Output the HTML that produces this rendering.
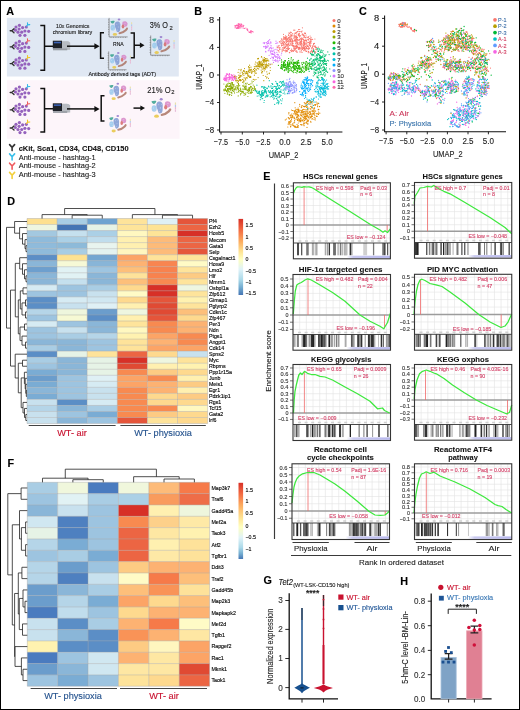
<!DOCTYPE html>
<html><head><meta charset="utf-8"><style>
html,body{margin:0;padding:0;background:#fff;}
svg{display:block;font-family:"Liberation Sans",sans-serif;will-change:transform;}
</style></head><body>
<svg width="520" height="710" viewBox="0 0 520 710">
<defs>
<linearGradient id="rdylbu" x1="0" y1="0" x2="0" y2="1">
<stop offset="0" stop-color="#d73027"/><stop offset="0.15" stop-color="#f46d43"/><stop offset="0.3" stop-color="#fdae61"/>
<stop offset="0.42" stop-color="#fee090"/><stop offset="0.53" stop-color="#ffffbf"/><stop offset="0.66" stop-color="#e0f3f8"/>
<stop offset="0.8" stop-color="#abd9e9"/><stop offset="0.9" stop-color="#74add1"/><stop offset="1" stop-color="#4575b4"/>
</linearGradient>
<linearGradient id="rdylbuF" x1="0" y1="0" x2="0" y2="1">
<stop offset="0" stop-color="#d73027"/><stop offset="0.15" stop-color="#f46d43"/><stop offset="0.3" stop-color="#fdae61"/>
<stop offset="0.45" stop-color="#fee090"/><stop offset="0.58" stop-color="#ffffbf"/><stop offset="0.72" stop-color="#e0f3f8"/>
<stop offset="0.85" stop-color="#abd9e9"/><stop offset="0.93" stop-color="#74add1"/><stop offset="1" stop-color="#4575b4"/>
</linearGradient>
</defs>
<rect x="0" y="0" width="520" height="710" fill="#fff"/>
<rect x="27" y="218.5" width="30.1" height="6.03" fill="#fde08f"/>
<rect x="57.1" y="218.5" width="30.1" height="6.03" fill="#a8cde4"/>
<rect x="87.2" y="218.5" width="30.1" height="6.03" fill="#6fa3d0"/>
<rect x="117.3" y="218.5" width="30.1" height="6.03" fill="#fee39a"/>
<rect x="147.4" y="218.5" width="30.1" height="6.03" fill="#dff0f5"/>
<rect x="177.5" y="218.5" width="30.1" height="6.03" fill="#e5553a"/>
<rect x="27" y="224.53" width="30.1" height="6.03" fill="#eef6e0"/>
<rect x="57.1" y="224.53" width="30.1" height="6.03" fill="#4575b4"/>
<rect x="87.2" y="224.53" width="30.1" height="6.03" fill="#e6f3e6"/>
<rect x="117.3" y="224.53" width="30.1" height="6.03" fill="#fee49a"/>
<rect x="147.4" y="224.53" width="30.1" height="6.03" fill="#fee394"/>
<rect x="177.5" y="224.53" width="30.1" height="6.03" fill="#ec6543"/>
<rect x="27" y="230.56" width="30.1" height="6.03" fill="#a3c8e0"/>
<rect x="57.1" y="230.56" width="30.1" height="6.03" fill="#c5e0ee"/>
<rect x="87.2" y="230.56" width="30.1" height="6.03" fill="#abd0e6"/>
<rect x="117.3" y="230.56" width="30.1" height="6.03" fill="#fff8c0"/>
<rect x="147.4" y="230.56" width="30.1" height="6.03" fill="#fee497"/>
<rect x="177.5" y="230.56" width="30.1" height="6.03" fill="#d73027"/>
<rect x="27" y="236.59" width="30.1" height="6.03" fill="#8fbbdb"/>
<rect x="57.1" y="236.59" width="30.1" height="6.03" fill="#abd0e6"/>
<rect x="87.2" y="236.59" width="30.1" height="6.03" fill="#c0dded"/>
<rect x="117.3" y="236.59" width="30.1" height="6.03" fill="#fff0b0"/>
<rect x="147.4" y="236.59" width="30.1" height="6.03" fill="#fdbb79"/>
<rect x="177.5" y="236.59" width="30.1" height="6.03" fill="#ec6543"/>
<rect x="27" y="242.62" width="30.1" height="6.03" fill="#8fbbdb"/>
<rect x="57.1" y="242.62" width="30.1" height="6.03" fill="#8dbad9"/>
<rect x="87.2" y="242.62" width="30.1" height="6.03" fill="#e8f4ef"/>
<rect x="117.3" y="242.62" width="30.1" height="6.03" fill="#fff0b0"/>
<rect x="147.4" y="242.62" width="30.1" height="6.03" fill="#fdbb79"/>
<rect x="177.5" y="242.62" width="30.1" height="6.03" fill="#ec6543"/>
<rect x="27" y="248.65" width="30.1" height="6.03" fill="#8fbbdb"/>
<rect x="57.1" y="248.65" width="30.1" height="6.03" fill="#a8cde4"/>
<rect x="87.2" y="248.65" width="30.1" height="6.03" fill="#e3f2f0"/>
<rect x="117.3" y="248.65" width="30.1" height="6.03" fill="#fff6bf"/>
<rect x="147.4" y="248.65" width="30.1" height="6.03" fill="#fdbb79"/>
<rect x="177.5" y="248.65" width="30.1" height="6.03" fill="#e5553a"/>
<rect x="27" y="254.68" width="30.1" height="6.03" fill="#5c8ec6"/>
<rect x="57.1" y="254.68" width="30.1" height="6.03" fill="#fee292"/>
<rect x="87.2" y="254.68" width="30.1" height="6.03" fill="#74a6d1"/>
<rect x="117.3" y="254.68" width="30.1" height="6.03" fill="#fca466"/>
<rect x="147.4" y="254.68" width="30.1" height="6.03" fill="#fee39a"/>
<rect x="177.5" y="254.68" width="30.1" height="6.03" fill="#fee39a"/>
<rect x="27" y="260.71" width="30.1" height="6.03" fill="#8ab6d8"/>
<rect x="57.1" y="260.71" width="30.1" height="6.03" fill="#f6f9d6"/>
<rect x="87.2" y="260.71" width="30.1" height="6.03" fill="#88b5d8"/>
<rect x="117.3" y="260.71" width="30.1" height="6.03" fill="#fdb272"/>
<rect x="147.4" y="260.71" width="30.1" height="6.03" fill="#f88550"/>
<rect x="177.5" y="260.71" width="30.1" height="6.03" fill="#fffbc6"/>
<rect x="27" y="266.74" width="30.1" height="6.03" fill="#6d9fce"/>
<rect x="57.1" y="266.74" width="30.1" height="6.03" fill="#e1f2f4"/>
<rect x="87.2" y="266.74" width="30.1" height="6.03" fill="#9ec5e1"/>
<rect x="117.3" y="266.74" width="30.1" height="6.03" fill="#fdbf7a"/>
<rect x="147.4" y="266.74" width="30.1" height="6.03" fill="#f8824e"/>
<rect x="177.5" y="266.74" width="30.1" height="6.03" fill="#fee49b"/>
<rect x="27" y="272.77" width="30.1" height="6.03" fill="#8ab6d8"/>
<rect x="57.1" y="272.77" width="30.1" height="6.03" fill="#e1f2f4"/>
<rect x="87.2" y="272.77" width="30.1" height="6.03" fill="#8ab6d8"/>
<rect x="117.3" y="272.77" width="30.1" height="6.03" fill="#fee29a"/>
<rect x="147.4" y="272.77" width="30.1" height="6.03" fill="#f8824e"/>
<rect x="177.5" y="272.77" width="30.1" height="6.03" fill="#fdcb83"/>
<rect x="27" y="278.8" width="30.1" height="6.03" fill="#8ab6d8"/>
<rect x="57.1" y="278.8" width="30.1" height="6.03" fill="#c5e0ee"/>
<rect x="87.2" y="278.8" width="30.1" height="6.03" fill="#8ab6d8"/>
<rect x="117.3" y="278.8" width="30.1" height="6.03" fill="#fdbf7a"/>
<rect x="147.4" y="278.8" width="30.1" height="6.03" fill="#f88a50"/>
<rect x="177.5" y="278.8" width="30.1" height="6.03" fill="#fee49b"/>
<rect x="27" y="284.83" width="30.1" height="6.03" fill="#d6ebf3"/>
<rect x="57.1" y="284.83" width="30.1" height="6.03" fill="#9dc4e0"/>
<rect x="87.2" y="284.83" width="30.1" height="6.03" fill="#a9cde4"/>
<rect x="117.3" y="284.83" width="30.1" height="6.03" fill="#fed98e"/>
<rect x="147.4" y="284.83" width="30.1" height="6.03" fill="#d73027"/>
<rect x="177.5" y="284.83" width="30.1" height="6.03" fill="#eef6e0"/>
<rect x="27" y="290.86" width="30.1" height="6.03" fill="#9dc4e0"/>
<rect x="57.1" y="290.86" width="30.1" height="6.03" fill="#9dc4e0"/>
<rect x="87.2" y="290.86" width="30.1" height="6.03" fill="#c8e1ee"/>
<rect x="117.3" y="290.86" width="30.1" height="6.03" fill="#fffbc6"/>
<rect x="147.4" y="290.86" width="30.1" height="6.03" fill="#d73027"/>
<rect x="177.5" y="290.86" width="30.1" height="6.03" fill="#fee49b"/>
<rect x="27" y="296.89" width="30.1" height="6.03" fill="#5b8ec6"/>
<rect x="57.1" y="296.89" width="30.1" height="6.03" fill="#d6ebf3"/>
<rect x="87.2" y="296.89" width="30.1" height="6.03" fill="#d0e7f1"/>
<rect x="117.3" y="296.89" width="30.1" height="6.03" fill="#fed98e"/>
<rect x="147.4" y="296.89" width="30.1" height="6.03" fill="#e5553a"/>
<rect x="177.5" y="296.89" width="30.1" height="6.03" fill="#fff2b0"/>
<rect x="27" y="302.92" width="30.1" height="6.03" fill="#5b8ec6"/>
<rect x="57.1" y="302.92" width="30.1" height="6.03" fill="#c8e1ee"/>
<rect x="87.2" y="302.92" width="30.1" height="6.03" fill="#dff0f5"/>
<rect x="117.3" y="302.92" width="30.1" height="6.03" fill="#fff0b0"/>
<rect x="147.4" y="302.92" width="30.1" height="6.03" fill="#e04a33"/>
<rect x="177.5" y="302.92" width="30.1" height="6.03" fill="#fee49b"/>
<rect x="27" y="308.95" width="30.1" height="6.03" fill="#b5d5e8"/>
<rect x="57.1" y="308.95" width="30.1" height="6.03" fill="#eef6dd"/>
<rect x="87.2" y="308.95" width="30.1" height="6.03" fill="#6b9dcc"/>
<rect x="117.3" y="308.95" width="30.1" height="6.03" fill="#eef6e0"/>
<rect x="147.4" y="308.95" width="30.1" height="6.03" fill="#e04a33"/>
<rect x="177.5" y="308.95" width="30.1" height="6.03" fill="#fdbf7a"/>
<rect x="27" y="314.98" width="30.1" height="6.03" fill="#9dc4e0"/>
<rect x="57.1" y="314.98" width="30.1" height="6.03" fill="#f6f9d4"/>
<rect x="87.2" y="314.98" width="30.1" height="6.03" fill="#5b8ec6"/>
<rect x="117.3" y="314.98" width="30.1" height="6.03" fill="#fff0b0"/>
<rect x="147.4" y="314.98" width="30.1" height="6.03" fill="#e5553a"/>
<rect x="177.5" y="314.98" width="30.1" height="6.03" fill="#fed98e"/>
<rect x="27" y="321.01" width="30.1" height="6.03" fill="#d6ebf3"/>
<rect x="57.1" y="321.01" width="30.1" height="6.03" fill="#9dc4e0"/>
<rect x="87.2" y="321.01" width="30.1" height="6.03" fill="#8ab6d8"/>
<rect x="117.3" y="321.01" width="30.1" height="6.03" fill="#fee49b"/>
<rect x="147.4" y="321.01" width="30.1" height="6.03" fill="#f88a50"/>
<rect x="177.5" y="321.01" width="30.1" height="6.03" fill="#fdb272"/>
<rect x="27" y="327.04" width="30.1" height="6.03" fill="#9dc4e0"/>
<rect x="57.1" y="327.04" width="30.1" height="6.03" fill="#c8e1ee"/>
<rect x="87.2" y="327.04" width="30.1" height="6.03" fill="#8ab6d8"/>
<rect x="117.3" y="327.04" width="30.1" height="6.03" fill="#fff8c0"/>
<rect x="147.4" y="327.04" width="30.1" height="6.03" fill="#f88a50"/>
<rect x="177.5" y="327.04" width="30.1" height="6.03" fill="#fdb272"/>
<rect x="27" y="333.07" width="30.1" height="6.03" fill="#9dc4e0"/>
<rect x="57.1" y="333.07" width="30.1" height="6.03" fill="#a9cde4"/>
<rect x="87.2" y="333.07" width="30.1" height="6.03" fill="#b5d5e8"/>
<rect x="117.3" y="333.07" width="30.1" height="6.03" fill="#fff2b0"/>
<rect x="147.4" y="333.07" width="30.1" height="6.03" fill="#fca466"/>
<rect x="177.5" y="333.07" width="30.1" height="6.03" fill="#f88a50"/>
<rect x="27" y="339.1" width="30.1" height="6.03" fill="#8ab6d8"/>
<rect x="57.1" y="339.1" width="30.1" height="6.03" fill="#8ab6d8"/>
<rect x="87.2" y="339.1" width="30.1" height="6.03" fill="#9dc4e0"/>
<rect x="117.3" y="339.1" width="30.1" height="6.03" fill="#fee39a"/>
<rect x="147.4" y="339.1" width="30.1" height="6.03" fill="#fdb272"/>
<rect x="177.5" y="339.1" width="30.1" height="6.03" fill="#f88a50"/>
<rect x="27" y="345.13" width="30.1" height="6.03" fill="#a9cde4"/>
<rect x="57.1" y="345.13" width="30.1" height="6.03" fill="#8ab6d8"/>
<rect x="87.2" y="345.13" width="30.1" height="6.03" fill="#9dc4e0"/>
<rect x="117.3" y="345.13" width="30.1" height="6.03" fill="#fee39a"/>
<rect x="147.4" y="345.13" width="30.1" height="6.03" fill="#fca466"/>
<rect x="177.5" y="345.13" width="30.1" height="6.03" fill="#fca466"/>
<rect x="27" y="351.16" width="30.1" height="6.03" fill="#5b8ec6"/>
<rect x="57.1" y="351.16" width="30.1" height="6.03" fill="#e6f3e6"/>
<rect x="87.2" y="351.16" width="30.1" height="6.03" fill="#fee39a"/>
<rect x="117.3" y="351.16" width="30.1" height="6.03" fill="#ec6543"/>
<rect x="147.4" y="351.16" width="30.1" height="6.03" fill="#fed98e"/>
<rect x="177.5" y="351.16" width="30.1" height="6.03" fill="#c8e1ee"/>
<rect x="27" y="357.19" width="30.1" height="6.03" fill="#a9cde4"/>
<rect x="57.1" y="357.19" width="30.1" height="6.03" fill="#8ab6d8"/>
<rect x="87.2" y="357.19" width="30.1" height="6.03" fill="#e6f3e6"/>
<rect x="117.3" y="357.19" width="30.1" height="6.03" fill="#d73027"/>
<rect x="147.4" y="357.19" width="30.1" height="6.03" fill="#eef6e0"/>
<rect x="177.5" y="357.19" width="30.1" height="6.03" fill="#fee39a"/>
<rect x="27" y="363.22" width="30.1" height="6.03" fill="#9dc4e0"/>
<rect x="57.1" y="363.22" width="30.1" height="6.03" fill="#8ab6d8"/>
<rect x="87.2" y="363.22" width="30.1" height="6.03" fill="#e6f3e6"/>
<rect x="117.3" y="363.22" width="30.1" height="6.03" fill="#e04a33"/>
<rect x="147.4" y="363.22" width="30.1" height="6.03" fill="#fff0b0"/>
<rect x="177.5" y="363.22" width="30.1" height="6.03" fill="#fff2b0"/>
<rect x="27" y="369.25" width="30.1" height="6.03" fill="#7aacd4"/>
<rect x="57.1" y="369.25" width="30.1" height="6.03" fill="#8ab6d8"/>
<rect x="87.2" y="369.25" width="30.1" height="6.03" fill="#e6f3e6"/>
<rect x="117.3" y="369.25" width="30.1" height="6.03" fill="#f88a50"/>
<rect x="147.4" y="369.25" width="30.1" height="6.03" fill="#fdcb83"/>
<rect x="177.5" y="369.25" width="30.1" height="6.03" fill="#fed98e"/>
<rect x="27" y="375.28" width="30.1" height="6.03" fill="#6b9dcc"/>
<rect x="57.1" y="375.28" width="30.1" height="6.03" fill="#9dc4e0"/>
<rect x="87.2" y="375.28" width="30.1" height="6.03" fill="#dff0f5"/>
<rect x="117.3" y="375.28" width="30.1" height="6.03" fill="#fca466"/>
<rect x="147.4" y="375.28" width="30.1" height="6.03" fill="#f88a50"/>
<rect x="177.5" y="375.28" width="30.1" height="6.03" fill="#fff0b0"/>
<rect x="27" y="381.31" width="30.1" height="6.03" fill="#7aacd4"/>
<rect x="57.1" y="381.31" width="30.1" height="6.03" fill="#9dc4e0"/>
<rect x="87.2" y="381.31" width="30.1" height="6.03" fill="#d6ebf3"/>
<rect x="117.3" y="381.31" width="30.1" height="6.03" fill="#fca466"/>
<rect x="147.4" y="381.31" width="30.1" height="6.03" fill="#fdb272"/>
<rect x="177.5" y="381.31" width="30.1" height="6.03" fill="#fdcb83"/>
<rect x="27" y="387.34" width="30.1" height="6.03" fill="#8ab6d8"/>
<rect x="57.1" y="387.34" width="30.1" height="6.03" fill="#9dc4e0"/>
<rect x="87.2" y="387.34" width="30.1" height="6.03" fill="#c8e1ee"/>
<rect x="117.3" y="387.34" width="30.1" height="6.03" fill="#f88a50"/>
<rect x="147.4" y="387.34" width="30.1" height="6.03" fill="#fdb272"/>
<rect x="177.5" y="387.34" width="30.1" height="6.03" fill="#fff0b0"/>
<rect x="27" y="393.37" width="30.1" height="6.03" fill="#7aacd4"/>
<rect x="57.1" y="393.37" width="30.1" height="6.03" fill="#9dc4e0"/>
<rect x="87.2" y="393.37" width="30.1" height="6.03" fill="#c8e1ee"/>
<rect x="117.3" y="393.37" width="30.1" height="6.03" fill="#f88a50"/>
<rect x="147.4" y="393.37" width="30.1" height="6.03" fill="#fed98e"/>
<rect x="177.5" y="393.37" width="30.1" height="6.03" fill="#fdcb83"/>
<rect x="27" y="399.4" width="30.1" height="6.03" fill="#c8e1ee"/>
<rect x="57.1" y="399.4" width="30.1" height="6.03" fill="#5b8ec6"/>
<rect x="87.2" y="399.4" width="30.1" height="6.03" fill="#d6ebf3"/>
<rect x="117.3" y="399.4" width="30.1" height="6.03" fill="#f88a50"/>
<rect x="147.4" y="399.4" width="30.1" height="6.03" fill="#fed98e"/>
<rect x="177.5" y="399.4" width="30.1" height="6.03" fill="#fed98e"/>
<rect x="27" y="405.43" width="30.1" height="6.03" fill="#b5d5e8"/>
<rect x="57.1" y="405.43" width="30.1" height="6.03" fill="#8ab6d8"/>
<rect x="87.2" y="405.43" width="30.1" height="6.03" fill="#a9cde4"/>
<rect x="117.3" y="405.43" width="30.1" height="6.03" fill="#f88a50"/>
<rect x="147.4" y="405.43" width="30.1" height="6.03" fill="#f88a50"/>
<rect x="177.5" y="405.43" width="30.1" height="6.03" fill="#fff8c0"/>
<rect x="27" y="411.46" width="30.1" height="6.03" fill="#c8e1ee"/>
<rect x="57.1" y="411.46" width="30.1" height="6.03" fill="#9dc4e0"/>
<rect x="87.2" y="411.46" width="30.1" height="6.03" fill="#7aacd4"/>
<rect x="117.3" y="411.46" width="30.1" height="6.03" fill="#f88a50"/>
<rect x="147.4" y="411.46" width="30.1" height="6.03" fill="#fdcb83"/>
<rect x="177.5" y="411.46" width="30.1" height="6.03" fill="#fed98e"/>
<rect x="27" y="417.49" width="30.1" height="6.03" fill="#c8e1ee"/>
<rect x="57.1" y="417.49" width="30.1" height="6.03" fill="#8ab6d8"/>
<rect x="87.2" y="417.49" width="30.1" height="6.03" fill="#9dc4e0"/>
<rect x="117.3" y="417.49" width="30.1" height="6.03" fill="#e5553a"/>
<rect x="147.4" y="417.49" width="30.1" height="6.03" fill="#fee39a"/>
<rect x="177.5" y="417.49" width="30.1" height="6.03" fill="#fed98e"/>
<path d="M27 218.5H207.6M27 224.53H207.6M27 230.56H207.6M27 236.59H207.6M27 242.62H207.6M27 248.65H207.6M27 254.68H207.6M27 260.71H207.6M27 266.74H207.6M27 272.77H207.6M27 278.8H207.6M27 284.83H207.6M27 290.86H207.6M27 296.89H207.6M27 302.92H207.6M27 308.95H207.6M27 314.98H207.6M27 321.01H207.6M27 327.04H207.6M27 333.07H207.6M27 339.1H207.6M27 345.13H207.6M27 351.16H207.6M27 357.19H207.6M27 363.22H207.6M27 369.25H207.6M27 375.28H207.6M27 381.31H207.6M27 387.34H207.6M27 393.37H207.6M27 399.4H207.6M27 405.43H207.6M27 411.46H207.6M27 417.49H207.6M27 423.52H207.6M27 218.5V423.52M57.1 218.5V423.52M87.2 218.5V423.52M117.3 218.5V423.52M147.4 218.5V423.52M177.5 218.5V423.52M207.6 218.5V423.52" stroke="#a0a0a0" stroke-width="0.5" fill="none" opacity="0.8"/>
<text x="208.9" y="223.42" font-size="5.3" stroke="#000" stroke-width="0.12">Pf4</text>
<text x="208.9" y="229.45" font-size="5.3" stroke="#000" stroke-width="0.12">Ezh2</text>
<text x="208.9" y="235.48" font-size="5.3" stroke="#000" stroke-width="0.12">Hoxb5</text>
<text x="208.9" y="241.51" font-size="5.3" stroke="#000" stroke-width="0.12">Mecom</text>
<text x="208.9" y="247.54" font-size="5.3" stroke="#000" stroke-width="0.12">Gata3</text>
<text x="208.9" y="253.57" font-size="5.3" stroke="#000" stroke-width="0.12">Selp</text>
<text x="208.9" y="259.6" font-size="5.3" stroke="#000" stroke-width="0.12">Csgalnact1</text>
<text x="208.9" y="265.63" font-size="5.3" stroke="#000" stroke-width="0.12">Hoxa9</text>
<text x="208.9" y="271.66" font-size="5.3" stroke="#000" stroke-width="0.12">Lmo2</text>
<text x="208.9" y="277.69" font-size="5.3" stroke="#000" stroke-width="0.12">Hlf</text>
<text x="208.9" y="283.72" font-size="5.3" stroke="#000" stroke-width="0.12">Mmrn1</text>
<text x="208.9" y="289.75" font-size="5.3" stroke="#000" stroke-width="0.12">Osbpl1a</text>
<text x="208.9" y="295.78" font-size="5.3" stroke="#000" stroke-width="0.12">Zfp612</text>
<text x="208.9" y="301.81" font-size="5.3" stroke="#000" stroke-width="0.12">Gimap1</text>
<text x="208.9" y="307.84" font-size="5.3" stroke="#000" stroke-width="0.12">Pglyrp2</text>
<text x="208.9" y="313.87" font-size="5.3" stroke="#000" stroke-width="0.12">Cdkn1c</text>
<text x="208.9" y="319.9" font-size="5.3" stroke="#000" stroke-width="0.12">Zfp467</text>
<text x="208.9" y="325.93" font-size="5.3" stroke="#000" stroke-width="0.12">Per3</text>
<text x="208.9" y="331.96" font-size="5.3" stroke="#000" stroke-width="0.12">Ndn</text>
<text x="208.9" y="337.99" font-size="5.3" stroke="#000" stroke-width="0.12">Ptgs1</text>
<text x="208.9" y="344.02" font-size="5.3" stroke="#000" stroke-width="0.12">Angpt1</text>
<text x="208.9" y="350.05" font-size="5.3" stroke="#000" stroke-width="0.12">Cdk14</text>
<text x="208.9" y="356.08" font-size="5.3" stroke="#000" stroke-width="0.12">Spns2</text>
<text x="208.9" y="362.11" font-size="5.3" stroke="#000" stroke-width="0.12">Myc</text>
<text x="208.9" y="368.14" font-size="5.3" stroke="#000" stroke-width="0.12">Rbpms</text>
<text x="208.9" y="374.17" font-size="5.3" stroke="#000" stroke-width="0.12">Ppp1r15a</text>
<text x="208.9" y="380.2" font-size="5.3" stroke="#000" stroke-width="0.12">Junb</text>
<text x="208.9" y="386.23" font-size="5.3" stroke="#000" stroke-width="0.12">Meis1</text>
<text x="208.9" y="392.26" font-size="5.3" stroke="#000" stroke-width="0.12">Egr1</text>
<text x="208.9" y="398.29" font-size="5.3" stroke="#000" stroke-width="0.12">Pdzk1ip1</text>
<text x="208.9" y="404.32" font-size="5.3" stroke="#000" stroke-width="0.12">Rgs1</text>
<text x="208.9" y="410.35" font-size="5.3" stroke="#000" stroke-width="0.12">Tcf15</text>
<text x="208.9" y="416.38" font-size="5.3" stroke="#000" stroke-width="0.12">Gata2</text>
<text x="208.9" y="422.41" font-size="5.3" stroke="#000" stroke-width="0.12">Irf6</text>
<path d="M26 245.63V251.66M26 245.63H27M26 251.66H27M25 239.6V248.65M25 239.6H27M25 248.65H26M22.5 233.57V244.13M22.5 233.57H27M22.5 244.13H25M19.6 227.54V238.85M19.6 227.54H27M19.6 238.85H22.5M14.6 221.51V233.2M14.6 221.51H27M14.6 233.2H19.6M26 275.79V281.81M26 275.79H27M26 281.81H27M24.5 269.75V278.8M24.5 269.75H27M24.5 278.8H26M22.5 263.73V274.28M22.5 263.73H27M22.5 274.28H24.5M19.7 257.69V269M19.7 257.69H27M19.7 269H22.5M23 287.85V293.88M23 287.85H27M23 293.88H27M25.5 299.9V305.94M25.5 299.9H27M25.5 305.94H27M25.5 311.97V318M25.5 311.97H27M25.5 318H27M22 302.92V314.98M22 302.92H25.5M22 314.98H25.5M20.3 290.86V308.95M20.3 290.86H23M20.3 308.95H22M24.5 324.02V330.06M24.5 324.02H27M24.5 330.06H27M25.5 342.12V348.14M25.5 342.12H27M25.5 348.14H27M22 336.09V345.13M22 336.09H27M22 345.13H25.5M20 327.04V340.61M20 327.04H24.5M20 340.61H22M18.3 299.9V333.82M18.3 299.9H20.3M18.3 333.82H20M15.3 263.35V316.86M15.3 263.35H19.7M15.3 316.86H18.3M22.5 360.21V366.24M22.5 360.21H27M22.5 366.24H27M26.3 390.36V396.38M26.3 390.36H27M26.3 396.38H27M25.8 384.33V393.37M25.8 384.33H27M25.8 393.37H26.3M25.2 378.3V388.85M25.2 378.3H27M25.2 388.85H25.8M24.4 372.26V383.57M24.4 372.26H27M24.4 383.57H25.2M25.8 414.48V420.5M25.8 414.48H27M25.8 420.5H27M24.5 408.45V417.49M24.5 408.45H27M24.5 417.49H25.8M23 402.42V412.97M23 402.42H27M23 412.97H24.5M21.2 377.92V407.69M21.2 377.92H24.4M21.2 407.69H23M18.3 363.22V392.8M18.3 363.22H22.5M18.3 392.8H21.2M15.2 354.18V378.01M15.2 354.18H27M15.2 378.01H18.3M10.5 290.11V366.09M10.5 290.11H15.3M10.5 366.09H15.2M6.5 227.36V328.1M6.5 227.36H14.6M6.5 328.1H10.5" stroke="#222" stroke-width="0.8" fill="none"/>
<path d="M72.15 215.2H102.25M72.15 215.2V218.5M102.25 215.2V218.5M42.05 214.6H87.2M42.05 214.6V218.5M87.2 214.6V215.2M162.45 215.2H192.55M162.45 215.2V218.5M192.55 215.2V218.5M132.35 214.6H177.5M132.35 214.6V218.5M177.5 214.6V215.2M64.62 208.5H154.93M64.62 208.5V214.6M154.93 208.5V214.6" stroke="#222" stroke-width="0.8" fill="none"/>
<rect x="238.5" y="218.9" width="4.6" height="76.1" fill="url(#rdylbu)"/>
<text x="245.5" y="227.4" font-size="5.3" stroke="#000" stroke-width="0.12">1.5</text>
<text x="245.5" y="238.5" font-size="5.3" stroke="#000" stroke-width="0.12">1</text>
<text x="245.5" y="249.9" font-size="5.3" stroke="#000" stroke-width="0.12">0.5</text>
<text x="245.5" y="261.4" font-size="5.3" stroke="#000" stroke-width="0.12">0</text>
<text x="245.5" y="272.9" font-size="5.3" stroke="#000" stroke-width="0.12">−0.5</text>
<text x="245.5" y="284.2" font-size="5.3" stroke="#000" stroke-width="0.12">−1</text>
<text x="245.5" y="295.4" font-size="5.3" stroke="#000" stroke-width="0.12">−1.5</text>
<path d="M28.7 425.5H115.6M120.4 425.5H205.8" stroke="#444" stroke-width="1.2"/>
<text x="72" y="435.8" font-size="9.2" fill="#c8102e" text-anchor="middle" stroke="#c8102e" stroke-width="0.12">WT- air</text>
<text x="163" y="435.8" font-size="9.2" fill="#23518d" text-anchor="middle" stroke="#23518d" stroke-width="0.12">WT- physioxia</text>
<rect x="27.3" y="482.3" width="30.38" height="11.33" fill="#a9cde4"/>
<rect x="57.68" y="482.3" width="30.38" height="11.33" fill="#f0f7dc"/>
<rect x="88.06" y="482.3" width="30.38" height="11.33" fill="#4a7bbf"/>
<rect x="118.44" y="482.3" width="30.38" height="11.33" fill="#f0f7dc"/>
<rect x="148.82" y="482.3" width="30.38" height="11.33" fill="#fdbb79"/>
<rect x="179.2" y="482.3" width="30.38" height="11.33" fill="#f67a49"/>
<rect x="27.3" y="493.63" width="30.38" height="11.33" fill="#9dc4e0"/>
<rect x="57.68" y="493.63" width="30.38" height="11.33" fill="#e1f2f4"/>
<rect x="88.06" y="493.63" width="30.38" height="11.33" fill="#a9cde4"/>
<rect x="118.44" y="493.63" width="30.38" height="11.33" fill="#abd0e6"/>
<rect x="148.82" y="493.63" width="30.38" height="11.33" fill="#f99b5d"/>
<rect x="179.2" y="493.63" width="30.38" height="11.33" fill="#ee6d48"/>
<rect x="27.3" y="504.96" width="30.38" height="11.33" fill="#8ab6d8"/>
<rect x="57.68" y="504.96" width="30.38" height="11.33" fill="#c8e1ee"/>
<rect x="88.06" y="504.96" width="30.38" height="11.33" fill="#9dc4e0"/>
<rect x="118.44" y="504.96" width="30.38" height="11.33" fill="#d73027"/>
<rect x="148.82" y="504.96" width="30.38" height="11.33" fill="#fff0b0"/>
<rect x="179.2" y="504.96" width="30.38" height="11.33" fill="#eef6dd"/>
<rect x="27.3" y="516.29" width="30.38" height="11.33" fill="#d0e7f1"/>
<rect x="57.68" y="516.29" width="30.38" height="11.33" fill="#4e80c0"/>
<rect x="88.06" y="516.29" width="30.38" height="11.33" fill="#9dc4e0"/>
<rect x="118.44" y="516.29" width="30.38" height="11.33" fill="#f88a50"/>
<rect x="148.82" y="516.29" width="30.38" height="11.33" fill="#fdd08a"/>
<rect x="179.2" y="516.29" width="30.38" height="11.33" fill="#fee9a6"/>
<rect x="27.3" y="527.62" width="30.38" height="11.33" fill="#e6f3e6"/>
<rect x="57.68" y="527.62" width="30.38" height="11.33" fill="#4e80c0"/>
<rect x="88.06" y="527.62" width="30.38" height="11.33" fill="#9dc4e0"/>
<rect x="118.44" y="527.62" width="30.38" height="11.33" fill="#ec6543"/>
<rect x="148.82" y="527.62" width="30.38" height="11.33" fill="#fee7a3"/>
<rect x="179.2" y="527.62" width="30.38" height="11.33" fill="#fff2b0"/>
<rect x="27.3" y="538.95" width="30.38" height="11.33" fill="#b5d5e8"/>
<rect x="57.68" y="538.95" width="30.38" height="11.33" fill="#7aacd4"/>
<rect x="88.06" y="538.95" width="30.38" height="11.33" fill="#9dc4e0"/>
<rect x="118.44" y="538.95" width="30.38" height="11.33" fill="#ec6543"/>
<rect x="148.82" y="538.95" width="30.38" height="11.33" fill="#fff0b0"/>
<rect x="179.2" y="538.95" width="30.38" height="11.33" fill="#fee29a"/>
<rect x="27.3" y="550.28" width="30.38" height="11.33" fill="#9dc4e0"/>
<rect x="57.68" y="550.28" width="30.38" height="11.33" fill="#a9cde4"/>
<rect x="88.06" y="550.28" width="30.38" height="11.33" fill="#7aacd4"/>
<rect x="118.44" y="550.28" width="30.38" height="11.33" fill="#ec6543"/>
<rect x="148.82" y="550.28" width="30.38" height="11.33" fill="#fee9a6"/>
<rect x="179.2" y="550.28" width="30.38" height="11.33" fill="#fee29a"/>
<rect x="27.3" y="561.61" width="30.38" height="11.33" fill="#b5d5e8"/>
<rect x="57.68" y="561.61" width="30.38" height="11.33" fill="#6b9dcc"/>
<rect x="88.06" y="561.61" width="30.38" height="11.33" fill="#9dc4e0"/>
<rect x="118.44" y="561.61" width="30.38" height="11.33" fill="#fdcb83"/>
<rect x="148.82" y="561.61" width="30.38" height="11.33" fill="#fdb272"/>
<rect x="179.2" y="561.61" width="30.38" height="11.33" fill="#fdb272"/>
<rect x="27.3" y="572.94" width="30.38" height="11.33" fill="#b5d5e8"/>
<rect x="57.68" y="572.94" width="30.38" height="11.33" fill="#4e80c0"/>
<rect x="88.06" y="572.94" width="30.38" height="11.33" fill="#c8e1ee"/>
<rect x="118.44" y="572.94" width="30.38" height="11.33" fill="#fffbc6"/>
<rect x="148.82" y="572.94" width="30.38" height="11.33" fill="#f67a49"/>
<rect x="179.2" y="572.94" width="30.38" height="11.33" fill="#fdbf7a"/>
<rect x="27.3" y="584.27" width="30.38" height="11.33" fill="#6b9dcc"/>
<rect x="57.68" y="584.27" width="30.38" height="11.33" fill="#8ab6d8"/>
<rect x="88.06" y="584.27" width="30.38" height="11.33" fill="#a9cde4"/>
<rect x="118.44" y="584.27" width="30.38" height="11.33" fill="#fdbf7a"/>
<rect x="148.82" y="584.27" width="30.38" height="11.33" fill="#f99357"/>
<rect x="179.2" y="584.27" width="30.38" height="11.33" fill="#fee29a"/>
<rect x="27.3" y="595.6" width="30.38" height="11.33" fill="#6b9dcc"/>
<rect x="57.68" y="595.6" width="30.38" height="11.33" fill="#b5d5e8"/>
<rect x="88.06" y="595.6" width="30.38" height="11.33" fill="#7aacd4"/>
<rect x="118.44" y="595.6" width="30.38" height="11.33" fill="#fca466"/>
<rect x="148.82" y="595.6" width="30.38" height="11.33" fill="#fed98e"/>
<rect x="179.2" y="595.6" width="30.38" height="11.33" fill="#fdbf7a"/>
<rect x="27.3" y="606.93" width="30.38" height="11.33" fill="#4a7bbf"/>
<rect x="57.68" y="606.93" width="30.38" height="11.33" fill="#c0dded"/>
<rect x="88.06" y="606.93" width="30.38" height="11.33" fill="#9dc4e0"/>
<rect x="118.44" y="606.93" width="30.38" height="11.33" fill="#fed98e"/>
<rect x="148.82" y="606.93" width="30.38" height="11.33" fill="#fdb272"/>
<rect x="179.2" y="606.93" width="30.38" height="11.33" fill="#fdb272"/>
<rect x="27.3" y="618.26" width="30.38" height="11.33" fill="#c8e1ee"/>
<rect x="57.68" y="618.26" width="30.38" height="11.33" fill="#5b8ec6"/>
<rect x="88.06" y="618.26" width="30.38" height="11.33" fill="#a9cde4"/>
<rect x="118.44" y="618.26" width="30.38" height="11.33" fill="#fdb272"/>
<rect x="148.82" y="618.26" width="30.38" height="11.33" fill="#f67a49"/>
<rect x="179.2" y="618.26" width="30.38" height="11.33" fill="#fffbc6"/>
<rect x="27.3" y="629.59" width="30.38" height="11.33" fill="#c8e1ee"/>
<rect x="57.68" y="629.59" width="30.38" height="11.33" fill="#8ab6d8"/>
<rect x="88.06" y="629.59" width="30.38" height="11.33" fill="#5b8ec6"/>
<rect x="118.44" y="629.59" width="30.38" height="11.33" fill="#f99357"/>
<rect x="148.82" y="629.59" width="30.38" height="11.33" fill="#fdb272"/>
<rect x="179.2" y="629.59" width="30.38" height="11.33" fill="#fee7a3"/>
<rect x="27.3" y="640.92" width="30.38" height="11.33" fill="#fff2b0"/>
<rect x="57.68" y="640.92" width="30.38" height="11.33" fill="#5b8ec6"/>
<rect x="88.06" y="640.92" width="30.38" height="11.33" fill="#5b8ec6"/>
<rect x="118.44" y="640.92" width="30.38" height="11.33" fill="#fdcb83"/>
<rect x="148.82" y="640.92" width="30.38" height="11.33" fill="#fff6bf"/>
<rect x="179.2" y="640.92" width="30.38" height="11.33" fill="#fca466"/>
<rect x="27.3" y="652.25" width="30.38" height="11.33" fill="#4a7bbf"/>
<rect x="57.68" y="652.25" width="30.38" height="11.33" fill="#9dc4e0"/>
<rect x="88.06" y="652.25" width="30.38" height="11.33" fill="#d0e7f1"/>
<rect x="118.44" y="652.25" width="30.38" height="11.33" fill="#fdb272"/>
<rect x="148.82" y="652.25" width="30.38" height="11.33" fill="#fee7a3"/>
<rect x="179.2" y="652.25" width="30.38" height="11.33" fill="#fca466"/>
<rect x="27.3" y="663.58" width="30.38" height="11.33" fill="#6b9dcc"/>
<rect x="57.68" y="663.58" width="30.38" height="11.33" fill="#8ab6d8"/>
<rect x="88.06" y="663.58" width="30.38" height="11.33" fill="#d0e7f1"/>
<rect x="118.44" y="663.58" width="30.38" height="11.33" fill="#fee7a3"/>
<rect x="148.82" y="663.58" width="30.38" height="11.33" fill="#fee7a3"/>
<rect x="179.2" y="663.58" width="30.38" height="11.33" fill="#e04a33"/>
<rect x="27.3" y="674.91" width="30.38" height="11.33" fill="#9dc4e0"/>
<rect x="57.68" y="674.91" width="30.38" height="11.33" fill="#7aacd4"/>
<rect x="88.06" y="674.91" width="30.38" height="11.33" fill="#9dc4e0"/>
<rect x="118.44" y="674.91" width="30.38" height="11.33" fill="#fee39a"/>
<rect x="148.82" y="674.91" width="30.38" height="11.33" fill="#fed98e"/>
<rect x="179.2" y="674.91" width="30.38" height="11.33" fill="#ec6543"/>
<path d="M27.3 482.3H209.58M27.3 493.63H209.58M27.3 504.96H209.58M27.3 516.29H209.58M27.3 527.62H209.58M27.3 538.95H209.58M27.3 550.28H209.58M27.3 561.61H209.58M27.3 572.94H209.58M27.3 584.27H209.58M27.3 595.6H209.58M27.3 606.93H209.58M27.3 618.26H209.58M27.3 629.59H209.58M27.3 640.92H209.58M27.3 652.25H209.58M27.3 663.58H209.58M27.3 674.91H209.58M27.3 686.24H209.58M27.3 482.3V686.24M57.68 482.3V686.24M88.06 482.3V686.24M118.44 482.3V686.24M148.82 482.3V686.24M179.2 482.3V686.24M209.58 482.3V686.24" stroke="#a0a0a0" stroke-width="0.5" fill="none" opacity="0.8"/>
<text x="211.4" y="489.87" font-size="5.3" stroke="#000" stroke-width="0.12">Map3k7</text>
<text x="211.4" y="501.2" font-size="5.3" stroke="#000" stroke-width="0.12">Traf6</text>
<text x="211.4" y="512.53" font-size="5.3" stroke="#000" stroke-width="0.12">Gadd45a</text>
<text x="211.4" y="523.86" font-size="5.3" stroke="#000" stroke-width="0.12">Mef2a</text>
<text x="211.4" y="535.19" font-size="5.3" stroke="#000" stroke-width="0.12">Taok3</text>
<text x="211.4" y="546.52" font-size="5.3" stroke="#000" stroke-width="0.12">Atf2</text>
<text x="211.4" y="557.85" font-size="5.3" stroke="#000" stroke-width="0.12">Tgfbr1</text>
<text x="211.4" y="569.18" font-size="5.3" stroke="#000" stroke-width="0.12">Ddit3</text>
<text x="211.4" y="580.51" font-size="5.3" stroke="#000" stroke-width="0.12">Traf2</text>
<text x="211.4" y="591.84" font-size="5.3" stroke="#000" stroke-width="0.12">Gadd45b</text>
<text x="211.4" y="603.17" font-size="5.3" stroke="#000" stroke-width="0.12">Map2k3</text>
<text x="211.4" y="614.5" font-size="5.3" stroke="#000" stroke-width="0.12">Mapkapk2</text>
<text x="211.4" y="625.83" font-size="5.3" stroke="#000" stroke-width="0.12">Mef2d</text>
<text x="211.4" y="637.16" font-size="5.3" stroke="#000" stroke-width="0.12">Tgfb1</text>
<text x="211.4" y="648.49" font-size="5.3" stroke="#000" stroke-width="0.12">Rapgef2</text>
<text x="211.4" y="659.82" font-size="5.3" stroke="#000" stroke-width="0.12">Rac1</text>
<text x="211.4" y="671.15" font-size="5.3" stroke="#000" stroke-width="0.12">Mknk1</text>
<text x="211.4" y="682.48" font-size="5.3" stroke="#000" stroke-width="0.12">Taok1</text>
<path d="M21.1 487.97V499.3M21.1 487.97H27.3M21.1 499.3H27.3M25.6 521.96V533.28M25.6 521.96H27.3M25.6 533.28H27.3M25.6 544.62V555.95M25.6 544.62H27.3M25.6 555.95H27.3M21.4 527.62V550.28M21.4 527.62H25.6M21.4 550.28H25.6M19.5 510.62V538.95M19.5 510.62H27.3M19.5 538.95H21.4M21.9 567.27V578.61M21.9 567.27H27.3M21.9 578.61H27.3M25 601.26V612.6M25 601.26H27.3M25 612.6H27.3M23 589.94V606.93M23 589.94H27.3M23 606.93H25M22.5 623.92V635.25M22.5 623.92H27.3M22.5 635.25H27.3M19.3 598.43V629.59M19.3 598.43H23M19.3 629.59H22.5M18.3 572.94V614.01M18.3 572.94H21.9M18.3 614.01H19.3M23 669.25V680.58M23 669.25H27.3M23 680.58H27.3M21.4 657.91V674.91M21.4 657.91H27.3M21.4 674.91H23M15 646.59V666.41M15 646.59H27.3M15 666.41H21.4M14.6 593.48V656.5M14.6 593.48H18.3M14.6 656.5H15M12.3 524.79V624.99M12.3 524.79H19.5M12.3 624.99H14.6M7.8 493.63V574.89M7.8 493.63H21.1M7.8 574.89H12.3" stroke="#222" stroke-width="0.8" fill="none"/>
<path d="M72.87 479.7H103.25M72.87 479.7V482.3M103.25 479.7V482.3M42.49 478.2H88.06M42.49 478.2V482.3M88.06 478.2V479.7M164.01 479H194.39M164.01 479V482.3M194.39 479V482.3M133.63 476.7H179.2M133.63 476.7V482.3M179.2 476.7V479M65.28 469.2H156.42M65.28 469.2V478.2M156.42 469.2V476.7" stroke="#222" stroke-width="0.8" fill="none"/>
<rect x="238.5" y="482.8" width="4.6" height="76.2" fill="url(#rdylbuF)"/>
<text x="245.5" y="491.6" font-size="5.3" stroke="#000" stroke-width="0.12">1.5</text>
<text x="245.5" y="503.2" font-size="5.3" stroke="#000" stroke-width="0.12">1</text>
<text x="245.5" y="515.2" font-size="5.3" stroke="#000" stroke-width="0.12">0.5</text>
<text x="245.5" y="527.5" font-size="5.3" stroke="#000" stroke-width="0.12">0</text>
<text x="245.5" y="539.2" font-size="5.3" stroke="#000" stroke-width="0.12">−0.5</text>
<text x="245.5" y="551.2" font-size="5.3" stroke="#000" stroke-width="0.12">−1</text>
<path d="M30.6 688.5H117M120 688.5H207" stroke="#444" stroke-width="1.2"/>
<text x="73" y="699.3" font-size="9.2" fill="#23518d" text-anchor="middle" stroke="#23518d" stroke-width="0.12">WT- physioxia</text>
<text x="164" y="699.3" font-size="9.2" fill="#c8102e" text-anchor="middle" stroke="#c8102e" stroke-width="0.12">WT- air</text>
<defs><g id="mu">
<g opacity="0.82">
<path d="M1.4 3C2.6 2.4 4.6 2.3 5.8 2.7C5.6 4.2 4.6 5.4 3.4 5.4C2.3 5.2 1.6 4.2 1.4 3Z" fill="#2e9f8a"/>
<ellipse cx="10.3" cy="1.1" rx="1.4" ry="1.1" fill="#8f72c8"/>
<path d="M14 3.6C15.6 2.4 18.4 2.8 19 5C19.4 7 18.6 8.6 16.6 8.6C14.8 8.6 13.4 7.4 13.6 5.6Z" fill="#d684c6"/>
<ellipse cx="3.8" cy="9.6" rx="2.3" ry="3" fill="#94c6ec"/>
<path d="M6.2 4.4C7.6 2.6 10.4 2.8 11.2 4.6C12.2 6.4 11.4 8.4 11.6 10.4C11.8 12.6 10.4 14.4 8.8 14.2C7.4 14 7.6 12.2 7 10.8C6.2 9 5.2 6.4 6.2 4.4Z" fill="#7a96d2"/>
<ellipse cx="14.4" cy="8.4" rx="1.4" ry="2.1" fill="#d56262"/>
<path d="M10.8 15.3C13 15 15.6 13.8 17.2 12.2C17.8 11.6 18.3 11 18.5 10.5" stroke="#a9705f" stroke-width="2.1" stroke-linecap="round" fill="none"/>
<ellipse cx="6" cy="16.6" rx="2.2" ry="1.5" fill="#e8c53c"/>
</g>
<g fill="#fff" opacity="0.55"><circle cx="8" cy="6" r="0.45"/><circle cx="9.5" cy="9" r="0.5"/><circle cx="8.6" cy="12" r="0.45"/><circle cx="16.5" cy="5" r="0.5"/><circle cx="3.2" cy="9" r="0.45"/><circle cx="10.4" cy="5.6" r="0.4"/><circle cx="4.5" cy="11" r="0.4"/><circle cx="15.8" cy="7" r="0.4"/></g>
<rect x="22.8" y="4" width="1.1" height="2.2" fill="#e8e0a8"/><rect x="22.8" y="6.2" width="1.1" height="2" fill="#b0c8ee"/><rect x="22.8" y="8.2" width="1.1" height="2.2" fill="#eab8cc"/><rect x="22.8" y="10.4" width="1.1" height="2.2" fill="#e6bcd8"/>
</g>
<g id="mua">
<use href="#mu"/>
<path d="M0 -0.5V19.2H19.2" stroke="#6f6f6f" stroke-width="0.7" fill="none"/>
<path d="M0 1.5h-1.1M0 4h-1.1M0 6.5h-1.1M0 9h-1.1M0 11.5h-1.1M0 14h-1.1M0 16.5h-1.1M2 19.2v1M4.5 19.2v1M7 19.2v1M9.5 19.2v1M12 19.2v1M14.5 19.2v1M17 19.2v1" stroke="#6f6f6f" stroke-width="0.6"/>
</g></defs>
<rect x="6.9" y="17.8" width="171.9" height="58.7" fill="#e0e8f3"/>
<rect x="6.9" y="80.2" width="172.7" height="58.6" fill="#fdf5fa"/>
<g fill="#9562bd"><circle cx="19.4" cy="25.3" r="1.6"/><circle cx="16" cy="27" r="1.6"/><circle cx="22.6" cy="27.6" r="1.6"/><circle cx="26.3" cy="27" r="1.6"/><circle cx="19.1" cy="29" r="1.6"/><circle cx="15.4" cy="30.2" r="1.6"/><circle cx="24.9" cy="31" r="1.6"/><circle cx="28.7" cy="31.3" r="1.6"/><circle cx="18" cy="32.2" r="1.6"/><circle cx="21.7" cy="32.2" r="1.6"/><circle cx="20" cy="35.3" r="1.6"/><circle cx="24.9" cy="35.3" r="1.6"/></g><path d="M10.2 30.7h1.6M11.8 30.7l2.2 -2.0M11.8 30.7l2.2 2.0" stroke="#2e2e2e" stroke-width="1.35" fill="none" stroke-linecap="round"/><g transform="translate(27.6 24.9) rotate(40)"><path d="M0 1.8V0M0 0l-1.5 -1.6M0 0l1.5 -1.6" stroke="#2fb8e6" stroke-width="1.1" fill="none" stroke-linecap="round"/></g>
<g fill="#9562bd"><circle cx="19.4" cy="41.4" r="1.6"/><circle cx="16" cy="43.1" r="1.6"/><circle cx="22.6" cy="43.7" r="1.6"/><circle cx="26.3" cy="43.1" r="1.6"/><circle cx="19.1" cy="45.1" r="1.6"/><circle cx="15.4" cy="46.3" r="1.6"/><circle cx="24.9" cy="47.1" r="1.6"/><circle cx="28.7" cy="47.4" r="1.6"/><circle cx="18" cy="48.3" r="1.6"/><circle cx="21.7" cy="48.3" r="1.6"/><circle cx="20" cy="51.4" r="1.6"/><circle cx="24.9" cy="51.4" r="1.6"/></g><path d="M10.2 46.8h1.6M11.8 46.8l2.2 -2.0M11.8 46.8l2.2 2.0" stroke="#2e2e2e" stroke-width="1.35" fill="none" stroke-linecap="round"/><g transform="translate(27.6 41) rotate(40)"><path d="M0 1.8V0M0 0l-1.5 -1.6M0 0l1.5 -1.6" stroke="#ee5a5a" stroke-width="1.1" fill="none" stroke-linecap="round"/></g>
<g fill="#9562bd"><circle cx="19.4" cy="58.2" r="1.6"/><circle cx="16" cy="59.9" r="1.6"/><circle cx="22.6" cy="60.5" r="1.6"/><circle cx="26.3" cy="59.9" r="1.6"/><circle cx="19.1" cy="61.9" r="1.6"/><circle cx="15.4" cy="63.1" r="1.6"/><circle cx="24.9" cy="63.9" r="1.6"/><circle cx="28.7" cy="64.2" r="1.6"/><circle cx="18" cy="65.1" r="1.6"/><circle cx="21.7" cy="65.1" r="1.6"/><circle cx="20" cy="68.2" r="1.6"/><circle cx="24.9" cy="68.2" r="1.6"/></g><path d="M10.2 63.6h1.6M11.8 63.6l2.2 -2.0M11.8 63.6l2.2 2.0" stroke="#2e2e2e" stroke-width="1.35" fill="none" stroke-linecap="round"/><g transform="translate(27.6 57.8) rotate(40)"><path d="M0 1.8V0M0 0l-1.5 -1.6M0 0l1.5 -1.6" stroke="#f2c81e" stroke-width="1.1" fill="none" stroke-linecap="round"/></g>
<g fill="#9562bd"><circle cx="19.4" cy="87.1" r="1.6"/><circle cx="16" cy="88.8" r="1.6"/><circle cx="22.6" cy="89.4" r="1.6"/><circle cx="26.3" cy="88.8" r="1.6"/><circle cx="19.1" cy="90.8" r="1.6"/><circle cx="15.4" cy="92" r="1.6"/><circle cx="24.9" cy="92.8" r="1.6"/><circle cx="28.7" cy="93.1" r="1.6"/><circle cx="18" cy="94" r="1.6"/><circle cx="21.7" cy="94" r="1.6"/><circle cx="20" cy="97.1" r="1.6"/><circle cx="24.9" cy="97.1" r="1.6"/></g><path d="M10.2 92.5h1.6M11.8 92.5l2.2 -2.0M11.8 92.5l2.2 2.0" stroke="#2e2e2e" stroke-width="1.35" fill="none" stroke-linecap="round"/><g transform="translate(27.6 86.7) rotate(40)"><path d="M0 1.8V0M0 0l-1.5 -1.6M0 0l1.5 -1.6" stroke="#2fb8e6" stroke-width="1.1" fill="none" stroke-linecap="round"/></g>
<g fill="#9562bd"><circle cx="19.4" cy="104.4" r="1.6"/><circle cx="16" cy="106.1" r="1.6"/><circle cx="22.6" cy="106.7" r="1.6"/><circle cx="26.3" cy="106.1" r="1.6"/><circle cx="19.1" cy="108.1" r="1.6"/><circle cx="15.4" cy="109.3" r="1.6"/><circle cx="24.9" cy="110.1" r="1.6"/><circle cx="28.7" cy="110.4" r="1.6"/><circle cx="18" cy="111.3" r="1.6"/><circle cx="21.7" cy="111.3" r="1.6"/><circle cx="20" cy="114.4" r="1.6"/><circle cx="24.9" cy="114.4" r="1.6"/></g><path d="M10.2 109.8h1.6M11.8 109.8l2.2 -2.0M11.8 109.8l2.2 2.0" stroke="#2e2e2e" stroke-width="1.35" fill="none" stroke-linecap="round"/><g transform="translate(27.6 104) rotate(40)"><path d="M0 1.8V0M0 0l-1.5 -1.6M0 0l1.5 -1.6" stroke="#ee5a5a" stroke-width="1.1" fill="none" stroke-linecap="round"/></g>
<g fill="#9562bd"><circle cx="19.4" cy="122.6" r="1.6"/><circle cx="16" cy="124.3" r="1.6"/><circle cx="22.6" cy="124.9" r="1.6"/><circle cx="26.3" cy="124.3" r="1.6"/><circle cx="19.1" cy="126.3" r="1.6"/><circle cx="15.4" cy="127.5" r="1.6"/><circle cx="24.9" cy="128.3" r="1.6"/><circle cx="28.7" cy="128.6" r="1.6"/><circle cx="18" cy="129.5" r="1.6"/><circle cx="21.7" cy="129.5" r="1.6"/><circle cx="20" cy="132.6" r="1.6"/><circle cx="24.9" cy="132.6" r="1.6"/></g><path d="M10.2 128h1.6M11.8 128l2.2 -2.0M11.8 128l2.2 2.0" stroke="#2e2e2e" stroke-width="1.35" fill="none" stroke-linecap="round"/><g transform="translate(27.6 122.2) rotate(40)"><path d="M0 1.8V0M0 0l-1.5 -1.6M0 0l1.5 -1.6" stroke="#f2c81e" stroke-width="1.1" fill="none" stroke-linecap="round"/></g>
<path d="M40.3 25.6H44.5V70.2H40.3M44.5 46.2H53" stroke="#111" stroke-width="1.5" fill="none"/>
<path d="M40.3 88.5H44.5V132H40.3M44.5 108.8H53" stroke="#111" stroke-width="1.5" fill="none"/>
<g><path d="M61.4 40.9h5.6l2.4 1.6v7.2h-8z" fill="#d4d6da"/><path d="M61.7 41.3h6.6l1.9 1.4v7.1h-8.5z" fill="#b8bcc2"/><rect x="52.8" y="40.7" width="9.2" height="7.8" fill="#1e2128"/><rect x="53.9" y="41.8" width="7" height="1.5" fill="#3c63b8"/><rect x="53" y="48.5" width="14.2" height="1.8" fill="#9a9ea5"/></g>
<g><path d="M61.4 103.5h5.6l2.4 1.6v7.2h-8z" fill="#d4d6da"/><path d="M61.7 103.9h6.6l1.9 1.4v7.1h-8.5z" fill="#b8bcc2"/><rect x="52.8" y="103.3" width="9.2" height="7.8" fill="#1e2128"/><rect x="53.9" y="104.4" width="7" height="1.5" fill="#3c63b8"/><rect x="53" y="111.1" width="14.2" height="1.8" fill="#9a9ea5"/></g>
<path d="M67 46.2H95.5" stroke="#111" stroke-width="1.5" fill="none"/><path d="M99.6 46.2l-5.2 -3v6z" fill="#111"/>
<path d="M67 108.9H95.5" stroke="#111" stroke-width="1.5" fill="none"/><path d="M99.6 108.9l-5.2 -3v6z" fill="#111"/>
<path d="M104 32.7H100.6V58.2H104M130.6 32.9H134.2V57.8H130.6M134.2 45.3H140.5" stroke="#111" stroke-width="1.5" fill="none"/><path d="M144.5 45.3l-4.6 -2.7v5.4z" fill="#111"/>
<path d="M104.5 95.7H101.2V121H104.5" stroke="#111" stroke-width="1.5" fill="none"/>
<path d="M133.5 108.1H141" stroke="#111" stroke-width="1.5" fill="none"/><path d="M145 108.1l-4.6 -2.7v5.4z" fill="#111"/>
<use href="#mua" transform="translate(109.1 18.4) scale(0.965)"/>
<use href="#mua" transform="translate(108.7 51.9) scale(0.93)"/>
<use href="#mua" transform="translate(150.7 36) scale(1.0)"/>
<use href="#mu" transform="translate(107.9 82.7) scale(0.96)"/>
<use href="#mu" transform="translate(107.9 115) scale(0.96)"/>
<use href="#mu" transform="translate(150 98.1) scale(1.09)"/>
<g fill="#1a1a1a">
<text x="56" y="27.9" font-size="5.8" textLength="33.4" lengthAdjust="spacingAndGlyphs" stroke="#1a1a1a" stroke-width="0.12">10x Genomics</text>
<text x="52.7" y="33.6" font-size="5.8" textLength="39.6" lengthAdjust="spacingAndGlyphs" stroke="#1a1a1a" stroke-width="0.12">chromium library</text>
<text x="113" y="45.8" font-size="6.0" fill="#111" stroke="#111" stroke-width="0.12" textLength="10.7" lengthAdjust="spacingAndGlyphs">RNA</text>
<text x="88.4" y="76.1" font-size="5.9" textLength="67.6" lengthAdjust="spacingAndGlyphs" stroke="#1a1a1a" stroke-width="0.12">Antibody derived tags (ADT)</text>
<text x="149.7" y="27.9" font-size="8.3" textLength="18.2" lengthAdjust="spacingAndGlyphs" stroke="#1a1a1a" stroke-width="0.12">3% O</text><text x="169.4" y="29.6" font-size="5.8" stroke="#1a1a1a" stroke-width="0.12">2</text>
<text x="147.3" y="92.7" font-size="8.3" textLength="23.3" lengthAdjust="spacingAndGlyphs" stroke="#1a1a1a" stroke-width="0.12">21% O</text><text x="171.2" y="94.4" font-size="5.8" stroke="#1a1a1a" stroke-width="0.12">2</text>
</g>
<path d="M12.1 150.6V147.4L9.6 144.6M12.1 147.4L14.6 144.6" stroke="#333" stroke-width="1.6" fill="none" stroke-linecap="round"/>
<path d="M12.1 159.9V156.7L9.6 153.9M12.1 156.7L14.6 153.9" stroke="#3cc0ea" stroke-width="1.6" fill="none" stroke-linecap="round"/>
<path d="M12.1 169.2V166L9.6 163.2M12.1 166L14.6 163.2" stroke="#ef5a5e" stroke-width="1.6" fill="none" stroke-linecap="round"/>
<path d="M12.1 178.4V175.2L9.6 172.4M12.1 175.2L14.6 172.4" stroke="#f2cf3a" stroke-width="1.6" fill="none" stroke-linecap="round"/>
<text x="18.7" y="150.5" font-size="7.6" font-weight="bold" fill="#111" textLength="110" lengthAdjust="spacingAndGlyphs" stroke="#111" stroke-width="0.072">cKit, Sca1, CD34, CD48, CD150</text>
<text x="18.7" y="159.5" font-size="7.6" fill="#222" textLength="77" lengthAdjust="spacingAndGlyphs" stroke="#222" stroke-width="0.12">Anti-mouse - hashtag-1</text>
<text x="18.7" y="168.3" font-size="7.6" fill="#222" textLength="77" lengthAdjust="spacingAndGlyphs" stroke="#222" stroke-width="0.12">Anti-mouse - hashtag-2</text>
<text x="18.7" y="177" font-size="7.6" fill="#222" textLength="77" lengthAdjust="spacingAndGlyphs" stroke="#222" stroke-width="0.12">Anti-mouse - hashtag-3</text>
<g stroke-width="1.2" stroke-linecap="round" fill="none"><path stroke="#8CAB00" d="M242 91.7h0M251.8 90.6h0M232.3 88.7h0M228.3 83h0M231.9 93.6h0M231.9 83.4h0M234.6 89.3h0M229.9 85.9h0M233.9 84.8h0M238.2 86.3h0M225.7 86.3h0M245 93.7h0M242.9 85.7h0M230.2 83.6h0M248.2 91.3h0M233.3 91.5h0M232.9 84.7h0M255.6 90.7h0M225.3 89.9h0M245.7 86h0M232.5 87.5h0M242.4 89h0M227.9 89.5h0M227.7 93.8h0M225.5 88.9h0M245.3 89.6h0M232.3 84.8h0M232.2 83.4h0M231.6 87.2h0"/>
<path stroke="#00BBDA" d="M320.5 91.1h0M324.1 95h0M321.2 91.9h0M325.4 81.2h0M318.5 92.2h0M320.4 89.6h0M319.4 89h0M324.4 88h0M322 88.5h0M323.1 94h0M309.4 99.8h0M323.7 89.8h0M320 96.9h0M322.6 93.4h0M321.5 91.9h0M323.3 95h0M315.9 88.6h0M319.3 88.3h0M326.6 87.7h0M321.7 79.7h0M324 85.5h0"/>
<path stroke="#8B93FF" d="M290.9 85.5h0M287.6 88.1h0M294.6 85h0M296.6 90.4h0M290.8 90.6h0M292.6 92.7h0M290.5 90.5h0M287.1 84.2h0M292.2 86.8h0M294.1 82.4h0M296.1 85.1h0M290.2 81.4h0M289.7 92.1h0M290.8 82.6h0M293.6 87h0"/>
<path stroke="#F8766D" d="M299.7 37h0M308.5 37.1h0M308 46.4h0M294.2 37.4h0M291.6 49.2h0M289.4 48.5h0M290.2 36.9h0M310.7 45.5h0M293.8 48.5h0M299.4 34.9h0M288.5 35.1h0M289 48.5h0M306.9 51.1h0M297.9 44.1h0M292.9 41.7h0M296.6 50.8h0M284.5 48.5h0M296.5 42.1h0M300.3 38.6h0M303.9 44.4h0M305.1 43h0M286.4 36.9h0M313.3 48.7h0M306.4 43h0M287.3 45.9h0M313 45.9h0M313.7 43.7h0M306.3 40.6h0M296.3 37h0M279.6 49.7h0M287.7 48.6h0M290.3 41.3h0M306.1 48.8h0M284.4 47.3h0M297.3 39.8h0M302.2 38.9h0M285.8 51.8h0M295.7 46.4h0M295.9 43.2h0M283.5 43.3h0M297 37.8h0M289 39.9h0M314.6 46h0M284.6 38.2h0M279.9 47.4h0M296.5 36.3h0M312.4 51.4h0M289.4 52.7h0M288 49.6h0M302.2 34.2h0M298.5 49.2h0M283.6 36.9h0M302.4 27.8h0M304.3 48.4h0M306.3 47.3h0M304.6 44.2h0M288.4 41h0M286.4 40.3h0M306.9 43.1h0M280.1 49.1h0M299.3 31.5h0M291.9 51.6h0M301.4 39.3h0M297.3 46.8h0M310.5 46.6h0M297.4 47.1h0"/>
<path stroke="#00BE70" d="M312.4 52.3h0M321.3 65.5h0M314.6 52.2h0M324.3 61.2h0M317.2 69.9h0M317.7 59.7h0M316.1 69.7h0M314.6 74.7h0M323.2 60.7h0M321.8 57.6h0M321.3 50.2h0M316.8 61h0M323.4 62.6h0M323.8 74.7h0M313.7 54.7h0M315.1 63.2h0M315.9 60h0M318.6 77.9h0M311.1 58.3h0M324.9 63.3h0M320.2 60.5h0M312.9 65.9h0M319.4 66h0M312.4 63.5h0M314.8 59.3h0M321 58.5h0M316.6 57.8h0M319.8 68.2h0M314.9 59.2h0"/>
<path stroke="#24B700" d="M292.6 66.8h0M306.7 65.5h0M297.3 63.2h0M290.2 66.6h0M284.8 60.7h0M296.9 63.9h0M283.1 65.6h0M284.6 64.8h0M301.2 70.7h0M309.2 65.6h0M298.5 65.5h0M299.2 67.5h0M294.8 63.4h0M293.2 62.9h0M298 61.7h0M288.1 68.2h0M301.4 72.6h0M296.8 72.9h0M287.2 65.7h0M288.2 72.4h0M297.7 70.2h0M295.2 72.5h0M294.8 62.7h0M286.1 69.2h0M293.2 59.7h0M307.1 62.3h0M283.5 64.9h0M286.6 68.3h0M296.5 66.4h0M302.7 67h0M284.4 70.7h0M293.9 68.7h0M296.1 63.8h0M283.6 63.7h0M283.3 67.1h0M283 64.7h0"/>
<path stroke="#D575FE" d="M275.2 56.1h0M268.6 41.1h0M278.1 55.6h0M278.1 54.5h0M266.5 47.2h0M275.2 56.2h0M267.6 43.7h0M271 45.5h0M272.5 54.5h0M264.2 46.7h0M266.5 42.5h0M271.2 45.8h0M263.6 46.7h0M271.6 51h0"/>
<path stroke="#E18A00" d="M310 104.5h0M302.8 111.8h0M288.1 124.1h0M301.5 112.6h0M295.3 110.8h0M291.3 117.9h0M310.9 108.9h0M300.6 121h0M311.3 111h0M305.2 116.1h0M290.1 115.4h0M307.2 112.6h0M289 121.9h0M294.1 110.8h0M297.9 125.3h0M307 127.4h0M290.8 120.6h0M289.2 121.6h0M304.1 125.7h0M308 109.8h0M303.5 123.1h0M297.5 114.3h0M299.9 121.7h0M295.8 110.2h0M307.2 111.4h0M300.8 118.6h0M298.4 125.8h0M300.6 124.6h0M296 113.1h0M312.2 101.2h0M298.6 110.3h0M302.4 116.8h0M288.3 117.7h0M291.7 115.9h0M311.5 102.4h0M291 121.7h0M291.1 120.8h0M305.1 112h0M307 102.1h0M306.5 105.6h0M301.1 115.7h0M298.2 115h0M310 114.5h0M295.2 107.8h0M306.7 116.3h0"/>
<path stroke="#BE9C00" d="M245.2 78h0M254.9 72.8h0M260 63.8h0M266.9 60.7h0M254.4 71h0M265.7 76.3h0M237.3 82.3h0M266.6 64.9h0M238.9 69.6h0M254.3 66.6h0M261.2 65.3h0M248.6 84.5h0M261.2 64.4h0M265 68.2h0M267.3 74.2h0M259.8 63.7h0M240.5 76.1h0M264.3 68.7h0M238.4 81.7h0M253.5 69.4h0M262.1 65.2h0M259.4 62.4h0M253.2 71.3h0M270.4 64.5h0M269.2 73.6h0M236.8 80.1h0M249.6 77.3h0M267.6 60.7h0M258.4 64.1h0M269.9 64.8h0M232.2 75.5h0M259.2 61.4h0"/>
<path stroke="#FF65AC" d="M237.8 26.9h0M242.8 26.2h0M247.4 29.9h0M249.5 32.4h0M234.8 25.8h0M237 25.4h0M238.3 28.1h0M238.4 27.6h0M237.4 27.7h0M239 26.5h0M241.6 24.6h0"/>
<path stroke="#00C1AB" d="M262.5 93.1h0M281 89.9h0M255.1 90.7h0M267 88.4h0M259.3 93.3h0M281.1 82h0M269.6 92.4h0M276.3 87.8h0M262 93.6h0M262.1 94.3h0M281.3 86.3h0M271.9 95.6h0M268 95.2h0M279.2 97.6h0M267.1 95.1h0M278.9 97.1h0M272.4 92h0M265.3 89.4h0M261.4 91.2h0M256.9 90.8h0M281.3 103.6h0M268.6 90.7h0M274.3 98.2h0M262.7 90.7h0M265.8 96.9h0M278.2 100.9h0"/>
<path stroke="#F962DD" d="M232.4 79h0M229.5 73.7h0M232.8 77.9h0M227.5 74.4h0M225.2 78.8h0M228.6 77.8h0M232.2 75.3h0"/>
<path stroke="#00ACFC" d="M303.8 82.3h0M310.1 87.9h0M308.3 87.6h0M303.3 81.7h0M305 85.6h0M309 80.5h0M302.4 89h0M306.1 88.7h0M304.6 90.1h0M305.5 93.3h0M303.8 83.7h0M305.4 86.5h0"/>
<path stroke="#00BBDA" d="M305.7 97.4h0M317.9 86.1h0M325.2 85.4h0M325.4 91.7h0M323.6 83.9h0M324.2 79.9h0M323.2 84.8h0M321.2 83.3h0M323 79.9h0M322.3 79.4h0M320.6 90.9h0M320.7 85.7h0M323.8 89.2h0M323.1 83.2h0M308.3 100.1h0M323.3 80.8h0M309 100.8h0M314.2 98h0M316.2 86.1h0M325 82.9h0M307 99.1h0M317.4 91.3h0M324 88.9h0"/>
<path stroke="#00ACFC" d="M310.6 89.4h0M303.9 88.3h0M311.6 84h0M307.7 77.6h0M304.5 84.8h0M308.7 91.3h0M305.7 84.6h0M301.5 88.7h0M304.4 87.7h0M305.2 93.6h0M303.5 91.8h0M305.2 77.7h0M303.1 88.7h0M301.6 87.8h0M305.5 95.9h0M306.6 83h0M308.8 79.6h0M305 84.2h0M308.7 86h0M302.4 82.2h0M311.8 80.3h0M303.8 83.1h0M310 79.5h0"/>
<path stroke="#00C1AB" d="M276.6 94.3h0M270.8 91.6h0M265.5 90.3h0M276.5 103h0M273.8 90h0M261.5 96.6h0M276 91h0M282.6 81.6h0M264.4 92.8h0M284.9 93.9h0M272.6 84.2h0M279 101.5h0M283 83.9h0M271.4 96.5h0M261.1 95.9h0M279.3 88.6h0M280.1 87.5h0M271.9 92.6h0M259 95.8h0M258.3 93.6h0M276.4 88.3h0M275.3 91.7h0M255.4 89.9h0M272.8 90.9h0M276.7 86.5h0M277.6 94.5h0M267.1 88.7h0M259.5 91.7h0M277.5 85.7h0M273.7 95.6h0M258.5 92h0M277.9 97.1h0M282 85.4h0M273.4 92.9h0"/>
<path stroke="#F8766D" d="M298 31.3h0M298.5 47.3h0M310.3 39.6h0M293.6 47h0M304.3 50h0M284.7 47.4h0M282.2 50.6h0M291.9 44h0M277.2 47.7h0M296.1 40.1h0M287.2 44.3h0M301.7 39.4h0M303.5 45.6h0M284.7 47.2h0M300 31.6h0M290.4 44.9h0M302 48.9h0M291.7 41.7h0M298.6 34h0M278.3 50.8h0M293.8 45.9h0M297.9 39.9h0M301.6 32h0M295.9 35.6h0M298.3 35.7h0M303.9 37.6h0M309.6 43.7h0M293.4 45.8h0M282.7 45.2h0M303.6 39.4h0M286.9 44.2h0M288.6 43h0M289 32.9h0M305.1 33.2h0M310.2 52.7h0M308.9 47.9h0M289.8 41.7h0M311.3 41.1h0M299.9 51.9h0M314.2 51.4h0M294.6 49.9h0M282.3 42.2h0M293.9 50.5h0M285 44.1h0M291.2 38.8h0M314.2 51.5h0M308.7 42.3h0M285.9 49h0M284.6 42.4h0M300.8 43.9h0M281.7 45.1h0M306.1 43.9h0M308.8 48.9h0M295 33h0M294.6 46.1h0M283.3 38.3h0M312.4 52.4h0M288.8 37.9h0M291.7 38h0M299.8 48.5h0"/>
<path stroke="#E18A00" d="M302.6 112.3h0M297.5 109.5h0M292.8 110.5h0M311.7 116.3h0M290.7 126.7h0M292.4 116.7h0M291.1 117.4h0M305.2 117.7h0M307.5 123.8h0M312.3 108h0M291.5 114h0M304.1 123.8h0M291.5 110h0M294.8 102.7h0M290.1 122.7h0M288.7 122.1h0M289.3 118.9h0M295.6 115h0M298.6 115.5h0M307.5 106.9h0M298.9 116.5h0M306.2 118.1h0M289.2 123.5h0M298.7 112.2h0M304 113.6h0M315.5 104.5h0M311.7 114h0M301.5 106h0M314.9 115.7h0M307.1 102.2h0M310.3 112.3h0"/>
<path stroke="#24B700" d="M285.2 65.1h0M283.6 65.6h0M293.2 67.3h0M285.7 68h0M300.2 68.3h0M302.9 67.1h0M298.5 68.6h0M298.1 62.9h0M298.2 60.4h0M291.2 62.7h0M294.6 68.7h0M288 63.7h0M295 69.3h0M306.8 68.4h0M308.9 63.2h0M288.8 64.8h0M291.7 62.9h0M282.6 65h0M290.9 67.1h0M303.2 62.4h0M295.5 69.8h0M306.7 67.4h0M298.9 66.7h0M305.4 66.6h0M291.1 62.8h0M290 69h0M289.2 68.5h0M299.2 63h0M293.7 64.2h0M283.9 63.8h0M281.5 59.9h0M297.7 62.8h0M310.4 68.5h0M285.3 60.9h0M294.6 69.5h0"/>
<path stroke="#8B93FF" d="M290.8 85.7h0M296 91.8h0M289.1 87.7h0M293.8 89.1h0M294 82.5h0M293.6 81h0M288.8 89h0M295.9 87.8h0M294 92.3h0M289.3 90.6h0M286.6 85.1h0M288.3 86.5h0M286.4 88h0M285.9 85.6h0"/>
<path stroke="#D575FE" d="M270.7 47.9h0M271.8 57h0M279.7 58.7h0M277.3 60.2h0M273.4 54.3h0M269.3 50h0M277.2 49.9h0M269.1 55.3h0M279.3 56.3h0M277.9 57.5h0M274.6 52.7h0M271.8 53.4h0M275 53h0M269.9 43.8h0M279.1 57.8h0M270.9 50.5h0"/>
<path stroke="#FF65AC" d="M247.5 29.9h0M238.4 25.2h0M241.7 24.4h0M235.1 27.8h0M238.2 27.6h0M241.2 24h0M238.6 26.2h0M238.2 25.5h0M237.2 25.5h0M238.6 24.8h0"/>
<path stroke="#8CAB00" d="M250.8 92.9h0M238 88h0M228.9 91.4h0M254.2 88.9h0M232.3 88.1h0M238.6 84.4h0M243.8 82.8h0M231.6 95.3h0M235.7 88.2h0M229.7 86.4h0M234.1 91.1h0M230.6 85.9h0M229.6 94.5h0M229.7 88.8h0M230 92.2h0M253.2 85.1h0M250.5 87.1h0M228.8 88.3h0M231.8 87.1h0M253.5 90.5h0M234.1 88.3h0M227.8 92.3h0M227 86.5h0M252.7 88.8h0M246 92.8h0M231 89.3h0M247 89.4h0M240.5 94.8h0"/>
<path stroke="#BE9C00" d="M246.4 77.5h0M264.4 60.5h0M237.2 80.4h0M262.2 64.8h0M267.9 59.8h0M262.5 65.6h0M265.9 64.9h0M255.1 64.1h0M262.4 60.2h0M249.8 69.4h0M265.7 64.6h0M259.8 62.9h0M244.1 77.8h0M261 64.5h0M264.1 65h0M261.9 72.8h0M249 76h0M268.5 78.3h0M243.7 71.3h0M272 64.1h0M266.5 78h0M260.3 62.8h0M265.8 60.7h0M242.8 74.3h0M258.7 68.9h0M264.4 59.5h0M261.3 61.9h0M265.8 58.7h0M259.4 66.7h0M242.8 74h0M261.4 57.1h0M264.2 63h0M263.8 80.7h0M266.4 61.8h0M240.9 80.3h0M264.8 60.6h0"/>
<path stroke="#F962DD" d="M226.1 78.3h0M226.4 73.9h0M229.9 79.2h0M225 78.7h0M227.6 77.6h0M226.3 78.4h0M233.9 74.8h0M224.5 80h0M225.6 79.8h0M231.8 77.3h0M232.6 79.7h0M234.4 77.2h0M229.6 74.8h0"/>
<path stroke="#00BE70" d="M316.9 55.8h0M317.8 65.2h0M309.6 60.1h0M317.3 77.5h0M324 66.9h0M314.8 64.4h0M319.4 55.8h0M325.1 64.1h0M324.3 67.9h0M326.1 54.8h0M311.8 63.8h0M317.4 49.1h0M324.9 60.2h0M310.6 53.5h0M320.3 67.9h0M317.3 55.9h0M318 71.9h0M313.7 51.4h0M318.3 68.4h0M323.4 64.7h0"/>
<path stroke="#E18A00" d="M308.6 117h0M300.3 119.9h0M293.9 122.9h0M293 125.1h0M298.4 120.8h0M299.1 110.6h0M305.8 114.4h0M290.6 121h0M301.7 124.9h0M288.8 113.8h0M312.7 101.9h0M309 118.9h0M292.7 110.5h0M306.9 121.2h0M317.6 106.7h0M298.8 109.6h0M289.2 118.4h0M301.9 115.1h0M312.3 118.6h0M309.7 112.2h0M309.8 116.1h0M302.3 110.2h0M292.6 123.8h0M308.1 117.4h0M314.2 117.7h0M302.1 114h0M304.4 118.6h0M288.8 117.8h0M316.8 116.1h0M304.3 102.6h0M306.3 118.6h0M299.1 111.1h0M304.3 123.2h0M290.9 117.6h0M294.4 111.6h0M300.7 120.3h0M304.8 109.6h0M311.9 106.3h0M308.9 104.1h0M296.6 111.8h0M294.9 113.2h0M297.2 119h0M301.3 107.6h0M301.9 111h0M299.4 110.9h0M306.2 116.2h0M305.8 119.4h0"/>
<path stroke="#8CAB00" d="M245.3 88.8h0M223.9 84h0M229.4 83.4h0M231.3 82.3h0M231.3 88.1h0M227.9 89h0M244.5 87.5h0M249 90.4h0M232.8 90.6h0M225.4 90.3h0M252.2 92.3h0M240.6 89h0M234.8 89.8h0M225.8 87h0M231.9 88.6h0M239.7 85.7h0M249.9 89.1h0M246.1 84.8h0M240.7 91.5h0M245.2 86.5h0M247.1 90.3h0M227.8 89.9h0M225.6 90h0M232.9 87.8h0M226.8 90.6h0M248.7 89.7h0M248.9 93.4h0"/>
<path stroke="#F8766D" d="M302.7 48.2h0M304 36.2h0M293 43.4h0M288.2 45.1h0M301.7 39.6h0M315.4 47h0M294.6 48.2h0M310.1 43.7h0M287.1 41.6h0M304.6 42.9h0M308.9 47.1h0M300.8 44h0M282.1 49.2h0M290.5 41h0M297.5 31.6h0M285.7 39.3h0M286.7 37.9h0M285.5 38.4h0M311.5 51.1h0M307.8 46.6h0M295.4 41.1h0M300.1 41.5h0M301.7 46.5h0M292.7 45.8h0M286.5 44.5h0M310.4 42.3h0M292.4 35.1h0M292.5 50.7h0M295.8 43.2h0M295.2 48.7h0M310.3 40.1h0M310.1 41.4h0M298 44.4h0M311.8 50.2h0M296.9 39.3h0M281.4 38.8h0M296.4 46.9h0M290.4 39.7h0M285.8 40.1h0M315 46.6h0M300.4 41.6h0M311 37.4h0M311.9 39.2h0M306.8 46.1h0M316.4 47.3h0M296.3 32.5h0M296.8 48.4h0M302.5 34.2h0M304.2 48.7h0M299.7 29.5h0M300.1 42.6h0M299.2 39.6h0M286.6 50.7h0M292.2 42.5h0M300.2 42.3h0M289.5 45.5h0M313.3 49.2h0M313.9 43.6h0M282.9 40.8h0M306.6 40.9h0M281 40.6h0M292.9 43.8h0M294.6 40.9h0M299.8 39.8h0M281.6 45.1h0M295.4 40h0M306.4 47.9h0"/>
<path stroke="#00BE70" d="M321.7 77.9h0M325.6 74h0M321.8 68.8h0M312.4 61.8h0M326.5 65.4h0M318.3 54.3h0M319.5 57.3h0M322.7 56.7h0M314.2 60.8h0M320.2 59.8h0M311.9 63.3h0M322.1 57.3h0M323.3 60.2h0M324 69.9h0M325.2 64.4h0M324.2 67.7h0M324.5 59.4h0M322.6 70.7h0M317.6 53.8h0M313.9 68.8h0M316.2 70.6h0M315.9 73.4h0M320.9 57.3h0M320.7 72.5h0M321.4 60.6h0M324.8 68.6h0M327.4 72.3h0M314.2 69.4h0M320.3 57.4h0M313.2 65h0"/>
<path stroke="#00ACFC" d="M310.9 83.7h0M312.6 85.7h0M301.7 94.3h0M305.4 86.5h0M311.4 79.5h0M305.3 90.9h0M303 80.9h0M305.4 92.5h0M304 79.5h0M302.9 86.1h0"/>
<path stroke="#BE9C00" d="M239 75h0M251.9 72.2h0M247.8 73.7h0M238.9 77.9h0M254.5 68.4h0M235.7 76.9h0M264 64.5h0M261.2 70.1h0M263 58h0M262.5 65.2h0M239.2 80.1h0M254.8 68.4h0M247 78.3h0M251.6 69.3h0M257.7 63h0M266.8 71.8h0M266.3 63.9h0M246.2 73h0M238.4 78.2h0M259.2 61.4h0M262.3 71.5h0M239.9 79.5h0M264.8 61.9h0M240.6 75.9h0M250.8 72h0M245.2 73.8h0M255.6 62h0M265.3 69.1h0"/>
<path stroke="#D575FE" d="M265.7 46h0M273.5 62.4h0M263.3 42.9h0M264.9 42.6h0M268.8 40.6h0M275.9 49.3h0M269.7 39.6h0M272.5 53.7h0M276.8 56.9h0M277.1 46.1h0M275.4 60.1h0"/>
<path stroke="#00BBDA" d="M315.1 102h0M318.6 86.9h0M325.5 86.3h0M323.8 92.6h0M324.4 91h0M328.6 88.9h0M318.8 103.3h0M325.3 95.7h0M317.1 92.1h0M314.5 89.6h0M319.6 88.2h0M324.6 88.6h0M323.9 91.7h0M321.8 88.4h0M318.7 91.6h0M316.8 87.6h0M321.5 87.9h0M316.1 85h0M327.7 88.9h0M323.2 90.7h0M324.1 87.7h0M306.1 105.2h0M321.1 89.1h0M316.7 83.2h0M309.5 100.7h0M321.9 88.2h0M326.9 83.9h0M323.2 84.7h0"/>
<path stroke="#00C1AB" d="M275.7 96.5h0M281.4 82.8h0M260.3 99.7h0M262.7 94.6h0M284.5 83.9h0M275.9 92.1h0M271.7 88.4h0M279.3 85.6h0M266.5 92.2h0M283.4 81.2h0M263 95h0M283.9 90h0M265.5 91.4h0M261.7 93.6h0M257.2 96.1h0M261.3 95.1h0M263.1 92.5h0M270.2 96.8h0M283.8 82.3h0M283.6 86h0M281 95.3h0M284.4 92h0M286 87.2h0"/>
<path stroke="#24B700" d="M283.8 67h0M285 67.4h0M300.1 71.7h0M292.2 71.5h0M297.3 62.4h0M285.8 64.4h0M289.2 61h0M293.8 64.8h0M297.7 68.7h0M303.6 68h0M293.4 70.6h0M303.8 63.5h0M297.4 68.6h0M298.5 66.3h0M291.9 67.8h0M292 67.8h0M284 67.2h0M284.8 69.5h0M299.2 72.5h0M305.3 67.4h0M281.6 62.2h0M291.1 69.8h0M285.8 67.1h0M287.4 62.6h0M281.9 61.8h0M304.1 62.8h0M287.6 62.9h0M281.2 65.8h0M290 64.6h0M283.7 63.5h0M278.4 65.4h0M297.6 71.4h0M298.8 62.5h0M292.7 60.8h0M283.6 62.7h0M305.9 69.7h0M297 61.4h0M293.4 64.4h0M288.6 60.5h0M308.2 68.1h0M292.4 64h0M305.8 61.9h0"/>
<path stroke="#F962DD" d="M232.8 76.6h0M226.2 80.9h0M235.1 79.5h0M229 79.7h0M227.3 73.9h0M233.6 80.3h0"/>
<path stroke="#8B93FF" d="M288.3 93.6h0M293 82.1h0M289.6 93.6h0M292.4 85.5h0M292.8 85.1h0M285.1 89.7h0M294.7 91.9h0M286.9 82.9h0M294.2 91h0M289.4 79.6h0M291.9 84.7h0M292.2 93.2h0"/>
<path stroke="#FF65AC" d="M239.6 24.1h0M238.3 23.6h0M237.5 25.1h0M252.6 31.5h0M235.8 25.8h0M238 25.6h0M237 28.1h0M235.4 26.9h0M251.7 31.3h0M238.7 23.9h0M237.5 28.1h0M244.5 28.5h0"/>
<path stroke="#F8766D" d="M305.2 37.6h0M283.2 48.6h0M289.4 33.3h0M302.1 52.3h0M278.5 46h0M289 41.9h0M296.1 40h0M286.6 48.3h0M298.6 29.6h0M286.1 46.2h0M287.3 41.5h0M304.8 44.7h0M283.9 39.4h0M304.1 43.1h0M285.9 50.4h0M292.2 39.3h0M278.2 50.6h0M308.5 39.2h0M291.6 51.2h0M295 48.1h0M292.7 33.6h0M285.5 37.4h0M296.9 45.6h0M306.8 37h0M286.5 39h0M297.3 47.3h0M311.6 48.1h0M314.1 46.6h0M310.8 51.3h0M291.8 36.3h0M304.4 33.2h0M295.9 45.8h0M303.2 43.2h0M291.9 39.3h0M287.1 39h0M292.3 43.3h0M308.3 42.6h0M304.8 36.1h0M293.8 30.2h0M303.5 35.1h0M301.7 43.9h0M309.5 38.5h0M297 39.9h0M299 48.3h0M296 41.4h0M312.4 47.3h0M282.8 40h0M279.2 52h0M304.7 42.9h0M304.9 43.2h0M283.7 47.1h0M290.8 38.2h0M296.6 37.3h0M298.9 35.1h0M301.8 37.8h0M285.6 35.9h0M301.2 43.3h0M290.9 41.9h0M283.6 41.5h0M306 40.9h0M308.5 51.4h0M282.1 51.6h0M301.2 47.3h0"/>
<path stroke="#E18A00" d="M301 115.5h0M293.7 125.9h0M307.8 120.4h0M290.7 115.1h0M298.1 108.1h0M307.8 108.8h0M296.7 127.5h0M294.9 126.9h0M297.8 126.9h0M303.1 120.9h0M310.8 102.8h0M318.5 114.4h0M296.8 127.2h0M310.3 108.9h0M304.3 111.6h0M303.1 121.2h0M313.5 105.5h0M294.6 120.7h0M302.2 105.7h0M301.7 112.8h0M314.3 112.1h0M301.8 110.9h0M300.8 120.7h0M305.2 104h0M296.8 119h0M303.2 119.3h0M298.3 119h0M306.2 103.1h0M304.5 116.5h0M296.9 116.1h0M314 108.2h0M305.1 103.4h0M300.4 121.4h0M294.3 118.4h0M308 123.9h0M313.2 113.3h0M307.6 109.7h0M307.3 101.5h0M304.7 116.6h0M310.6 114.2h0M297.8 117.4h0"/>
<path stroke="#FF65AC" d="M247.8 30.6h0M239 28.4h0M247.6 29.2h0M240.4 26.2h0M239.1 24.6h0M236.7 28.1h0M250.8 32h0M241.5 26.7h0"/>
<path stroke="#24B700" d="M295 62.4h0M285.8 67.3h0M288.9 64.6h0M284.3 65.7h0M287.7 65.2h0M297.3 68.4h0M282.1 68.3h0M281.5 64.4h0M311.6 64.2h0M297.9 62.9h0M306.1 70.1h0M289.5 64.1h0M294.2 69.9h0M305.7 64.4h0M287.2 67.1h0M311.8 64.1h0M299.3 71.9h0M291.6 70.6h0M293.8 65.7h0M297.6 68.8h0M306.5 61.6h0M295.2 66.3h0M294 63.5h0M283.2 66.4h0"/>
<path stroke="#00C1AB" d="M268.5 86.2h0M260.7 97.6h0M272.8 90.5h0M272.6 84.2h0M266.9 96.3h0M280.4 99.9h0M265.2 91.1h0M274.6 86.4h0M279.6 92.1h0M272.6 91.6h0M278.6 87.1h0M276.7 95.9h0M260.2 94.4h0M279.9 91.5h0M263.1 86.9h0M279.9 94.7h0M262.1 86.6h0M270.5 93h0M282.9 84.9h0M262.4 95.9h0M285.9 90h0M265.7 87.3h0M276.4 83.1h0M269 86.9h0M277.7 84h0M271 86.9h0M272.4 93.7h0M259.4 91.5h0M257.9 93.5h0M284.3 88.8h0M277.6 91.4h0"/>
<path stroke="#F962DD" d="M229.2 79.6h0M229.1 74.8h0M223.9 79.4h0M234.6 78.7h0M225.8 79.9h0M234.9 78.2h0M229.3 73.8h0M232.8 78.2h0M229.6 76.5h0M226.4 77.2h0M231.2 74.5h0M228.8 77.1h0"/>
<path stroke="#00BE70" d="M312.4 54h0M321.3 77.3h0M319 54.6h0M325.5 63.7h0M321.2 65.2h0M330.5 76h0M307.5 58.2h0M312.4 54.8h0M320.6 63.1h0M329.1 54.6h0M323.7 73.1h0M320.4 71.7h0M319.8 49.8h0M323.3 53.9h0M313.3 63.1h0M327.3 60.3h0M319.4 68.8h0M318.5 54.1h0M315.4 73.5h0M324.6 61.5h0M318.5 51.4h0M318.9 60.8h0M327.8 51.9h0M316.2 58.1h0M320.8 61.4h0M315.4 63.5h0M328.5 60.8h0M315.2 67.4h0M324.9 60.4h0M312.4 65.2h0M319.8 68.1h0M321.2 52.4h0M320.4 56.1h0M313.4 59.6h0M326.7 63.6h0M322.5 52.1h0M321.1 71h0"/>
<path stroke="#D575FE" d="M270.4 64h0M265.7 51.4h0M271.7 48.3h0M280.3 58.2h0M266 47.5h0M277.7 42.9h0M278.1 60.9h0M279.7 60.3h0M277.9 61.9h0M275.9 57.3h0M268 45.6h0M268.6 42.8h0M264.3 42.9h0M274 54.6h0M267.5 41.5h0M265.7 48.4h0M273.2 58h0"/>
<path stroke="#BE9C00" d="M248.8 71.4h0M248.4 70.1h0M238.1 80.7h0M259.2 67h0M247.5 77h0M261.8 72.7h0M238.5 83.6h0M251.1 70.5h0M261.1 67.5h0M240.9 70.7h0M259 65.7h0M256 79.5h0M259.6 66.1h0M239.7 80.2h0M265.6 58.7h0M239 75.5h0M240.5 80.7h0M247.7 72.1h0M255 71.7h0M263.3 67h0M258.1 66.1h0M241.1 80.2h0M244.8 71.9h0M250.7 76.4h0M241.8 75.9h0M255.7 69.8h0M267 77.2h0M266.6 65h0M240.7 75.3h0M256.9 65.8h0M265.1 67.2h0M258 59h0M257 62.8h0M255.9 66.1h0"/>
<path stroke="#8CAB00" d="M224.3 89h0M226.4 84.8h0M227.7 85.8h0M254.3 86.4h0M229.9 86.6h0M249.5 89.9h0M249.2 84.4h0M238.3 85.6h0M250 87.9h0M245.8 87.8h0M227.7 88.5h0M237.4 88.6h0M230.2 86.9h0M228.8 86.4h0M248.7 91.1h0M229.9 94.6h0M227 91.7h0M244.4 86.9h0M231.7 92.4h0M247.8 92.6h0M227.3 85.5h0M238.4 89h0M245.7 83.4h0M235.3 89.1h0M227.3 94h0M232.5 87.6h0M232.5 90.4h0M244.1 95.2h0M251.3 86.5h0M252.1 82.8h0"/>
<path stroke="#00BBDA" d="M325.9 87.7h0M324 91.7h0M326.2 84.5h0M322.9 78.4h0M307.6 102.3h0M313.9 102h0M322.5 79.7h0M325.3 90.4h0M305.6 95.5h0M322.7 88.2h0M320 89.9h0M322.9 93.1h0M316.7 82.3h0M327 89.1h0M318.6 93h0M327.1 83.8h0M323.7 88.1h0M323.3 90.5h0"/>
<path stroke="#00ACFC" d="M304.4 85.9h0M302.4 87.9h0M303.5 82.3h0M300.7 87h0M306.1 80h0M306.8 88.1h0M302.5 93.6h0M308.5 83.6h0M305.7 87.1h0M303.2 95.8h0M306.9 88.7h0M308.6 85.3h0M308.1 89.1h0M308.3 91.3h0M302.5 93.7h0M302.4 93.1h0"/>
<path stroke="#8B93FF" d="M296.8 89.2h0M289.5 85.7h0M296.2 85h0M288.7 82.8h0M288.3 85.2h0M290.1 90.3h0M294.7 90.3h0M293.7 83.4h0M291.5 88.5h0M291.2 90.5h0M296.4 84.5h0M290.7 91.7h0"/>
<path stroke="#E18A00" d="M292.2 117.7h0M298.6 115.3h0M294.9 112.1h0M305.4 113.9h0M305.8 106.6h0M298 127.4h0M297.2 112.6h0M306.9 103h0M295.1 114.5h0M293.3 113.8h0M286.4 119h0M308.7 113.4h0M306.1 109.6h0M308.3 120.7h0M301.5 115.7h0M307.4 113.8h0M295.4 126.7h0M292 124.9h0M312.9 113.1h0M305.3 118.2h0M316.7 116.5h0M307.1 119.3h0M297 124.5h0M296.8 112h0M303.9 117h0M312.1 115h0M317.7 103.2h0M290.6 126.7h0M296.9 113.9h0M307.8 121.1h0M307.4 101.9h0M295.3 113.5h0M303.7 111.3h0M299.7 106.1h0M308.9 103.4h0M312 119.1h0M297.8 119.5h0M294.6 122.2h0M314.6 107.9h0M304.1 114.6h0M298.3 115.5h0M315.1 104.7h0M300.9 110.4h0M302.8 109.6h0M297.9 111.1h0M304.9 116.4h0M289.5 121.8h0"/>
<path stroke="#D575FE" d="M272.8 57.4h0M277.1 54.4h0M275.6 59.8h0M266.8 43.8h0M268 43.5h0M265.3 46.7h0M279 57.6h0M281.2 55h0M277 56.5h0M273.1 47.9h0M272.2 51.3h0M266.1 46.4h0M267.6 47.1h0"/>
<path stroke="#00BE70" d="M319.4 64.9h0M320.7 51.9h0M317.1 69.1h0M314.3 64.5h0M326.3 63.9h0M311.5 54.7h0M315.7 72.4h0M313.2 51.6h0M320.5 58.4h0M318.6 51h0M309.2 71.4h0M321.7 56.9h0M324.3 63.6h0M316.8 55h0M315.3 63.9h0M323.3 70.7h0M318.8 75.6h0M318.1 68.8h0M318.8 72h0M319.4 55.4h0M315.4 59h0M318.7 65.1h0M313 60.4h0M325.9 61.5h0M321.6 64.8h0M315.2 63.8h0M327.7 72h0M324.9 69h0M326.2 70.1h0M322.8 63.5h0M313.3 75.8h0M318.3 73.7h0"/>
<path stroke="#00C1AB" d="M261.5 92.2h0M273.6 94.1h0M275.6 88.1h0M278.9 102.7h0M277 99.1h0M263.2 93.2h0M284.4 85.2h0M275.2 86.5h0M278.4 103.8h0M264 88.4h0M275.3 86.5h0M264.9 89.7h0M276.5 89.6h0M280.3 96.1h0M266.3 95.4h0M278.7 88h0M277.7 100.3h0M275.3 90.9h0M277.8 102.7h0M277.4 83.7h0M277.9 92.7h0M288.4 91.7h0M275.8 90.5h0M267.1 88h0M267.3 96.6h0M259.2 91h0M264.6 91.7h0M276.3 98.3h0M279.2 85.5h0M263.2 95.2h0M282.4 98.8h0M259.4 92.2h0M274.2 95.5h0M280.9 92.2h0M275.8 81.3h0"/>
<path stroke="#F962DD" d="M230.4 77.8h0M233.6 77h0M229.2 77.3h0M233.5 80h0M235.4 75.9h0M226.2 80.6h0M224.5 78.4h0M235.2 76.3h0M226.4 75.7h0M229.4 77.7h0M225.9 77.1h0M229.8 78.6h0M230.8 76.8h0M225.2 77h0"/>
<path stroke="#F8766D" d="M299 48.5h0M301.4 50.2h0M300 39.8h0M288.5 35.2h0M287.1 50.3h0M302.6 38.8h0M286.6 38.9h0M294 35.9h0M304.4 43.6h0M285.7 46.6h0M289.1 40.2h0M299.1 42.5h0M299.9 49.7h0M313.5 44.7h0M303.7 41.9h0M301.2 31.5h0M295.1 48.9h0M310.1 52h0M306.9 44.9h0M303.3 47.9h0M287.5 38.8h0M295.6 51.1h0M283.2 49.5h0M306.8 48.5h0M297.5 37.4h0M281.1 41.7h0M305.1 48.5h0M306 35.1h0M301.2 38.7h0M309.6 42.1h0M301.1 51.9h0M281.6 45.8h0M303.1 35.4h0M292.6 45.5h0M288.5 49.4h0M309 44.9h0M316.5 49.7h0M291.9 40.1h0M297.3 46.3h0M288.2 43.6h0M308.5 39.9h0M296.9 39h0M285.5 47.3h0M292.7 41h0M294.8 30.2h0M288.2 46.7h0M292.1 44.2h0M287.6 44.9h0M304.4 49.3h0M283.7 50.5h0M291.8 50.6h0M305.4 46.4h0M298.8 40.5h0"/>
<path stroke="#8CAB00" d="M236.3 89.8h0M244.1 93.3h0M249.7 88.1h0M229.4 95.1h0M232.5 87h0M231.5 86.8h0M235.1 86.6h0M251 93.3h0M230.8 90.5h0M246 89.5h0M240.6 93.8h0M249.3 87.5h0M233.6 86.1h0M237.1 85.9h0M230.4 89.2h0M246 86.4h0M243.3 92.3h0M230.7 89h0M243 92.7h0M238.3 89.8h0M241.6 91.2h0M247.9 96.5h0M241.1 93.6h0M250.9 83.8h0M249.6 90.4h0M224.3 90.2h0M228 88.5h0M230.7 87.9h0M232.4 88.8h0M227 90h0M248.7 89.5h0M249.8 90.7h0"/>
<path stroke="#BE9C00" d="M250.4 77.1h0M244.5 68.6h0M265.2 61.5h0M235.7 80.7h0M239.7 76.6h0M249.6 65.2h0M260 64.5h0M243.2 81.3h0M250.2 70.7h0M263.6 67.9h0M267 67.7h0M239.7 77.4h0M257.2 65.9h0M259 62.6h0M260.6 65.9h0M249 67.9h0M264.8 59.8h0M266.5 66.5h0M236.3 81h0M256.6 69.9h0M256.2 73h0M257.8 68.5h0M253.3 79.4h0M257.5 64h0M249.3 72.4h0M242.6 72.9h0M260.1 63.5h0M263.6 59.7h0M247.9 75.4h0"/>
<path stroke="#8B93FF" d="M288.6 90.3h0M291.6 84.5h0M294 86.5h0M291.8 88.9h0M286.1 82.7h0M290.1 86.9h0M289.4 81.6h0M289.8 88.8h0M291 86.3h0M288.6 85.9h0M288.4 83.7h0M291.1 83.5h0M287.6 84.8h0M292.7 90.1h0"/>
<path stroke="#FF65AC" d="M250.9 32.5h0M249.8 32.2h0M236.6 25.6h0M250.8 31.7h0M238.6 25.5h0M235.7 25.6h0M243 27.9h0M236.8 25h0M240.8 24.2h0M236.6 25.5h0"/>
<path stroke="#24B700" d="M281.9 66.3h0M293.8 62.6h0M289.1 66h0M286.7 69h0M286.1 70.3h0M287.5 64.4h0M295 68.8h0M306.9 65.8h0M285.2 64.1h0M286.5 66.8h0M297.5 65.4h0M302.9 66.8h0M293.3 72.6h0M285.4 60.7h0M295.6 69h0M305.1 65.9h0M287.8 66.8h0M284.2 67.2h0M299.2 69.2h0M289.1 64h0M291.2 68.2h0M296.8 67.8h0M287.6 63.4h0M282.3 69.5h0M297.5 63.9h0M289.6 63.1h0M289.8 62.4h0"/>
<path stroke="#00BBDA" d="M312.2 107.4h0M317.8 84.1h0M315.9 91.9h0M327.4 86.1h0M317.5 94h0M324.4 92.6h0M311.6 101.7h0M325.1 85h0M317.8 82.5h0M328.7 86.4h0M321.3 97h0M310.6 100.5h0M323.9 88.1h0M322.3 78.1h0M325.9 92h0M327.1 88.1h0M311.3 98.8h0M323.1 78.9h0M327.1 84.3h0M320.3 87.6h0M324.6 86.3h0M322.5 89.1h0M320.4 87.8h0"/>
<path stroke="#00ACFC" d="M306.4 83.2h0M306.3 79.9h0M302.8 94.3h0M310.6 80.9h0M307.7 83.3h0M305 79.6h0M310.3 83.4h0M307.1 81.4h0M311.5 84.2h0M307.2 83.3h0M307.4 78.5h0M307.3 76.9h0M304.4 83.8h0M312.7 81.1h0"/>
<path stroke="#F8766D" d="M312.6 39.5h0M285.3 43.3h0M315.7 52.6h0M315.7 49.2h0M287.4 51h0M300 48.4h0M297.4 43.4h0M309.9 44.2h0M292.4 40.7h0M303.7 45.4h0M307.3 45.7h0M304.2 41.4h0M280 42.2h0M291.5 35.4h0M301.7 41.4h0M300.8 42.3h0M289.1 37.8h0M285 41.6h0M312.5 46.2h0M299.8 36.3h0M299.8 48.5h0M311.2 39.7h0M287.1 51.3h0M277.9 47.2h0M286.7 45.5h0M287.5 39.2h0M300.5 44.5h0M288.1 48.8h0M292.4 43.6h0M283.5 34.3h0M314.9 39h0M315.4 46.1h0M312 48h0M289.7 39.4h0M298.7 49h0M295.9 38.5h0M285.2 44.9h0M287.9 41.4h0M302.8 44.9h0M295.7 48.1h0M302.8 47.5h0M310.6 41.7h0M283.6 44.5h0M305.3 50.1h0M311.1 43.1h0M287.8 40.9h0M304.6 37h0M292.6 41.5h0M296.7 38.6h0M301.4 40.2h0M297.1 41.3h0M290.2 36.7h0M296.7 46.8h0M301 45.5h0M293.1 40.8h0M310.1 36h0M288.7 44.6h0M286.2 51.2h0"/>
<path stroke="#BE9C00" d="M245.7 80h0M267 58.5h0M240.3 79.6h0M254.4 75.2h0M270.3 70.5h0M262 63.7h0M244.1 70.8h0M248.6 66.5h0M268.7 66h0M241.1 69.4h0M250.7 77.4h0M248.2 71.6h0M238.1 72.3h0M246.4 71.7h0M257.7 58.6h0M250.3 69.5h0M265.9 67.6h0M252.5 71h0M245.5 78.9h0M263 64.3h0M258.5 58.4h0M263.3 61.7h0M258.4 66h0M268.7 60.9h0M270.2 67.7h0M244.3 71.1h0M268.1 65.6h0M239.9 77.5h0M263.2 75.5h0M255.9 73.5h0M251.7 73.5h0M249.7 70.5h0M249.8 77h0M263 66.3h0M234.8 77.7h0M259.8 64.5h0M258.4 64.3h0M261.8 64.3h0M256.8 66.5h0M263.5 60.4h0M249.7 67.7h0M248.8 75.8h0M242.2 72.2h0M266.7 60h0M254.5 70.3h0M239 77.6h0M264.5 57.7h0"/>
<path stroke="#8CAB00" d="M238.8 91.9h0M232.5 82.6h0M247.1 83.2h0M229.4 94.3h0M246.1 88.6h0M240.3 88.2h0M251.7 92.6h0M255 88.7h0M255.6 89h0M245.6 94.7h0M227.9 89.6h0M228 90.3h0M244 88.9h0M234.5 92.9h0M226.5 91.4h0M247.4 90.5h0M249.4 88.3h0M238.5 91.1h0M250.5 86.3h0M229.1 86.7h0M248.4 88.1h0M244 85h0M230 88.9h0M245 88.8h0M238.5 89.1h0M227.1 84.1h0M250.1 92h0M253.2 81.5h0M243.9 89.6h0M226 86.5h0M250.4 92.3h0"/>
<path stroke="#24B700" d="M302.4 64.6h0M307.9 63.6h0M288.6 58.5h0M301.7 69.3h0M288.4 72h0M299.4 65.4h0M305.8 68.4h0M287.7 61.9h0M289.1 65.5h0M282.3 67.9h0M300 69.2h0M308 69h0M287.2 66h0M287.8 62.7h0M281.5 66.8h0M301.7 62.9h0M284.3 70.4h0M293.5 67.1h0M310.5 64.1h0M306.1 69.9h0M294.1 66.1h0M285.7 64.6h0M311.6 66.9h0M297.3 62.5h0M298 68.5h0M281 67.9h0M288.5 66h0M296 62.6h0M291.2 63.3h0M291.3 63h0M293.7 66.9h0M289.7 63.4h0M288.4 68.8h0M291.1 59h0M288.8 65.8h0M289 70.9h0M295.6 62.4h0"/>
<path stroke="#8B93FF" d="M288 92.9h0M289 91.2h0M295.7 85.6h0M285.1 87.7h0M289.6 90.2h0M294.5 91.8h0M287 79.8h0M289.9 78.3h0M288.5 84.5h0M288.1 89.4h0M295.4 83h0M296.4 88.8h0M289.5 86.5h0M291.4 86.2h0M287.9 87.5h0"/>
<path stroke="#00BE70" d="M316.9 68.1h0M309.1 68.9h0M318.5 60.1h0M319.1 72.4h0M314.2 62.5h0M329.8 68.9h0M322.6 61.2h0M317.1 55.7h0M312.1 55.6h0M317.9 62.8h0M319.5 69.9h0M324.8 59.7h0M317.3 77.2h0M323.3 66.8h0M312.5 65.2h0M324.9 54.9h0M317 48.2h0M318 58.5h0M323.9 69.8h0M321.2 57.7h0M320.1 52.7h0M309.7 62.3h0"/>
<path stroke="#00ACFC" d="M307.4 78.1h0M304.6 82.1h0M309.6 90.2h0M303.5 94.8h0M307.5 78.2h0M307.4 80.8h0M306.5 82.9h0M299.7 91.6h0M305.7 89h0M304.7 90.7h0M306.8 93h0M303.7 90.3h0M304.2 91.7h0"/>
<path stroke="#E18A00" d="M302.4 120.4h0M312.1 103.9h0M307.8 115.6h0M305.1 113.1h0M305 106.4h0M297.7 120.3h0M288.9 123.1h0M303.4 112.2h0M318.2 109.7h0M305.1 122.8h0M297.4 112.6h0M301.8 124.7h0M314.5 108.8h0M305.9 118.2h0M296.6 117.4h0M297.9 114.8h0M287.8 127h0M310.6 117.7h0M296.2 111.7h0M289.1 124.6h0M318.5 103.3h0M313.4 111.6h0M303.7 117.7h0M288.9 112.7h0M315.4 105.2h0M310.6 113.7h0M298.8 118.7h0M314.8 113.2h0M316.6 104h0M300.9 118h0M294.3 117.9h0M310 117.8h0M299.7 104.4h0M318.5 112h0M305.5 113.1h0M294.5 126.7h0M296.6 114.2h0M310.1 102.1h0M306.7 105h0M306.4 122.3h0M319.8 113.2h0M311.5 107.5h0M290.1 122.6h0M313.4 109h0M292.7 115.8h0M315 111.1h0M318.8 109.4h0M304 106.4h0M298.6 109.7h0M307 113.2h0M316.9 116.4h0"/>
<path stroke="#00BBDA" d="M327.9 83.5h0M319 79.7h0M325.7 91.9h0M322.9 83.1h0M319 93.3h0M325.5 88.7h0M318.5 99h0M325.4 93.4h0M321.1 87.6h0M313.3 99.5h0M323.1 92.7h0M317.8 81.2h0M320.9 93.1h0M316.2 96.8h0M320.1 87.9h0"/>
<path stroke="#FF65AC" d="M241.1 24.9h0M236.9 28.4h0M239.1 26.4h0M251.1 33h0M246.9 29.1h0M243.3 26.3h0M239.9 25.9h0"/>
<path stroke="#D575FE" d="M276.4 43.1h0M273.4 58.5h0M274.7 56.1h0M274.1 54.1h0M274.4 52.1h0M269.5 48.1h0M268.5 43.1h0M270.4 51.7h0M269 49h0M265.9 47.8h0M272.9 51.7h0M276 41.2h0M270.4 42h0M281.6 53.2h0"/>
<path stroke="#F962DD" d="M231.4 75.9h0M231.2 78.8h0M225.7 78.6h0M227.3 78.9h0M229.3 74.5h0M229.4 77.6h0M224 79h0M231.8 77.7h0"/>
<path stroke="#00C1AB" d="M256.7 92.1h0M274.7 104.4h0M257.4 93.2h0M273.2 86.9h0M288.6 91.5h0M283.1 93.3h0M285.9 85.8h0M275.3 96.2h0M265.2 97h0M272.9 97.3h0M280 91.3h0M277.6 91.6h0M270.4 90.5h0M273 94.6h0M279.6 88.5h0M277.1 89.1h0M281.9 100.8h0M262.9 92.3h0M266.8 91h0M259.6 94.1h0M272.9 86.9h0M271.9 83.5h0M273.8 99.1h0M264.4 86.8h0M276 94h0"/>
<path stroke="#24B700" d="M293 66.8h0M287.9 71.1h0M298.8 67.2h0M299.1 66.4h0M307.2 65h0M289.8 66.1h0M287.4 69h0M307.3 64.5h0M281.3 66.1h0M299.7 65.5h0M288.7 66.8h0M310.2 67.1h0M291.3 57.7h0M306.1 70.2h0M296.7 66.8h0M287.8 65.3h0M295.8 65.8h0M300.8 67.1h0M297.1 67.8h0M288.5 69.8h0M296.7 71h0M285.5 65.6h0M298.6 60.5h0M305.8 63.4h0M294.9 65.7h0M294.4 62.6h0M306.5 65.8h0M308.3 63.7h0M290 70.4h0M295.6 67.1h0M308.5 69.1h0M294.9 68.3h0M309.8 66.6h0M304.1 68.8h0M308.1 66.9h0M304.6 71.7h0M301.7 70.2h0"/>
<path stroke="#8B93FF" d="M290.4 84.2h0M296.2 86.5h0M289.2 81.9h0M294 87.6h0M289.8 86.2h0M286.8 86.1h0M287.7 93.5h0M286.6 83.5h0M290.2 90.2h0M293.1 92.8h0"/>
<path stroke="#00C1AB" d="M279.4 82.1h0M277.2 83.5h0M280.6 91.4h0M275.5 92h0M271.7 92.1h0M271 92.5h0M277.2 84.3h0M276.2 92.4h0M263.8 94h0M277.6 93.5h0M260.4 94.5h0M279 88.4h0M273.1 93.7h0M263.5 88h0M268 96h0M273.1 96h0M280.8 86.6h0M283.1 90.1h0M264.3 90.7h0M273.6 94.8h0M264.4 91.4h0M276.4 89.8h0M260.6 95.2h0M263.4 95.4h0M280.5 81.5h0M262.7 98.5h0M282.9 84.6h0M276.1 92.7h0M287.3 93.7h0M289.4 86.9h0M261.3 96.9h0"/>
<path stroke="#00ACFC" d="M305.8 79.1h0M312.2 82.3h0M307.1 88.1h0M310 85.1h0M302 95.4h0M306.2 79.2h0M306.7 78.1h0M300.4 94.4h0M312.8 80.5h0M302.2 86.2h0M307 81.9h0M302.4 92.3h0M303 88.2h0M306.3 82.8h0M301.1 85.5h0M307.5 90.2h0M304 82.7h0M304.5 98.5h0"/>
<path stroke="#F8766D" d="M296.2 44.8h0M281 43.6h0M305.1 49.2h0M303.6 42.3h0M281.8 39.5h0M300.7 35.6h0M303.5 46.1h0M298.9 47.3h0M295.5 39.9h0M290.7 32.2h0M314.4 43.4h0M301.6 40.9h0M305.4 51h0M284.7 37.8h0M307.8 39.6h0M307.9 42.3h0M301.2 48.3h0M305.7 37.5h0M303.8 35.1h0M298.5 34.2h0M282.8 47.5h0M294.5 36.2h0M294.6 40.2h0M295.8 36.8h0M306.2 47.7h0M304.6 40.4h0M301.2 43.4h0M297.6 39.5h0M296.8 32.2h0M308 48.8h0M299.1 44.9h0M302.3 47h0M307 48.5h0M296.1 46.4h0M306.5 51.4h0M305.5 40.5h0M290.3 43.6h0M302.1 31h0M300.7 41.9h0M305.5 33.4h0M282.1 43.4h0M290.1 35.2h0M296.6 45.8h0M277.9 47.3h0M293.4 51.3h0M284 37.1h0M315.4 47.4h0M307.7 37.6h0M299.3 43.7h0M302.6 49.4h0M279.4 41.6h0M286.4 41.8h0M303.5 48.4h0M283.4 42.8h0M293 45.8h0M297.4 52.1h0M291.8 45.3h0M288.1 47.7h0M303.8 50.6h0M287.9 47.5h0M294 38.4h0"/>
<path stroke="#BE9C00" d="M267.5 65.8h0M268.8 63.6h0M236.7 76.8h0M268 64.9h0M244 81.2h0M246 72.9h0M242.6 82.5h0M248.5 67h0M243.6 70.5h0M261.1 66.6h0M263.8 61.5h0M243.8 80.2h0M246.5 71.7h0M261.6 56.5h0M262.3 71.4h0M251 67.1h0M248.8 76.3h0M234.6 76.5h0M258.1 77.6h0M258.3 66.5h0M257.2 68.1h0M265.9 67.6h0M236.2 78.6h0M234.4 76.1h0M242.6 79.4h0M246.2 73.6h0M247.2 73.3h0M246.4 71.6h0M259.4 63.3h0M262.9 69.2h0M243.7 73.5h0M240.1 73.1h0M263.5 64.6h0"/>
<path stroke="#FF65AC" d="M240.4 25.5h0M250.8 31.2h0M247.4 29.4h0M239.4 24.3h0M240.6 25.6h0M238.6 24.9h0M253.1 32h0"/>
<path stroke="#00BBDA" d="M326.3 94.2h0M327 86.5h0M320 94.1h0M318.6 94h0M313.8 98.4h0M320.5 94.7h0M310.8 103.1h0M317.6 89.3h0M317.5 85.9h0M313.2 105.3h0M323.8 80.3h0M324.1 88.6h0M320.8 97.2h0M319.9 95.8h0M321.7 87.5h0M315.8 86.8h0M324.7 94.9h0M318 83.4h0M324.1 83.1h0M313.5 100.3h0"/>
<path stroke="#E18A00" d="M306.5 115h0M294.9 111.1h0M314.8 104.9h0M294 117h0M310 111.4h0M315.6 111h0M300.8 121.7h0M315.2 119.9h0M297.5 116.2h0M290.7 124.8h0M311.3 116.1h0M312.6 111.3h0M297.5 120.2h0M304.8 116.2h0M303.3 124.8h0M294.9 125.9h0M308.9 112.1h0M310.6 101.3h0M304.3 106.8h0M304.2 118h0M295.1 119.1h0M313.7 113.7h0M318.2 113.5h0M310.7 121.3h0M292.3 115.3h0M308.7 101.4h0M306.9 114h0M300.4 114.2h0M301.8 119.9h0M315.3 118.1h0M300.6 118.2h0M310.7 106.4h0M317.6 104.9h0M293.2 125.3h0M316.8 113.6h0M312.9 114.2h0M294.8 112.1h0M307.8 121.8h0M310.9 122.2h0"/>
<path stroke="#D575FE" d="M273.1 50.5h0M277.5 58.5h0M272.9 60.1h0M274.2 49.8h0M268.3 50.7h0M273.4 57.1h0M275.8 61.3h0M271.2 54.6h0M274.8 55.3h0M264.5 43.6h0M270.9 43.1h0M275.8 43.5h0M268 46.5h0"/>
<path stroke="#00BE70" d="M319.6 58.8h0M318.2 69.5h0M315 56h0M322.1 77.5h0M320.3 74.7h0M311.8 54.3h0M316.2 69.9h0M317.8 51.1h0M319.7 68.7h0M324.3 60.6h0M317.5 58.2h0M319.3 48.9h0M324.8 76.1h0M318.9 63.8h0M311.6 68.4h0M311.3 68.4h0M320.1 55.8h0M324.6 72.6h0M317.4 61.9h0M316.6 66.9h0M314.7 67.8h0M325.5 55.9h0M321.1 56.5h0M318.4 64.7h0M317.9 54h0M313.6 60.7h0M313.9 50.1h0M320.1 66.3h0M323.4 62.5h0M323 50.6h0M324.9 70.5h0M313.9 73h0M325.8 71.5h0M322.2 67.3h0M325.6 69.3h0M313.5 55.1h0M322.7 60.7h0M314.3 72.6h0M321.1 72.8h0M325 75.4h0M316.5 54.9h0M314.1 64.9h0M326.4 67.9h0M315.6 70.3h0"/>
<path stroke="#F962DD" d="M228.7 75.1h0M228.8 81h0M231.8 80.3h0M235.3 78.9h0M231.7 74.9h0M225.3 75.9h0M223.9 78h0M229.1 77.5h0"/>
<path stroke="#8CAB00" d="M243.1 91.4h0M251.7 91.2h0M229.3 88.5h0M229.6 88.9h0M254.4 87.7h0M241.9 92.2h0M240.6 89.3h0M230.5 84.2h0M229.2 94.8h0M239.8 90.4h0M238.2 95.9h0M226.8 90.9h0M242.4 91.4h0M246 87.2h0M237.6 87.6h0M232.1 84.8h0M233.2 87h0M237.9 87.7h0M227 86.5h0M228.7 90.9h0M251.9 81h0M231.4 88.1h0"/>
<path stroke="#00ACFC" d="M305.5 91.1h0M307.2 88.6h0M308 80.4h0M304.7 79.9h0M306.5 79.6h0M301.4 84h0M309.7 88.9h0M305.2 84.6h0M307.3 80.1h0M307.8 84h0M310.7 85.1h0M308.6 83.8h0M306.6 85.6h0M310.9 86.8h0"/>
<path stroke="#F8766D" d="M295.1 33.5h0M294.2 46.9h0M288.6 49.3h0M284.9 39.3h0M297.6 42.9h0M307.7 46.5h0M304.5 47.7h0M295.9 32.9h0M295 49.6h0M298.5 34.6h0M290.8 34.9h0M291.3 32.6h0M297 46.4h0M299.4 33.3h0M282.6 43h0M289.3 37.2h0M299.9 47.2h0M303.8 47.2h0M304.5 48.3h0M296.5 51.9h0M288.6 37.8h0M301.4 45.1h0M309.5 48.3h0M290.5 40.6h0M304.5 48.4h0M304.8 44.7h0M304.6 46h0M297.1 42.6h0M284.9 50.7h0M295.7 36.7h0M293.2 45.6h0M310.6 38.9h0M318.3 47.2h0M309.6 45.5h0M293.4 50h0M294.3 34.9h0M309.6 43h0M308.3 49.1h0M305.9 39.2h0M287 39.9h0M308.3 36.9h0M296.8 34h0M279.1 45.6h0M294.6 40.1h0M303.2 48.3h0M299.4 48.6h0M296.3 47.8h0M299.5 47.4h0M291.3 34.9h0M290.4 50.6h0M299.4 35.8h0M289.8 52.3h0M295.3 39.9h0M303.8 40.5h0M286.9 36.8h0M279.3 48.2h0M290.7 32.8h0M288.7 44.2h0M286.6 42.6h0M289 38.7h0M283.9 45.2h0M301.4 41.8h0M315.6 51.8h0M295.2 37.5h0M303.8 35.2h0M308.3 52.7h0M301 42.4h0"/>
<path stroke="#00BE70" d="M314.1 71.1h0M311.7 69.4h0M322.9 55.5h0M320 63.1h0M309.7 60.2h0M314.9 53.5h0M314.3 61.1h0M313.5 50.3h0M324.6 58.5h0M326.2 61.6h0M323.8 57.8h0M326.4 71.2h0M321.7 77.5h0M320.7 51h0M318.2 68.2h0M320 60.7h0M317.4 77.7h0M310.3 66.7h0M311.1 64.1h0M316.5 59.5h0M318.8 54.1h0M310.1 64.5h0M315.9 59.9h0M311 53.8h0M324 69.7h0M312.9 68.8h0M322.8 61.6h0M319.6 60.4h0M322.5 74.8h0M324.4 56.3h0M320.1 63.4h0M318.1 48.8h0M310.9 59.1h0M317.1 76.2h0M321.4 74.2h0M311.7 61.9h0"/>
<path stroke="#24B700" d="M300.7 68.8h0M300.4 72.1h0M287.9 66.9h0M299.4 68.7h0M292.9 71.5h0M293.6 65.6h0M280.5 68.1h0M297 63.9h0M296.5 68.1h0M295.2 63.3h0M303 70.8h0M284.4 65.9h0M308.2 69.6h0M291 61.2h0M293.9 62.2h0M300.1 71.5h0M301.6 68.1h0M303.8 72.3h0M309.7 65h0M302.2 71.4h0M281.6 68.4h0M293.9 68.3h0M299 67.1h0M284.5 62.6h0M283.9 61.7h0M294.3 67.7h0M309.5 63.9h0M302.3 64.7h0M293.7 66.4h0M305.8 66.9h0M297.1 70.5h0M288.5 66.8h0"/>
<path stroke="#BE9C00" d="M262 68h0M265.6 65.9h0M254.7 79.9h0M251.8 71.9h0M264.2 70.8h0M264.7 59.3h0M266.4 60.7h0M269.3 73.1h0M264.1 68.7h0M247.8 74.6h0M263.1 62.3h0M243.9 75.3h0M262.2 63.7h0M255.9 66.7h0M260.9 61.9h0M265.2 66.5h0"/>
<path stroke="#D575FE" d="M276.2 60.8h0M273.3 57.7h0M271.7 48.8h0M267.7 43.1h0M270.8 47.4h0M270.5 52.8h0M265.8 51.9h0M276.8 52.3h0M277.8 54.4h0M275.6 56.8h0M272.9 54.4h0M270.9 42.2h0M270.6 58.5h0M274.3 60.4h0"/>
<path stroke="#8CAB00" d="M233.8 85.1h0M227.5 88.6h0M231.3 92.4h0M243.2 86.3h0M227.9 83.9h0M226.3 87.3h0M231.6 85h0M224.1 90.8h0M232.3 83.1h0M227.9 89.5h0M254.8 89.3h0M251.9 87.7h0M240.4 90.9h0M223.8 89.8h0M252.9 88.6h0M251.5 89.6h0M230.2 88.7h0M224.9 93.3h0M238.2 83.6h0M230.2 85.5h0M252.2 88.2h0M237 85.8h0M237 92.3h0M236 87.7h0M233.8 89.7h0M226.2 85.7h0"/>
<path stroke="#00BBDA" d="M322 86.2h0M316 91h0M307.6 108.7h0M322.9 83.3h0M319.2 80.1h0M324.2 79.6h0M319.3 86.6h0M326.6 80h0M320.5 80.5h0M315.1 91.5h0M318.6 80.3h0M322.4 89.1h0M322.8 88h0M316.2 97.1h0M307.3 104.7h0M327.3 87.3h0M312 99.5h0M324.3 86.1h0M318.4 90.8h0M323.6 81.9h0M318.6 95.8h0M322.1 94.6h0"/>
<path stroke="#F962DD" d="M227.9 81h0M235.1 77.9h0M224.8 80.4h0M225.2 79.8h0M233.3 77.4h0M226.6 74.8h0M229.6 77.8h0M230.2 77.3h0M233.3 76.5h0M234.9 77.6h0M226.5 79.2h0M224.5 78h0"/>
<path stroke="#00C1AB" d="M271 85.8h0M274.8 92.2h0M282.3 81.9h0M272.9 95.3h0M283 85h0M262.2 93.4h0M287.2 86.6h0M261.5 86.9h0M277.5 89.3h0M266.1 92h0M279.6 96.3h0M266.4 93.6h0M265 92.2h0M270.1 94.1h0M261.6 94.8h0M256.7 91.4h0M272.5 88.4h0M281.1 92.3h0M277.7 88.5h0M256.9 85.2h0M270.1 91.4h0M268.7 91.9h0M269.3 80.7h0M264.3 87.4h0M264.3 100.5h0M281.4 83.1h0M258.3 92.2h0M262.1 98.7h0M264 102.5h0M272.3 90.8h0"/>
<path stroke="#FF65AC" d="M238.5 26.7h0M241.9 25.7h0M239.7 27.5h0M244.1 28.3h0M237.2 28h0M243.7 25.4h0M238.2 26.8h0M248.8 31.8h0M251 30.6h0M245.9 28.1h0M240.8 27.9h0M238.6 28h0"/>
<path stroke="#E18A00" d="M310.1 102.5h0M304.4 120.7h0M305 119.9h0M311.6 116.2h0M301.8 111.5h0M293 117.2h0M300.8 120.3h0M306 106h0M295.7 127.3h0M312.4 116.3h0M308.7 117.1h0M316.3 102h0M314 110.4h0M290.5 116h0M303.1 114.1h0M305.6 116.4h0M308.9 108h0M299.6 120.4h0M299.5 119.6h0M314.2 114.6h0M297.4 126.7h0M314 119.3h0M319.4 106.5h0M309.4 114.6h0M300.1 112.3h0M307.6 101.2h0M307.4 116.2h0M308 121.1h0M296.2 109.3h0M311.4 117.1h0M306.7 107.4h0M312.7 110.5h0M303.6 109.3h0M306.3 111.1h0M298.3 123h0M305.3 114.1h0M317.1 113.9h0M303.3 114.9h0M303.7 106.4h0M301.7 107.2h0M298.1 110.7h0M319.6 106.6h0M285.3 119.9h0M305.8 111.2h0M306.5 123.1h0M298.6 111.5h0M310.7 116.8h0M291.5 119.5h0M307.1 115.3h0"/>
<path stroke="#8B93FF" d="M285.7 88.2h0M288.4 87.4h0M288.2 87.3h0M286.1 88.9h0M296.2 88.3h0M294.5 87.2h0M291.7 86.5h0M286.8 85.3h0M285.2 83.8h0M294.3 88.9h0M290.4 84.2h0M289.3 85.3h0M293 85.5h0"/></g>
<path d="M219.6 17V131.9H342.4" stroke="#111" stroke-width="1.05" fill="none"/>
<path d="M217 19.9H219.6M217 47.4H219.6M217 75H219.6M217 102.5H219.6M217 130H219.6M221 131.9V134.5M242.3 131.9V134.5M263.5 131.9V134.5M284.9 131.9V134.5M306 131.9V134.5M327.2 131.9V134.5" stroke="#111" stroke-width="0.9"/>
<g fill="#222" font-size="9.7">
<text x="214.2" y="22.8" text-anchor="end" textLength="5.2" lengthAdjust="spacingAndGlyphs" stroke="#222" stroke-width="0.12">8</text>
<text x="214.2" y="50.3" text-anchor="end" textLength="5.2" lengthAdjust="spacingAndGlyphs" stroke="#222" stroke-width="0.12">4</text>
<text x="214.2" y="77.9" text-anchor="end" textLength="5.2" lengthAdjust="spacingAndGlyphs" stroke="#222" stroke-width="0.12">0</text>
<text x="214.2" y="105.4" text-anchor="end" textLength="9.0" lengthAdjust="spacingAndGlyphs" stroke="#222" stroke-width="0.12">−4</text>
<text x="214.2" y="132.9" text-anchor="end" textLength="9.0" lengthAdjust="spacingAndGlyphs" stroke="#222" stroke-width="0.12">−8</text>
<text x="221" y="144.6" text-anchor="middle" textLength="14.3" lengthAdjust="spacingAndGlyphs" stroke="#222" stroke-width="0.12">−7.5</text>
<text x="242.3" y="144.6" text-anchor="middle" textLength="14.3" lengthAdjust="spacingAndGlyphs" stroke="#222" stroke-width="0.12">−5.0</text>
<text x="263.5" y="144.6" text-anchor="middle" textLength="14.3" lengthAdjust="spacingAndGlyphs" stroke="#222" stroke-width="0.12">−2.5</text>
<text x="284.9" y="144.6" text-anchor="middle" textLength="11.2" lengthAdjust="spacingAndGlyphs" stroke="#222" stroke-width="0.12">0.0</text>
<text x="306" y="144.6" text-anchor="middle" textLength="11.2" lengthAdjust="spacingAndGlyphs" stroke="#222" stroke-width="0.12">2.5</text>
<text x="327.2" y="144.6" text-anchor="middle" textLength="11.2" lengthAdjust="spacingAndGlyphs" stroke="#222" stroke-width="0.12">5.0</text>
</g>
<text x="283.6" y="157.6" font-size="8.9" fill="#222" text-anchor="middle" textLength="29.7" lengthAdjust="spacingAndGlyphs" stroke="#222" stroke-width="0.12">UMAP_2</text>
<text transform="translate(202.2 76.8) rotate(-90)" font-size="8.9" fill="#222" text-anchor="middle" textLength="26" lengthAdjust="spacingAndGlyphs" stroke="#222" stroke-width="0.12">UMAP_1</text>
<circle cx="334" cy="20.4" r="1.5" fill="#F8766D"/><text x="337.2" y="22.6" font-size="6.1" fill="#333" stroke="#333" stroke-width="0.12">0</text><circle cx="334" cy="25.97" r="1.5" fill="#E18A00"/><text x="337.2" y="28.17" font-size="6.1" fill="#333" stroke="#333" stroke-width="0.12">1</text><circle cx="334" cy="31.54" r="1.5" fill="#BE9C00"/><text x="337.2" y="33.74" font-size="6.1" fill="#333" stroke="#333" stroke-width="0.12">2</text><circle cx="334" cy="37.11" r="1.5" fill="#8CAB00"/><text x="337.2" y="39.31" font-size="6.1" fill="#333" stroke="#333" stroke-width="0.12">3</text><circle cx="334" cy="42.68" r="1.5" fill="#24B700"/><text x="337.2" y="44.88" font-size="6.1" fill="#333" stroke="#333" stroke-width="0.12">4</text><circle cx="334" cy="48.25" r="1.5" fill="#00BE70"/><text x="337.2" y="50.45" font-size="6.1" fill="#333" stroke="#333" stroke-width="0.12">5</text><circle cx="334" cy="53.82" r="1.5" fill="#00C1AB"/><text x="337.2" y="56.02" font-size="6.1" fill="#333" stroke="#333" stroke-width="0.12">6</text><circle cx="334" cy="59.39" r="1.5" fill="#00BBDA"/><text x="337.2" y="61.59" font-size="6.1" fill="#333" stroke="#333" stroke-width="0.12">7</text><circle cx="334" cy="64.96" r="1.5" fill="#00ACFC"/><text x="337.2" y="67.16" font-size="6.1" fill="#333" stroke="#333" stroke-width="0.12">8</text><circle cx="334" cy="70.53" r="1.5" fill="#8B93FF"/><text x="337.2" y="72.73" font-size="6.1" fill="#333" stroke="#333" stroke-width="0.12">9</text><circle cx="334" cy="76.1" r="1.5" fill="#D575FE"/><text x="337.2" y="78.3" font-size="6.1" fill="#333" stroke="#333" stroke-width="0.12">10</text><circle cx="334" cy="81.67" r="1.5" fill="#F962DD"/><text x="337.2" y="83.87" font-size="6.1" fill="#333" stroke="#333" stroke-width="0.12">11</text><circle cx="334" cy="87.24" r="1.5" fill="#FF65AC"/><text x="337.2" y="89.44" font-size="6.1" fill="#333" stroke="#333" stroke-width="0.12">12</text>
<g stroke-width="1.3" stroke-linecap="round" fill="none"><path stroke="#F564E3" d="M405.8 91.1h0M415.2 89.9h0M450.3 123.8h0M463.2 112.2h0M457.2 110.3h0M458.7 63h0M466.8 115.7h0M452.2 115h0M468.7 112.2h0M398 84.1h0M481.4 88.9h0M458.4 89.8h0M452.9 90h0M454.7 92.1h0M468.5 127.2h0M452.9 120.3h0M451.3 121.2h0M465.8 125.4h0M408.7 93.1h0M469.5 109.3h0M469.8 86.9h0M468.7 111h0M394.4 82.9h0M460.2 125.5h0M411.8 90.7h0M397.5 90.8h0M457.9 112.7h0M397 84h0M470.9 99.3h0M466.6 84.9h0M484.6 89.1h0M459.6 69.3h0M470.4 79.8h0M464.1 88.4h0M441.4 96.6h0M459.1 38.7h0M450.5 117.3h0M406.2 88.4h0M453.2 120.4h0M424.5 90.6h0M452.9 81.9h0M445.9 35.8h0M484.3 94.4h0M477.1 87.9h0M420.2 90.1h0M462.8 115.3h0M400.8 79.3h0M396.4 74.5h0M455.9 67.8h0M448.6 39.2h0M487.5 87h0M425.8 90h0M389.9 88.2h0M460 114.6h0M409 88.9h0M396.4 84.1h0M457.2 107.3h0M468.3 115.9h0"/>
<path stroke="#619CFF" d="M481.5 90.5h0M482.4 64.6h0M425.6 92.5h0M443.4 89.2h0M396.1 93h0M482.2 91.3h0M453.3 117.5h0M462.3 120.7h0M477.9 60.1h0M443.5 81.2h0M432.5 91.7h0M465.4 81.6h0M425.1 93h0M456.5 84.3h0M390.1 85.6h0M461 66.6h0M456.8 62.5h0M485.4 87.3h0M389.6 78h0M471.5 87.2h0M450.3 67.4h0M465.6 43.3h0M457.7 109.8h0M464.9 81h0M430.9 94.6h0M456.1 81.6h0M418.9 90.1h0M481.1 96.3h0M449.4 64.8h0M460.5 109.9h0M389.7 89.2h0M464 116.4h0M467.6 88h0M396.6 86.8h0M466.2 89.5h0M422.6 61.5h0M428.3 88.7h0M453.1 121.4h0M392 93.2h0M482.5 91.3h0M443.7 103.1h0M467 85.8h0M480.3 87.6h0M484.9 84.8h0"/>
<path stroke="#00BA38" d="M452.9 84.8h0M461.5 35.9h0M454.6 65.9h0M470 35.9h0M468.2 64.6h0M437.8 55.1h0M471.4 104h0M485.2 60.3h0M408.9 77.2h0M456.2 36.2h0M396.6 78.3h0M452.3 65.7h0M451.5 47.4h0M429.9 87.8h0M447.1 59.7h0M477.3 68.8h0M422.5 92.7h0M445.5 64.7h0M461.2 33.7h0M446.9 63.9h0M450.6 33.9h0M438.9 87.1h0M470.6 64.7h0M402.1 85.6h0M458.4 49.8h0M484.3 61.6h0M417.8 70.1h0M484.7 73.9h0M428.6 75.5h0M391.8 73.6h0M452.6 89.8h0M401.3 81.5h0M402.8 68.8h0M401 24.1h0M392.9 77.1h0M467.9 41.9h0M449.5 44.8h0M437.8 55.2h0M475 42.6h0M467.9 39.4h0M450.4 71.5h0M467.6 47.8h0M446.8 46.2h0M430.6 42.6h0M457.1 71.7h0M404.3 75.3h0M456.7 61.8h0M483.6 92.8h0M448.4 68.4h0M475.8 44.9h0M485.8 62.4h0M416.9 68.6h0M446.9 37.1h0M442.4 46.3h0M458.4 35.1h0M425.2 64.3h0M480.5 65.1h0M463.9 33h0M466.7 111.5h0M464.1 26.5h0M476 58.3h0M396.4 74.7h0M480.8 67.3h0M429.5 41.4h0M453.9 50.6h0M426.6 45.6h0M422.4 60.4h0"/>
<path stroke="#F8766D" d="M473.8 51.3h0M475.9 51.2h0M406.6 24.9h0M431.5 40h0M429.5 46.1h0M478.4 69.1h0M393.8 72.9h0M484.2 59.8h0M452.3 35.7h0M482.3 49.1h0M472.1 44.4h0M455.8 47.4h0M429.9 59.8h0M411 28.7h0M396.9 77.1h0M413 31.1h0M451.1 47.4h0M462.9 69.9h0M468.4 50h0M460.3 64.6h0M459.7 43h0M455 40.6h0M446.8 47.5h0M459.8 125h0M462 37.5h0M398.9 24.5h0M455.2 62h0M459.8 60.8h0M466.7 41.8h0M462.6 118.2h0M424.3 63.5h0M474.6 47.6h0M474.3 44.8h0M423 62.8h0M458.2 35.8h0M442.1 48.7h0M476.3 62.3h0M452.4 40.1h0M477.1 59h0M402.3 26.8h0M463.9 37.7h0M472.5 57.3h0M448.1 50.8h0M457.6 45.3h0M458.9 36.6h0M451.2 38.7h0M452.3 80.7h0M402.3 80.9h0M433.8 44.4h0M473.8 50.4h0M451.6 51.7h0M402.3 26.3h0M460.3 48.1h0M473.7 62.6h0M468.7 61.4h0M433.2 63.6h0M467.1 92.7h0M445.9 64h0M465.9 47.3h0M467.8 46.2h0M458.4 65.5h0M464.3 66.1h0M421.7 63.2h0M482.1 57.5h0M446.7 69.9h0M427.2 45.6h0M437 97.6h0M442.6 48h0M446 62.8h0M461.1 30.3h0M445.7 66.2h0M401.4 26.5h0M402.9 25.2h0M463.1 38.1h0M434.4 50h0M405.5 23.3h0M476.2 58.3h0M459.2 46h0M395.8 86.5h0"/>
<path stroke="#00BFC4" d="M449.9 87.4h0M464.5 111.3h0M401.7 25.6h0M440.7 54.6h0M485 94.4h0M396.4 88h0M392.6 82.3h0M396.1 82.7h0M486.3 80.5h0M472.3 108.4h0M472.7 110.6h0M398.6 88.6h0M423.2 62.9h0M394.1 85.2h0M479.6 91.6h0M451.1 121.6h0M480.5 88.4h0M425.2 93.7h0M456.1 110.4h0M443.7 85.6h0M434.6 95h0M465.2 122.8h0M459.3 113.9h0M461.7 121.4h0M463.1 71.7h0M406.6 85h0M483 87.8h0M462.4 124.3h0M441.7 97.1h0M458.7 72.1h0M473.5 100.6h0M409.4 85.4h0M458.1 84.4h0M453.8 115.5h0M451.8 91.4h0M472.8 101.9h0M392.2 88.9h0M468.5 101.5h0M465.4 83h0M468.1 105.1h0M482.7 79h0M428.8 96.3h0M471.4 114.1h0M440.7 100.3h0M459.1 45.8h0M445.4 63.8h0"/>
<path stroke="#B79F00" d="M459.2 62.2h0M469.5 45.4h0M453.7 48.2h0M440.7 53.5h0M418.5 90.1h0M478.9 58.8h0M475.9 73.9h0M482.8 56.6h0M418.3 72h0M458.4 41h0M429.6 64h0M449.4 83.5h0M417.7 65.8h0M424.3 64.4h0M448.7 35.7h0M412.2 83.8h0M428 67.3h0M484.1 93.4h0M430.2 73.4h0M454.2 86.1h0M475 53.7h0M430.1 94.5h0M449.9 47.5h0M479.7 77.1h0M457.8 42.1h0M445.8 42.2h0M427.3 67.8h0M435.1 91.3h0M455.2 58.8h0M481.2 59.6h0M474.2 65h0M450.2 48.6h0M416.6 70.5h0M432.1 72.8h0M448.9 67.4h0M435.3 53.4h0M413.1 76.6h0M430.5 59.8h0M431.5 90.1h0M466.3 43.1h0M450.6 39.9h0M455.6 86.3h0M432.7 63.9h0M468.4 42h0M458 62.9h0M477.8 56.8h0M434 44.7h0M396.4 82.7h0M471.9 45.5h0"/>
<path stroke="#F564E3" d="M467.3 96.8h0M439.1 102.5h0M452.9 85h0M454.9 110.1h0M436.5 89.4h0M410.1 76.7h0M486.3 91h0M451.3 87h0M471 59.2h0M407.6 82.1h0M447 46.1h0M466.8 117.3h0M395.7 94.7h0M470.2 90.6h0M399.7 87.5h0M388.9 79.2h0M466 87.1h0M456.7 102.2h0M466.8 93h0M453 66.3h0M455.6 80.2h0M431.4 77.5h0M457.5 114.7h0M393.9 85.7h0M434.7 92h0M398.2 90.4h0M451 88.4h0M393.9 93.9h0M460.7 116.1h0M418.8 89.2h0M463.3 87.2h0M437.3 51.7h0M394.2 91.5h0M430 88.1h0M414 86.4h0M484.2 80h0M485.9 82.2h0M465.6 113.2h0M470.2 78.9h0M416.9 89.9h0M398.2 87.7h0M409.7 92.1h0M410.6 88.8h0M470.1 85.3h0M468.6 101.7h0M465.4 82.4h0"/>
<path stroke="#00BFC4" d="M472 88.7h0M439.2 93.7h0M479 85.4h0M428.5 89.6h0M455.2 66.5h0M424.6 96h0M439.9 59.3h0M417.6 88.3h0M465.5 87.6h0M452.8 126.4h0M435.4 83.5h0M484.6 83.2h0M396.5 87.4h0M453.1 117h0M473 83.3h0M402.6 83.7h0M470.3 62.3h0M391.9 76.8h0M424.3 95.3h0M432.2 48.9h0M455.9 81.8h0M482.2 82.5h0M467.3 83.9h0M453.6 109.6h0M412.5 75.2h0M451.5 118.6h0M465.1 91.2h0M439.8 48.9h0M466.8 76.9h0M469 106.4h0M394 88.1h0M439.3 85.8h0M460.7 65.8h0M440.1 93.9h0M451.4 123.2h0M416.6 84.4h0M470.5 100.2h0M475.4 97.4h0M475.5 50.4h0M446.2 62.9h0M478.6 90.7h0M422.7 91h0M392.1 91.7h0M436.4 95h0M476.7 104h0M416.2 88.1h0M459.5 61.9h0M473 113.6h0M484.9 88.2h0M395.2 88.7h0M436.1 92.3h0M463.3 105.5h0M448.6 87.3h0M471.7 111.9h0M404.3 94.2h0M456.5 68.7h0"/>
<path stroke="#F8766D" d="M459.8 30.1h0M447.5 64.2h0M433.5 46.8h0M411.1 28.7h0M471.7 38.5h0M455.6 45.9h0M438.6 90.4h0M465.9 48.9h0M402.4 23.9h0M444.6 49.6h0M390.5 77.5h0M401.2 79.6h0M390.8 73.1h0M428.9 64h0M441.5 101h0M405.6 23.1h0M399.2 26.5h0M463.7 47.8h0M476.1 63.5h0M460.4 32.8h0M402.1 26.4h0M390.6 77.6h0M440.9 49.7h0M455.8 44.8h0M460.2 34.5h0M398 74h0M405 22.6h0M455.4 44.7h0M445.1 44.1h0M407.8 77.1h0M465.8 123.5h0M424.1 63.6h0M453.7 62h0M481.7 85h0M396 76.6h0M407.4 70.5h0M402.6 24.9h0M464.8 61.4h0M478.6 48h0M437.9 91.1h0M402.2 24.2h0M457.8 87.1h0M466.7 32h0M396.8 78.9h0M485.8 59.2h0M472 52.5h0M398.5 76.4h0M453.2 61.9h0M469.8 99.6h0M472.7 39.9h0M461.7 50.9h0M481.3 67h0M456.6 48.9h0M444.7 41.1h0M433.7 49.5h0M475.5 50.5h0M478.5 54.9h0M470.1 41.2h0M462.6 42.8h0M444.1 44h0M479.1 71.1h0M470.2 47.8h0M456.9 31.8h0M401.2 24.2h0M471.8 67.6h0M445.6 37.1h0M427.2 62.1h0M429.4 60.8h0M464 81.5h0M448.2 84.9h0M471.4 78.8h0M461.5 47.5h0"/>
<path stroke="#619CFF" d="M464.2 111.9h0M433.6 90.9h0M459.4 109h0M442.2 57.8h0M414.3 92.3h0M401.9 87.4h0M393.2 90.8h0M473 116h0M486.1 84.8h0M445 80.9h0M427.5 92.2h0M454.4 116.3h0M447.2 93.3h0M455.8 88.4h0M484.2 84.1h0M434.2 95.9h0M469.2 76.8h0M469 123.5h0M466.1 84.1h0M473.6 107.6h0M453.6 113.6h0M486 63.2h0M484 79.2h0M442.6 86.9h0M481.7 90.3h0M452.2 122.3h0M450.9 121.8h0M422.2 95.2h0M421.6 93h0M484.7 88.6h0M394.8 85.2h0M439 87.7h0M460.4 115.1h0M457.4 68.9h0M464.7 88h0M467.7 117.7h0M470.4 46.8h0M484 82.5h0M393.1 87.7h0M477.4 85.4h0M460.5 111.7h0M448.9 84.4h0M468.1 82.3h0M455.7 63.3h0M396 86.4h0M468.5 98.6h0M440 85h0M393.9 74h0M391.3 85.8h0M444.4 84.7h0M466.6 83.5h0M476.1 115.3h0M473.2 79.5h0"/>
<path stroke="#B79F00" d="M460.3 46.2h0M457.9 91.2h0M434.6 56h0M447 46.3h0M462 67.4h0M439.8 46.6h0M464.5 66.3h0M460.3 67.7h0M458 39h0M449.4 43.2h0M418.4 63.1h0M456.6 67.8h0M425.5 59.2h0M436.1 53.3h0M465.2 44.5h0M450.2 62.8h0M484.9 66h0M453.7 40.6h0M413.3 68.5h0M428.6 63.7h0M480.5 54.8h0M459.7 38.7h0M441.8 88h0M463.3 30.8h0M457.8 34.3h0M423 62h0M465.5 36.5h0M427.2 64.1h0M445 64.1h0M449.1 43h0M390 79.1h0M451.1 31.6h0M486.9 53.8h0M473.2 62.9h0M434.7 63.2h0M441.8 55.3h0M440.5 56.6h0M435.5 90.3h0M434.5 52.3h0M423.4 61.9h0M437.6 52h0M451.9 40.5h0M467.1 95.3h0M451.4 67.6h0M447.3 43h0M427.4 58.6h0M446.9 41.2h0M422.6 65.8h0M406.5 73.2h0M444 58.9h0M421.7 91.4h0M456.5 45h0M402.5 23.5h0M447.6 59.9h0M426.8 79.9h0M473.7 51.4h0M450.9 36.7h0M453.7 36.8h0"/>
<path stroke="#00BA38" d="M446 64.7h0M427.5 59.5h0M453.9 42.9h0M448 67.1h0M425.3 63.9h0M430.8 58.9h0M425.6 64.7h0M459.9 62h0M478.1 54.8h0M460 59.5h0M463.4 38.3h0M453.3 61.7h0M394.2 78.4h0M478.9 64.3h0M389.4 77.9h0M485.1 79.1h0M457 68.4h0M445.4 83.2h0M478.5 76.7h0M468.3 67.5h0M461.8 30.4h0M452.5 43.7h0M451 63.9h0M471 42.6h0M483.3 78.6h0M463.3 88.1h0M465.2 38.3h0M485.2 67.1h0M425 72h0M450.8 41.9h0M432 54.3h0M429.5 77.2h0M456 91.7h0M468.2 66.6h0M467 65.7h0M471.6 51.7h0M428.7 59.8h0M451.4 89.9h0M432.7 42.7h0M441.6 56.8h0M452.1 68.1h0M406.6 73.5h0M461 62.1h0M455.9 49.5h0M422 68h0M453.3 37.6h0M450.5 85.8h0M424.5 61h0M448.2 47.9h0M428.8 57.8h0M467.7 42.7h0M424.5 56.1h0M440.4 96.6h0M475 50.4h0M479.4 67.5h0M404.8 79.6h0M484.4 63.8h0M427.8 59.7h0"/>
<path stroke="#F564E3" d="M470.1 116.6h0M409 88.2h0M455.9 122.6h0M443.9 82.1h0M395.5 81.6h0M392.3 88.4h0M454.2 70.7h0M426.4 41.8h0M452.7 120.6h0M463.4 93.7h0M427.1 63.5h0M469.3 45.5h0M441.8 84.9h0M389.8 89.6h0M454.4 84.8h0M484.8 91.1h0M463.6 114.7h0M482.8 87.7h0M439.4 55.9h0M424.5 94.5h0M478 86.9h0M466 118.3h0M482.5 87.3h0M467.8 118.3h0M460.9 110.6h0M409.8 84.1h0M464.1 33h0M466.4 109.1h0M488.5 88.2h0M456.9 112.8h0M482.1 88.5h0M458.8 60.5h0M463 107.2h0M450.8 59.6h0M448.3 86.6h0M484.2 84h0M464.6 85.4h0M412.3 89.1h0"/>
<path stroke="#00BA38" d="M464.4 47.2h0M465.6 35h0M403 74.2h0M455 42.3h0M482.8 67.9h0M411.4 72.9h0M463.4 38.4h0M446.1 66.2h0M449.3 40.4h0M484.7 92h0M487.3 64.5h0M461.9 70.8h0M470.3 46.1h0M399.8 76.2h0M452.6 39.8h0M459.4 30.4h0M479.5 53.3h0M448.1 63.5h0M459.6 67.9h0M483.7 55.7h0M463.4 45.5h0M454.8 44.7h0M455.4 69.7h0M451.7 93h0M454.4 33.9h0M478.7 106.2h0M454.1 66.9h0M479.8 91h0M415.1 68.5h0M459.9 43.3h0M397.7 79.5h0M461 71.7h0M429.7 70.9h0M484.9 69.1h0M473.1 49.1h0M458.3 45.8h0M452.5 38.5h0M448 38.9h0M468.3 45.1h0M477.5 46.2h0M458.2 31.3h0M481.8 71.7h0M482.4 59.6h0M473.2 105.8h0M425.4 70.7h0M484.2 90h0M461.5 28.3h0M461 38.4h0M448.9 49.6h0M445.9 61.8h0M467.5 68.9h0M455.4 63.5h0M392.1 89.3h0M475.1 42.4h0M454.4 63.1h0M482.9 87.5h0M481.4 56.4h0M474.5 64.1h0M467.9 46.8h0M438 59.1h0"/>
<path stroke="#F8766D" d="M482.7 77.2h0M486.3 85.6h0M466.2 41.7h0M462.5 42.9h0M403.5 22.8h0M472.9 50.1h0M485.3 90.4h0M489.3 88.2h0M461.9 40.4h0M402.2 22.3h0M431.7 39.4h0M401.5 23.8h0M426.1 94.4h0M448.7 43.4h0M416 30.2h0M446.2 89.3h0M435.3 52.6h0M481.2 58.9h0M473.3 62.4h0M471.7 39h0M471.5 40.3h0M447.1 68.6h0M484.2 59.2h0M429.2 63h0M458.7 38.2h0M443.9 37.6h0M478.8 52.8h0M402 24.3h0M475.1 67.9h0M477.3 69.7h0M409.8 72.2h0M402.3 77.5h0M473.3 38.1h0M449.8 61.9h0M464.6 80.1h0M443.6 64.9h0M458.7 47.3h0M422.4 60.4h0M401 26.9h0M399.5 25.6h0M403.8 78.7h0M415.1 30.1h0M485.7 67.7h0M402.6 22.6h0M488.2 71.4h0M401.5 26.8h0M408.2 27.2h0M404.4 75.1h0M468.1 39.8h0M418.9 61.1h0M444 44h0M457.3 38.8h0M428.3 68.2h0"/>
<path stroke="#619CFF" d="M388.4 83.3h0M472.3 83h0M462.1 119.5h0M393.7 82.7h0M460.9 110.2h0M467.4 114h0M408.2 86.8h0M467 85.8h0M412.5 89.8h0M396.9 89.9h0M438.6 91.4h0M455.8 63.8h0M426.1 57h0M445.7 80.4h0M474 101.4h0M432.6 38.5h0M486.2 95.1h0M478.3 91.5h0M470.5 118.6h0M399.1 78.7h0M480.7 87.6h0M454.8 84.4h0M428.5 90.8h0M457.1 47.6h0M424.8 93h0M460.6 109.1h0M471.2 111.8h0M483.1 56.3h0M396.1 88h0M464 109.8h0M454.7 123.5h0M469.6 117.1h0M475.4 117.4h0M466.9 90.2h0M451 117.4h0M433 96.2h0M465.9 102.1h0M465.9 122.9h0M465.7 61.9h0M453 117.2h0M446.1 81.6h0M462.4 119.9h0M446.1 62.6h0M408.9 85.8h0M443.5 94.7h0M470.4 103.6h0M449.1 82.1h0M458.5 111.4h0M467 91.9h0M465.6 78.7h0M463.6 110.6h0M390 89.4h0M397 87.2h0M453.9 84h0M467.4 119h0M454.2 92.5h0M412.5 92.8h0"/>
<path stroke="#B79F00" d="M486.5 73.2h0M428.6 44.9h0M415.4 71.3h0M450.4 44h0M402.8 77.1h0M473.7 60.8h0M476.6 45.9h0M456.5 47.1h0M471.5 42.6h0M396.9 75.8h0M460.2 120.4h0M436.2 61.5h0M444.5 48.1h0M427.9 41.5h0M459.2 61.5h0M449 36.8h0M447.7 37.3h0M457.3 39.9h0M451.3 60.1h0M434.5 87.7h0M480.6 56.3h0M451 113.4h0M424.3 69.3h0M465.2 67.1h0M438.5 48.2h0M390.5 80.1h0M465.4 62.6h0M471.8 41.1h0M459.2 67.7h0M425.6 64.3h0M403.1 79.4h0M418.2 67.6h0M460.3 65.4h0M454.5 49.6h0M457.7 42.1h0M468.4 120.9h0M454 66.9h0M410.6 77.5h0M399.8 24.5h0M393.3 79h0M391.6 73.1h0M446.4 66.3h0M420.5 95.5h0M421 62.1h0M466.9 66.6h0M485.1 66.8h0M483.6 69.9h0M426.1 91.8h0M453.2 69h0M448 66.2h0M476.3 45.5h0M444.3 60.8h0M462.2 40.4h0M472.4 36.2h0M477.1 72.6h0M481.9 56.4h0M440.9 64.5h0M465.8 47.6h0M459.5 70.6h0M460.6 61.5h0M454.7 59.8h0M461.9 41.5h0M446.7 91.3h0M454.3 41.4h0M451.5 78.8h0M461.9 41.2h0M451.7 44.4h0M427.8 61h0M474.6 48.1h0M477.9 82.5h0M475.5 68.5h0M445.3 39.6h0M414.3 71.2h0M469.6 67.2h0M408.9 72.9h0M443.4 39.5h0M454.9 42.7h0M456.6 39.8h0"/>
<path stroke="#00BFC4" d="M476.4 101.5h0M479.7 86.2h0M438.4 95.9h0M455 124.8h0M447.3 66.5h0M395.5 87.5h0M423.5 99.2h0M417.9 67.6h0M425.8 94h0M450.5 93h0M474 85.1h0M448 38.1h0M446.9 83.2h0M455 81.3h0M479.9 102.8h0M463.4 124.6h0M429.4 91.6h0M415.6 91.7h0M475.5 59.9h0M475.8 88.9h0M454.7 110h0M485.5 87.9h0M404.4 88.3h0M451.4 118.1h0M473.6 118.2h0M472.8 78.8h0M398.9 89.2h0M471.2 115.7h0M390.2 86.3h0M486.1 63.5h0M463.8 113.6h0M403.6 85h0M413.5 88.5h0M447.4 89.1h0M485.4 58.5h0M456.6 91.2h0M444 61.3h0M478 115.7h0M449.7 61.7h0M456.4 111.2h0M452.2 63.7h0M477.3 84.3h0M404.6 90.8h0M445.9 85.3h0M410.7 89.6h0M485 87h0M456.2 90.3h0M467.7 104.8h0M459 118.6h0M461.1 110.5h0M391.2 90h0M467.7 115.9h0M470.9 100.1h0M439.7 45h0M461.6 38.6h0M487.7 83.1h0M467.4 60.9h0"/>
<path stroke="#00BA38" d="M466.8 36.4h0M456.9 61.5h0M445.6 47.6h0M393.4 74h0M435.5 89.8h0M441 44.9h0M411.1 76.2h0M482.4 76.5h0M425 71.9h0M458 38.9h0M414.6 69.7h0M486.4 62.8h0M448.9 47.2h0M424.3 66.6h0M448.3 45.1h0M422.3 64.8h0M466.4 43.6h0M491.2 75.2h0M428.7 50.4h0M437.3 85.7h0M470 38.1h0M473.7 53.8h0M454.7 32.4h0M428.6 57.7h0M403 74.7h0M484.6 72.3h0M444.5 67.4h0M453.8 35.1h0M484.2 52.9h0M474.6 62.2h0M440.6 59.9h0M451.7 63.2h0M469.7 41.5h0M466.4 34.9h0M470.9 37.3h0M488.1 59.4h0M418.4 70.9h0M421.4 65.2h0M405 79.5h0M393.9 75.7h0M405.6 75.1h0M485.5 60.6h0M479.6 50.3h0M480 59.8h0M488.6 50.9h0M445.2 38.9h0M477.4 57.1h0M453.3 89.8h0M419 68.9h0M466.3 41.7h0M430 76.4h0M427.3 41.8h0M476.6 62.5h0M436.6 53.6h0M476.5 66.5h0M452.9 37.1h0M452.8 91.1h0M428.1 66.3h0M428.7 86.7h0M428.7 47.4h0M485.7 59.5h0M439 82.4h0M393.1 76.3h0M421.2 58.1h0M470 50.4h0M462.9 46.2h0M455.9 62.6h0"/>
<path stroke="#F564E3" d="M462.7 115.1h0M455.7 125.6h0M473.8 53h0M388.8 88.4h0M483.8 77.6h0M472.2 102.3h0M469.1 101.7h0M479.6 114h0M441.1 86.4h0M467.6 79.2h0M459.1 67.5h0M475.2 101.4h0M465.9 111.1h0M448.7 37.8h0M450.9 82.1h0M463.5 110.5h0M462.6 120.3h0M466.8 103.5h0M409.5 87.1h0M401.4 88h0M394.4 86.2h0M426.3 66.1h0M438.5 56.3h0M449.4 66.3h0M473.1 63.2h0M433.3 92.4h0M402.4 88.4h0M481.9 60.4h0M466.5 42.1h0M429.5 64.1h0M445.3 84.2h0M469.5 123.6h0M425.5 95.3h0M474.5 112.9h0M391.6 93.4h0M468.8 101h0M481.4 55.1h0M421.2 92.9h0M484.7 87.5h0M487.5 62.7h0M446.6 88.1h0M459.6 117.1h0M440.1 90.8h0"/>
<path stroke="#F8766D" d="M411.4 29.3h0M451.5 32h0M412 69.2h0M451.1 63.7h0M422.4 66.1h0M449.9 64.3h0M458.6 88.5h0M480.1 53.6h0M460.4 28.3h0M402.9 27.1h0M404.8 69.9h0M482.2 64.3h0M446.3 38.3h0M465.7 42h0M448.2 49.4h0M454.2 38.2h0M469 57.3h0M465.2 81.6h0M453.7 50.2h0M456.9 47.1h0M481.6 62.2h0M468.4 35.8h0M411.2 28h0M489.8 53.6h0M404.3 24.9h0M403 23.3h0M404.4 80h0M472.2 50.2h0M481.4 70.9h0M443.9 63.5h0M400.7 26.8h0M429 46.5h0M466 32h0M442.3 90.9h0M472.9 63.3h0M440.3 41.7h0M457.8 44.7h0M393.6 73h0M464.8 42.1h0M414.3 30.8h0M454 38.1h0M449.3 37.8h0M405.3 25.4h0M480.4 68h0M458.9 38.7h0M479.6 53h0M440.5 60.9h0M414.2 75.6h0M441.7 51h0M455.8 64.8h0M390.7 76.4h0M446.1 46h0M489.3 59.8h0M404.6 74.5h0M460.7 33.9h0M463.5 36.6h0M447.9 34.7h0M468.1 60.6h0M453 40.8h0M446 40.4h0M433.8 86.3h0M487.8 88.4h0M479.8 92.3h0M467.6 39.8h0M435.2 93.1h0M480.9 67.2h0M420.3 61.9h0M457.1 65.4h0M444.5 50.6h0M474.7 58.6h0M484.2 89.9h0"/>
<path stroke="#00BFC4" d="M431.4 85.6h0M469.3 120.1h0M452.8 114.7h0M469.3 108.4h0M392 85.1h0M458.6 127.2h0M429.8 95.7h0M459.6 126.6h0M417.7 85.8h0M442.9 99.3h0M464.7 120.6h0M413 89.2h0M412.8 83.7h0M442.1 91.5h0M403.6 79.5h0M468.3 87.4h0M483.5 79h0M470 82.9h0M458.7 118.7h0M393.1 85.7h0M412.3 90.5h0M464.9 119h0M394.2 94h0M408.6 71h0M391.3 91.1h0M408.1 86.2h0M391.7 84.8h0M483.6 87.5h0M453.6 87.9h0M468.4 88.1h0M466.1 116.1h0M409.4 82.7h0M399.4 88.5h0M458.8 115.7h0M458.2 83.8h0M483.9 92.5h0M475.2 107.8h0M466.7 102.9h0M456.3 118.1h0M477.9 81.6h0M448.2 89.3h0M459.5 68h0M469.6 88.4h0M431.9 86.2h0M469.8 90.6h0M464.2 93.1h0M466.3 116.2h0M488 83.1h0M472 113.8h0M464.1 92.5h0M415.5 82h0"/>
<path stroke="#B79F00" d="M393.4 78.9h0M448.1 66.4h0M433.2 63.1h0M412.3 70.6h0M463.8 51.3h0M388.4 78.6h0M402 80h0M446.6 64.8h0M451.1 40.8h0M402.5 82.9h0M487.1 83.8h0M449.6 40.4h0M394.1 85.9h0M428.2 90.4h0M419.4 78.7h0M398.7 77.9h0M440.8 49.6h0M422.8 65.2h0M435.4 91h0M447.8 36.2h0M399 77.5h0M458.8 44.5h0M434.4 47.2h0M459.1 46.2h0M442.8 57.3h0M473 47h0M475.4 45.5h0M480.8 48.8h0M467.3 86.4h0M425.2 85.9h0M459.7 62h0M467.7 69.2h0M454.4 42.1h0M456.2 69h0M455.8 29h0M465.1 33.9h0M460.8 47.2h0M456.7 89.6h0M457.9 40.2h0M467.3 63.4h0M430.9 44.5h0M476.6 72.7h0M461.1 71.1h0M473.7 46.2h0M453.7 69.7h0M481.1 89.2h0M431.5 41.7h0M470 84.6h0M430.4 40.3h0M395.4 73.7h0M458.5 36.1h0M420.2 64.9h0M462.9 42.2h0M482.3 51.4h0M435.9 57h0M419.2 65.2h0M483.5 51.1h0M482.1 70.1h0"/>
<path stroke="#619CFF" d="M423.9 97h0M460 107.7h0M390.8 84.1h0M486.7 87.1h0M466 85.2h0M435.3 83.5h0M464.1 87.3h0M484.9 91h0M456.8 126.6h0M451.6 85h0M390.2 79.2h0M402.2 84.9h0M462.4 86.3h0M413.6 87.3h0M458.7 126.9h0M471.7 108.5h0M464.2 93h0M464.8 120.8h0M474.8 105h0M439.2 95.3h0M456.6 120.4h0M463.9 105.3h0M458.1 84.3h0M423.4 93.8h0M463.4 112.4h0M475.6 111.7h0M426.2 86.2h0M442.4 94.1h0M442.2 59.4h0M486.1 89.7h0M450.5 84.5h0M452.2 89.7h0M411.3 71.3h0M392 87.8h0M463.4 42.7h0M464.9 95.2h0M396.9 77.5h0M467.2 95h0M460.1 118.6h0M395.9 91.8h0M411.4 92h0M455.7 82.7h0M467.7 102.6h0M462.2 121.1h0M469.1 109.2h0M396.6 86.9h0M473.8 64.3h0M440.2 83.3h0M396.7 89.8h0M407.9 94.6h0M414.8 85.8h0M422.6 90.9h0M445.6 65.5h0"/>
<path stroke="#00BFC4" d="M454.3 117.3h0M424.6 91.6h0M436.3 93.5h0M460.4 114.9h0M438.2 87.5h0M441.4 102.2h0M439.5 98.5h0M473.5 106.9h0M393.7 94.5h0M446.7 84.5h0M459.1 112.1h0M468.4 102.4h0M437.9 85.8h0M488.2 85.4h0M427 87.8h0M438 85.8h0M448.3 81.9h0M448.6 118.7h0M399.1 85.9h0M463.2 115.3h0M468.9 113.4h0M478.7 93.4h0M485.3 92h0M457.3 126.4h0M474.2 112.7h0M486 84.3h0M468.7 118.9h0M404.5 93.2h0M412.9 86.9h0M440.3 102.2h0M440 83h0M440.4 92.1h0M435.8 46.8h0M457.5 68.1h0M468.9 101.4h0M429.4 65.6h0M465.3 110.9h0M413.2 89.8h0M487.9 87.4h0M470.3 102.9h0M453.1 85.7h0M459.7 119.2h0M394.9 87.2h0M396.5 88.1h0M468.8 76.1h0M465.8 114.2h0M460.2 115.1h0M391.4 89.4h0M466 83h0M413.4 90h0M464.4 109.2h0M422.6 91.6h0M443.3 91.5h0M454.7 89.4h0"/>
<path stroke="#F8766D" d="M435.5 56.5h0M439.6 53.4h0M460.8 47.4h0M461.8 38.7h0M414.4 31.3h0M453.6 83.8h0M475.6 63.6h0M472.9 53.7h0M413.3 31h0M400.6 24.3h0M414.3 30.4h0M449.7 63.5h0M402.5 24.2h0M468.4 64.9h0M452.2 86.2h0M472 80.2h0M457.5 50h0M447.5 63.2h0M445.6 48.5h0M389 77.6h0M426.7 67h0M443.6 40.5h0M390.8 74.9h0M470.6 70.5h0M429.9 66.9h0M399.7 24.3h0M440.2 99.7h0M464.8 34.1h0M406.8 26.6h0M395 76h0M455.3 71.8h0M400.8 23.7h0M404.6 22.9h0M412.6 67.1h0M406.8 92.1h0M477.6 48.7h0M484.2 69.9h0M479.9 74.8h0M454 38.9h0M486.7 91.4h0M458.8 37.9h0M447.8 46.2h0M419.5 72.2h0M452 88.2h0M453.2 67.4h0M474.3 59.5h0M488.5 71.2h0M485.8 68.1h0M458.7 66.9h0M449.8 62.4h0M444.7 68.6h0M449.8 43.8h0M466 48.2h0M487.1 69.3h0M429 45.4h0M426.6 58.8h0M467 45.3h0"/>
<path stroke="#00BA38" d="M480.5 64h0M463.1 49.2h0M478.3 68.2h0M449.3 49.2h0M464.3 37.7h0M448.9 37.8h0M444.3 65.4h0M428.2 60.6h0M487.1 63h0M438.2 58.9h0M403.6 75.8h0M465.3 40.8h0M462.9 30.3h0M457 68h0M474.5 50.6h0M428.3 45.6h0M399.5 75.1h0M468.3 47.4h0M459.4 36.2h0M399.3 75.5h0M448.8 65.9h0M393.6 76.9h0M403.6 76.6h0M482.7 55.9h0M462.9 37.6h0M471 40.9h0M462.8 50.8h0M468.7 80.7h0M482.3 96.4h0M422.2 61.7h0M454.6 44.4h0M472 100h0M443.6 54h0M485.3 62.7h0M394.1 77.8h0M470.4 43.7h0M459.1 45.2h0M479.9 71.2h0M450.4 42.5h0M470 38.7h0M466.7 65h0M400.3 80.3h0M446.6 66.3h0M479.8 64.2h0M421.1 67.6h0M456.7 29h0M450.4 45.6h0M416.7 78.6h0M435 50.3h0M459.4 63h0M451.7 62.2h0M453.9 49.6h0M423.2 62.5h0M481.5 87.1h0M460.6 39.4h0M466.5 116h0M411.5 74.6h0M479.4 72.9h0"/>
<path stroke="#B79F00" d="M481.7 50.9h0M394.6 77h0M413.9 76.3h0M450.7 34h0M397.7 76.2h0M456 34.7h0M455.8 61.6h0M451.2 65.1h0M429.7 42.7h0M466 42.5h0M448 45.5h0M451.2 39.1h0M393.5 76.5h0M448.3 69.4h0M440.9 103.3h0M460.9 41.3h0M461.7 48.7h0M474.8 43.6h0M476.9 71.6h0M413.1 64.3h0M457 47.8h0M471.5 51h0M468.5 43.8h0M407 80.6h0M465 46.8h0M449.7 37.6h0M413.7 69.9h0M390.6 79.9h0M479.7 50h0M442.7 95.5h0M467.6 33.9h0M390.2 76.3h0M441.5 56.7h0M444 44.7h0M420.5 65h0M450.7 48.3h0M477.9 54h0M439.6 55.5h0M484.8 87.4h0M447.7 59.8h0M476.5 62.9h0M479.2 67.9h0M400.6 24.2h0M430.1 87.3h0M480.5 54.4h0M430.2 96h0M419.9 69h0M468.9 77.7h0M454.7 39.9h0M476.6 58h0M486.8 60.6h0M482.6 63.9h0M476.4 62.9h0M420.8 63.1h0M426.3 94.6h0M412.9 71.5h0M406.4 72.1h0M446 49.4h0M430.5 46.1h0M389.6 76.2h0M483.5 88.5h0M474.6 75h0M451.9 61.4h0"/>
<path stroke="#F564E3" d="M456.9 111.7h0M400.3 89.2h0M450.8 89.7h0M408.3 67.8h0M399.8 79.9h0M467 113.5h0M459.9 127.1h0M396.6 86.4h0M479 83.4h0M448.9 68.1h0M457 114.1h0M453.8 88.2h0M477.1 91.3h0M455.3 113.4h0M470.1 113h0M423.1 63.5h0M469.8 120.3h0M414.5 92.7h0M395 89.9h0M409.6 88.9h0M397.6 79.2h0M472.9 101.1h0M479 81.8h0M469.2 82.6h0M466.7 47.5h0M489.4 85.8h0M459.4 64.5h0M429.2 94.9h0M397.7 85.4h0M465.5 116.6h0M473.5 114.6h0M464.6 65.9h0M466.6 78.9h0M409.7 85.7h0M407 91.6h0M394.9 88.4h0M469.3 120.8h0M427.8 58.8h0M438.4 89.9h0M411.5 96h0M404.9 93h0M472.9 83.5h0M473.3 118.7h0M388.8 89.5h0M461 68.4h0M472.7 98.2h0M484 78.2h0M450.8 85.2h0M456.5 121.8h0M438.9 97.7h0M475.8 107.5h0M454.2 43.1h0M441.7 84.8h0M487.9 83.6h0M462.7 110h0M450.6 83h0M453.2 82.8h0M481.4 86.9h0M449.8 84.1h0M412.3 88.8h0M444.8 98.3h0M459.7 110.6h0M485.5 85.6h0M436.8 95h0M474 80.3h0M451.7 121.4h0"/>
<path stroke="#619CFF" d="M407.8 92.7h0M455.9 85.8h0M413.3 87.4h0M426.3 92.6h0M467.4 106.1h0M467.9 82.5h0M395.7 86.1h0M430.9 42.4h0M467.7 109.1h0M467.8 79.1h0M464.4 93.7h0M427.9 89h0M439.1 88.9h0M454.1 124.6h0M481.6 57.4h0M466.9 117.9h0M477.9 116.2h0M458.9 124.2h0M458.6 111.6h0M441.2 87.4h0M401.1 85.2h0M478.9 102.7h0M471.7 82.7h0M438 90.3h0M452.7 126.5h0M394.6 88.6h0M451.6 80.9h0M423.8 65h0M458.8 113.4h0M483.3 77.4h0M450.5 91h0M457.3 113.1h0M402.3 89.2h0M405.4 90.5h0M450 65.9h0M461.5 105.7h0M414.4 83.1h0M468.7 82.6h0M451.3 63.1h0M392.3 87.8h0M422.4 90.4h0M427.6 91.1h0M476.3 104.2h0M483.8 62.6h0M438.5 80.5h0"/>
<path stroke="#B79F00" d="M473.9 38.3h0M447.6 42.1h0M430 57.5h0M404.1 78.9h0M461.7 47.3h0M459.2 42.3h0M488.7 82.8h0M471.3 43.1h0M454.5 39.5h0M480.2 71.6h0M407.8 70h0M463.4 40.2h0M431.6 65.1h0M395.6 75.1h0M449.9 60.9h0M436.8 53.1h0M449.4 50.2h0M473.5 54.6h0M403 25.1h0M469.5 68.1h0M483.8 82.3h0M420.9 57.7h0M462.2 43.4h0M450.3 47.8h0M454.5 42.4h0M445.9 33.1h0M413.9 68.6h0M473.3 47h0M428.9 66.8h0M463.4 62h0M478.5 76.5h0M415.9 70.1h0M409.2 78.1h0M421.8 57.5h0M448 63.7h0M473 66h0M421.6 65.1h0M433 66.8h0M485.8 53.8h0M438.7 40.1h0M426.3 74.7h0M445.9 43.4h0M466.9 49h0M450 39.7h0M478.1 47.1h0M479.1 57.6h0M454.6 40.4h0M458.5 37.5h0M463.1 39h0M426.1 65.4h0M398.9 77h0M421.7 63.4h0M452.3 35.5h0M458.6 45.7h0M439.7 88.5h0M462.8 44.4h0M458.3 88.2h0M453.2 58.1h0M413.2 66.9h0M412.4 75h0M451.1 70.1h0M406 71.4h0M471.5 34.8h0M429.7 59.1h0M457.6 61.5h0M427.5 86.1h0M427.5 56.7h0M444 52.2h0"/>
<path stroke="#00BA38" d="M409.4 79.2h0M469.4 62.7h0M417.8 74.4h0M433.2 69.6h0M451.2 90.5h0M450.6 71.2h0M479.6 59.2h0M439 41.9h0M468.8 44.6h0M465.9 40.2h0M442.4 41h0M467.4 67.5h0M453.6 34.2h0M412.1 65.6h0M436.1 57.5h0M473.9 45.1h0M461.6 35.1h0M414.2 76.6h0M461.6 47.4h0M402.1 71.5h0M420.7 92.5h0M448.9 44.4h0M479.1 61.9h0M449.4 65.1h0M476.2 37.8h0M447.5 43.8h0M450.1 40.2h0M437.9 95.6h0M433.2 50.6h0M456.4 91.2h0M446.6 69.6h0M435.6 96.7h0M455.5 66.2h0M484.3 65.9h0M426.1 63.4h0M452 77.5h0M435.6 50.6h0M408.1 70.3h0M473.9 64.3h0M431 64.7h0M435.7 94h0M403.7 76.7h0M459.1 61.6h0M415.1 72.6h0M472.5 42h0M466.2 35.8h0M450.7 65.1h0M413.3 76.2h0M420.1 65.6h0M481.9 92.5h0M482.2 56.7h0M481.2 51.6h0M417.9 69.5h0M393.7 76.8h0M388.4 78.3h0M402.9 76.9h0M448.5 50.2h0"/>
<path stroke="#00BFC4" d="M402.8 91.3h0M468.9 77.4h0M396.7 81.9h0M465.3 44.3h0M466.2 81.4h0M461.2 64.5h0M451.1 122.7h0M411.8 70.8h0M465.1 94.2h0M483.6 60.3h0M478.2 54.7h0M461.7 68.3h0M409.8 88h0M404.2 87.5h0M475.7 108.3h0M469 77.4h0M467.4 117.9h0M459.8 114.4h0M392.2 89h0M445.4 92.7h0M450 126.7h0M431.4 41.9h0M392.3 89.6h0M485.7 58.7h0M407.8 88.3h0M428.2 96.4h0M458.1 111.3h0M442.5 90.7h0M390.1 77.8h0M402.4 90.4h0M479.6 102.8h0M474.7 111.2h0M450.7 83.8h0M476.7 104.7h0M393.4 86h0M479.6 98.5h0M476.1 112.8h0M412 87.4h0M394.3 88.3h0M453.2 62.4h0M391.6 78.2h0M471.4 117.5h0M453.4 62.1h0M457.4 82.3h0M467 112.7h0M402.4 88.4h0M458.5 113.8h0M471.5 101.6h0M468.2 104.5h0M467.9 122h0M416.6 80.7h0M451.6 85.8h0M434.6 82.8h0M453.4 85.5h0M479.9 109h0M407.7 89h0M433.2 40.9h0"/>
<path stroke="#F8766D" d="M464.1 63.7h0M450.2 92.3h0M478.1 67.2h0M470.6 68h0M476.9 51.6h0M476.9 48.2h0M449.6 50h0M463.4 68.4h0M404.9 23.6h0M425.1 62.8h0M475.5 61.5h0M490.5 68.1h0M462.5 41.2h0M471.1 89.6h0M400.9 27.1h0M405 68.6h0M447.3 40.5h0M437 51.1h0M472.6 38.5h0M420 91.5h0M451.2 64.6h0M440.4 46.1h0M444.7 67.1h0M414.6 31.8h0M449.7 38.1h0M410.6 27.8h0M476.7 45h0M443.9 65.9h0M451.9 38.2h0M432.3 47h0M450.7 90.8h0M460.5 48h0M464.5 43.8h0M431.8 47.9h0M428.9 46.7h0M457.6 47h0M440.2 91h0M433.2 89.9h0M431.6 60h0M407.1 25h0M419.2 72.7h0M486.3 92.8h0M413.3 69.7h0M443.4 67h0M457.9 61.7h0M451.8 62.5h0M423 63.6h0M424.9 63.4h0M459 40.2h0M391.4 83.3h0M442.1 87.8h0M426.6 59.5h0M455.2 39.7h0M451 64.9h0M403.8 24.6h0M436.5 98.5h0M474.7 108.5h0M477.4 96.2h0M450.9 43.5h0M390.4 85.8h0"/>
<path stroke="#F564E3" d="M450.7 57.5h0M464.1 120.1h0M469.3 115.2h0M466.6 105.9h0M459.6 119.9h0M465.1 111.7h0M457.6 84.9h0M451.3 36.6h0M466.7 122.5h0M437.4 103.9h0M418.4 88h0M450 61.7h0M458.5 117h0M447.4 87h0M480.1 92.7h0M451.2 124.3h0M467.3 88.4h0M398.6 92.3h0M390.9 90.8h0M449.3 79h0M456 65.2h0M472 40.5h0M486.4 88h0M477.8 103.5h0M407.7 84.3h0M482.1 86.9h0M479.6 111.6h0M465.3 89.7h0M484.9 69h0M450.6 67.9h0M484 92.1h0M479 80.4h0M429.7 90.4h0M422.8 93.5h0M435.7 86.3h0M476.2 110.6h0M465.6 105.9h0M450.1 86.9h0M460.4 109.3h0M393.6 73.7h0M438.7 93.4h0M478.1 116h0M471.2 61.4h0"/>
<path stroke="#619CFF" d="M410.8 82.5h0M473.5 103.4h0M480.1 78.9h0M393.7 93.7h0M466.7 112.7h0M486.6 91.3h0M437.4 55.1h0M479.4 109.3h0M459.3 112.2h0M395.4 78h0M463.5 124.4h0M410.1 70.9h0M415.2 92h0M435.9 86.2h0M418.9 88.4h0M409.3 94.1h0M468.9 80h0M457.8 37.3h0M451.7 89.6h0M448.1 85.1h0M480.6 69h0M468.1 82.2h0M472 117.3h0M461.5 91h0M471.9 63.2h0M467.6 69h0M411 89.9h0M412.9 87.7h0M464.4 46.4h0M426.4 60.7h0M465.3 117.3h0M451 112.3h0M450.3 88.7h0M414 85.6h0M466.3 90.1h0M468.4 92.4h0M459.9 67.7h0M472 113.3h0M460.6 118.3h0M462.6 117.6h0M474.6 99h0M456.2 117.5h0M455.7 66h0M408.8 88.1h0M461.5 103.9h0M413.6 91.4h0M444.3 100.2h0M456.5 126.4h0M426 91.7h0M480.9 112.8h0M465.8 91h0M472.9 107.1h0M452.2 122.3h0M454.7 115.4h0M396 76.9h0M481.2 87.3h0M468.5 112.8h0M413.9 91.6h0"/>
<path stroke="#619CFF" d="M455 65.9h0M473.6 81.5h0M487.1 93.6h0M456.9 110.6h0M460.9 65.6h0M476.8 110.6h0M440 57.6h0M438.2 91.4h0M452.8 124.5h0M472.6 115.8h0M434.5 91.5h0M447 36.7h0M471.4 84.4h0M393.5 87.9h0M393.8 88.2h0M417.8 87h0M479 50h0M485.2 59.7h0M478.7 57.3h0M443.8 65.2h0M478.7 88.7h0M450.8 65.9h0M471.6 66.2h0M478.7 85.2h0M403.3 23h0M465.9 106.3h0M457.8 64.9h0M481.8 96.7h0M474.1 79.7h0M463.9 85.6h0M458.6 70.2h0M468.1 50.4h0M475 113.2h0M402.1 95.3h0M456.8 64.8h0M464.1 91.7h0M458.5 44.7h0M479.4 113.1h0M443.2 85.9h0M479.1 82.7h0M427.3 90.1h0M470.2 100.9h0M427.4 90.7h0M401.9 87.1h0M467.8 82.1h0M463.5 119.6h0M391.4 85.8h0M393 90.2h0M472.1 105.9h0M469.6 66h0M455.2 125h0M482.1 72h0M451.5 86.2h0M393.4 76.7h0M407.5 72.7h0M395.6 87.4h0"/>
<path stroke="#B79F00" d="M452.5 83.4h0M439.8 82.8h0M458.1 43.7h0M404.3 24.2h0M444.2 38.4h0M430.9 64h0M476.2 55h0M457.4 38.8h0M487.8 85.8h0M456 87h0M468.8 63.6h0M469.3 38.5h0M473.2 53.3h0M407.4 69.6h0M431.1 49.7h0M456.5 35h0M480.8 67.8h0M457.7 35.7h0M480 62.8h0M472.7 67.6h0M453.3 56.7h0M467.7 69.3h0M407.6 79.5h0M464 46h0M410.1 70.9h0M458.6 66h0M485 88h0M462.1 93.8h0M462.5 66.2h0M450.7 68.9h0M458 45.3h0M467.4 62.4h0M452.4 42.4h0M456.4 61.7h0M444.5 42.3h0M435.8 95.4h0M452.2 34h0M399.4 78.2h0M474.8 59.8h0M440.4 46.2h0M455.4 50.3h0M428.9 66.7h0M476.6 46.4h0M485.8 69.7h0M461.1 42.6h0M448.6 40.7h0M406.4 78.6h0M465.7 68h0M438.7 92h0M427.5 42.4h0M433.7 41.9h0M410.8 72.5h0M438.4 42.3h0M466.1 97.9h0M430.9 45.5h0M487.2 67.1h0M450.2 46.6h0M465.4 49.5h0M456 37.2h0"/>
<path stroke="#00BA38" d="M441.9 81.4h0M400.7 76h0M479.3 68.6h0M407.8 80.4h0M409.7 72.1h0M475.7 42.3h0M483.1 76.7h0M449 85.4h0M481.3 73.9h0M406.4 81.7h0M412.1 66.1h0M465.4 33.9h0M477.4 69.1h0M460.3 33h0M436.1 56.1h0M440.1 92.9h0M445.2 46.4h0M480.3 47.8h0M426.8 60.6h0M485.7 75.3h0M462.9 42.3h0M459.4 38.4h0M472.9 67.5h0M458.7 30.9h0M468.6 47.4h0M396 79.5h0M478.5 60.9h0M468.5 81.2h0M438.4 60.3h0M412.4 75.5h0M398.7 75.8h0M421.3 76.8h0M430.9 95.4h0M482.2 55.5h0M463.8 29.8h0M421.5 65.6h0M448.8 82.8h0M479.5 63.8h0M475.2 49.1h0M481.1 65.4h0M484.4 61.6h0M436.3 94.2h0M475.2 72.2h0M469.2 36.4h0M486.6 70.7h0M483.2 66.5h0M469.9 68.3h0M483.7 59.8h0M462.8 84.8h0M456.8 67.4h0M437.4 54.3h0M474.8 99.8h0M455.1 92.2h0M388.3 77.2h0M398.5 75.3h0M445.8 41.6h0M455.1 44.7h0M409.9 72.8h0M478 113.2h0M410.1 70.8h0M485.9 74.6h0M466.2 70.8h0M422.6 62.4h0M426 68.3h0M416.5 30.7h0M426.6 63.7h0M476.8 69.4h0M472.3 121.9h0"/>
<path stroke="#00BFC4" d="M467.3 78.4h0M458.1 85.8h0M468.1 114.6h0M465.3 41.1h0M471.5 111h0M460.6 66.3h0M462.5 121.3h0M476.5 119.6h0M459.3 115.9h0M433.8 91.9h0M459.4 119.9h0M479.7 93.4h0M466.4 115.8h0M406.9 90.7h0M481.6 94.1h0M463.7 94.8h0M467.7 78.5h0M405.7 91.6h0M441.5 87.8h0M456.9 125.6h0M393.5 94.2h0M474.5 104.8h0M468.2 77.4h0M484.7 79.6h0M450 64.4h0M403.7 89.7h0M465.9 117.7h0M457.1 118.8h0M480.9 95.2h0M467.1 39.3h0M482.7 86.8h0M406.2 90.7h0M477 86.2h0M472.1 121h0M445.5 89.5h0M396.2 84h0M464.6 87.5h0M485 82.4h0M468.4 113.6h0M439 89.2h0M423.7 94.6h0M426.4 94.8h0M425.8 97.9h0M462.1 113.8h0M445.2 83.9h0M462.3 117.8h0M469 89.5h0M415.4 80.2h0M403.9 72.3h0"/>
<path stroke="#F8766D" d="M430.4 65h0M443.4 42.5h0M466.7 48.2h0M431.6 62.7h0M435.9 49.5h0M480.7 57.9h0M465.1 45h0M460.7 46.2h0M468.7 64.1h0M452.8 31h0M463.3 39.8h0M467 50h0M449.6 68.2h0M469.4 41.2h0M436.9 48.7h0M414.3 30h0M462.9 47.2h0M467.3 36.3h0M411.1 28.1h0M393 80.3h0M461.5 64.6h0M469.5 47.8h0M460.9 43.8h0M481.2 54.8h0M485.5 71.8h0M459 67h0M424.7 55.5h0M477.8 66h0M447.8 64.7h0M460.4 59.5h0M425.4 70.5h0M475.9 66.9h0M414.5 66.2h0M486.4 55h0M404.5 24.3h0M462.4 40.7h0M467 32.2h0M469.8 62.8h0M434 53.6h0M479.1 53h0M402.5 23.6h0M401.5 86.9h0M395.9 74.1h0M446.3 35.9h0M484 49.5h0M486.5 68.4h0M474.8 54.1h0M389.7 75.1h0M400.2 77.9h0M441.9 40.4h0M475.6 71.7h0M465.1 47.3h0M459.2 51.1h0M477.7 53.9h0M475.4 64h0M424.5 96.3h0M453.8 44.2h0M463.4 69.3h0M450.1 46.5h0"/>
<path stroke="#F564E3" d="M450.1 70.2h0M462.5 34.4h0M476 104.4h0M456 116.6h0M443.1 90.8h0M468.6 87.4h0M451.4 81.2h0M452 65.2h0M452 85.5h0M435.6 59.1h0M393 74.3h0M474 110.8h0M481.1 93.5h0M439.8 83.5h0M438.8 91.8h0M426.9 93.4h0M415.2 90.6h0M475.1 97.8h0M424.3 65.7h0M456.5 39h0M423.6 93.9h0M472.2 102.6h0M467.8 46.6h0M466.2 39.3h0M404.5 88.7h0M464.9 124.5h0M394.7 83.5h0M435.8 93h0M426.5 87.4h0M470.4 111.7h0M472 100.7h0M449.9 92.9h0M468.1 64.9h0M391.1 90.2h0M420.4 67.3h0M452.2 69.5h0M409.7 86.5h0M454.3 114.9h0M485.6 94.3h0M452.3 89.6h0M397.3 86.4h0M457.5 66.2h0M464.2 48.3h0M442.9 80.8h0M471.2 65.7h0M476.6 117.7h0M478.7 104.4h0M465.6 82h0M449.6 93h0M474.2 113.8h0M456.7 111.7h0M469.3 121.4h0"/>
<path stroke="#619CFF" d="M467.1 90.4h0M483 85.5h0M433.8 85.1h0M468.7 88h0M437.5 91.6h0M466.6 119.5h0M469.5 79.7h0M469.1 108.2h0M467.5 105.5h0M391.8 87.9h0M457.6 127h0M448.4 88.2h0M480.3 79.3h0M449.4 85.9h0M424.6 86.3h0M467.1 116.1h0M470.3 107.5h0M453.8 85.8h0M461.3 120h0M395.8 84.3h0M461.3 119.3h0M475.5 114.2h0M481.1 59.7h0M432.9 93.5h0M459.2 126.4h0M479.7 79.5h0M480.5 106h0M483.4 88.4h0M470.8 114.2h0M397.4 76.6h0M466.7 83.9h0M469.1 100.6h0M471.1 64.1h0M443.5 91.7h0M469.5 120.8h0M458.1 108.8h0M483.7 87.4h0M468.3 106.9h0M474.1 110.1h0M469.3 83.3h0M447.5 83.1h0M427.3 86.7h0M388.2 89.2h0M465.2 108.9h0M488.2 86.6h0M467.8 110.7h0M460.1 122.7h0M456.2 88.2h0M472.1 84.4h0M394.4 88.1h0M465 114.5h0M453.4 33.7h0M452.5 83.5h0M457.2 38.7h0M464 63.8h0M390.5 85h0M459.9 110.2h0M484.5 81.1h0M421.6 91.6h0M388.9 77.2h0M460.4 111.1h0M472.1 116.4h0M427 101.9h0"/>
<path stroke="#00BA38" d="M457.1 32.2h0M473.1 68.5h0M450.8 48.2h0M461.2 67.8h0M447.9 87.5h0M444.7 81.2h0M435.6 94.7h0M436 56.8h0M434.4 47.8h0M475.6 60.1h0M484.8 56.9h0M458.4 67.2h0M452.9 33.7h0M457.1 62.3h0M469.7 68.7h0M461.2 32h0M445 41.9h0M461.6 46.1h0M440.1 88.6h0M389.2 79.6h0M461.9 70.7h0M433.3 51.7h0M472.5 63.1h0M463.3 67.2h0M466.4 43.6h0M463.9 70.6h0M457.7 35.5h0M455.2 44.5h0M440.3 53.4h0M471.5 63.6h0M477.1 58.9h0M455.8 67.4h0M471 41.9h0M469.8 48h0M394.4 76.5h0M414.5 29.4h0M458.6 32.8h0M446.8 61.7h0M407.7 74.5h0M480.6 59.5h0M473.3 98.9h0M464.8 47.3h0M461.2 47.5h0M478.3 113.5h0M471 63h0M461.2 34.6h0M427.4 100h0M485.2 85.4h0M441.8 47.1h0M482.4 73.4h0M451.1 37.6h0M455 84.8h0M473 61h0M469.7 51.6h0"/>
<path stroke="#F8766D" d="M475.4 70.2h0M462.1 71.2h0M392.2 80.2h0M450.1 66h0M447.2 38.1h0M454.9 70.7h0M459.5 41.8h0M455.6 64.7h0M466.2 46.6h0M476.2 52.5h0M403.6 26.2h0M428.6 65h0M474.8 49.2h0M442.9 67.2h0M415.2 71.1h0M427.2 70h0M485.5 57.6h0M407.8 27.1h0M429.3 59.7h0M464.6 70h0M487.2 70.3h0M458.9 45.3h0M453.1 60.2h0M401.2 26.7h0M451.5 36h0M481.7 50h0M465.4 46.1h0M390.7 86.7h0M458.3 50.9h0M479.3 67.3h0M428.7 50.9h0M439.3 51.3h0M402.2 25.5h0M466.1 47.4h0M420 90.8h0M412.3 30.6h0M465.4 71.5h0M435.2 87.8h0M459 41.4h0M420.2 84.5h0M471 44.4h0M472.3 52.8h0M426.1 61.4h0M467.4 38h0M416.4 88h0M469.8 35.7h0M460.8 66.2h0M433.7 41h0M474.2 68h0M441.6 44.5h0M461.3 46.4h0M479.2 47.7h0M415.7 87.5h0M472.3 58.2h0M409.5 26.9h0M478.3 75.4h0M425.3 62.7h0M404.7 26.7h0M402.5 26.7h0M424 60.9h0M463.1 40.6h0M437 59.5h0M476.8 50.8h0"/>
<path stroke="#B79F00" d="M483.9 54.5h0M462.5 67.9h0M481.1 62.1h0M456.1 45.8h0M425.1 67.1h0M438.8 59.9h0M469.2 45.4h0M405.7 24.3h0M483.8 82.6h0M418.1 79.1h0M458.9 62.9h0M457.9 31.7h0M427.8 58.3h0M457 48.5h0M399.1 77.1h0M468 78.8h0M487.1 60.7h0M460.3 33.4h0M456.5 86.6h0M453.4 31.4h0M446.7 65h0M482.7 76.8h0M432.1 72.3h0M466.1 47.2h0M450.7 36.6h0M407.5 24.1h0M463.1 44h0M478.6 76.9h0M471 47.2h0M452.6 39.5h0M411.4 73.8h0M466.2 44.9h0M479.9 53.1h0M393.9 77.1h0M447.2 49.6h0M440.2 87.8h0M472 37.7h0M479.4 46.1h0M455.4 48.9h0M456.3 33.7h0M468.8 104.2h0M438.2 55.8h0M397.4 75.7h0M399 76.9h0M449.3 38.7h0M435.6 53.3h0M446.2 60.8h0M456.6 38.9h0M483.4 74h0M485.3 55.3h0M458.2 46.7h0M481.1 62.5h0M452.5 49.6h0M451.9 51.3h0M433.4 57.5h0M465.4 39.4h0M449.1 35.6h0M452.7 31.5h0M450.8 43.1h0M455.7 65.5h0M443.8 82.4h0M448.8 41.4h0M459 69.7h0M479.7 95.2h0M457.1 36.3h0M465.4 34h0M450.6 65.9h0M428.2 65.7h0"/>
<path stroke="#F564E3" d="M397.9 84.4h0M462.5 120h0M450.4 86.7h0M458.1 87.6h0M425.3 92.8h0M463.1 83.3h0M464.7 113.7h0M392.2 83.2h0M430.6 42h0M471.1 88.3h0M485.1 78.9h0M455.9 61.3h0M388.6 90.1h0M442.1 95.7h0M392.3 88.9h0M428 91.6h0M389.6 79.1h0M449 84.6h0M471.7 65.8h0M477.6 58.6h0M476.3 90.9h0M424.7 94.2h0M390.9 74h0M418.1 88.7h0M468.8 79.4h0M444 67.6h0M477.4 96.5h0M415.4 87h0M431.6 91.2h0M484.9 68.8h0M415 88.9h0M390.8 78.5h0M466.9 113.7h0M483.7 60.7h0M470.1 83.1h0M456.2 66.8h0M401 85.1h0M451.4 84.6h0M463.4 106.8h0M397.9 89h0M467.4 66h0M446.3 44h0M453.6 119.1h0M483.1 94h0"/>
<path stroke="#00BFC4" d="M477.2 90.4h0M402.5 25.4h0M471.2 59.2h0M471.5 102h0M466 120.4h0M472.9 115.9h0M466.3 79.1h0M463.5 111.1h0M455 116.9h0M450.5 86.7h0M445.4 84.3h0M473.7 115.9h0M395.5 91.8h0M470.2 116.7h0M477.5 101.5h0M475.3 110h0M452.6 115.6h0M406.9 85.7h0M429 91.4h0M480.4 85.9h0M396.4 82.4h0M429.4 93h0M433.6 46.3h0M487.4 79.3h0M481.5 79.7h0M427.2 67.9h0M475.3 118.9h0M461.9 111.9h0M468.9 115.8h0M472.8 116.7h0M433 90.8h0M404.2 90.3h0M432.2 80h0M389.3 92.7h0M402.1 82.9h0M468.1 84.9h0M394.4 84.8h0M465.4 105.9h0M401 91.6h0M400 87.1h0M419.2 65.8h0M480.7 106.1h0M479.5 90.2h0M447.6 119.6h0M467.4 110.8h0M472.2 86.2h0M468 122.8h0M425.2 98.2h0M468.6 114.9h0M462.8 41.3h0M435 90.2h0"/></g>
<path d="M384.6 15.5V131.7H506" stroke="#111" stroke-width="1.05" fill="none"/>
<path d="M382 18.4H384.6M382 46.2H384.6M382 74.2H384.6M382 102H384.6M382 130H384.6M386.1 131.7V134.3M406.8 131.7V134.3M427.3 131.7V134.3M447.4 131.7V134.3M468 131.7V134.3M488.4 131.7V134.3" stroke="#111" stroke-width="0.9"/>
<g fill="#222" font-size="9.7">
<text x="379.2" y="21.3" text-anchor="end" textLength="5.2" lengthAdjust="spacingAndGlyphs" stroke="#222" stroke-width="0.12">8</text>
<text x="379.2" y="49.1" text-anchor="end" textLength="5.2" lengthAdjust="spacingAndGlyphs" stroke="#222" stroke-width="0.12">4</text>
<text x="379.2" y="77.1" text-anchor="end" textLength="5.2" lengthAdjust="spacingAndGlyphs" stroke="#222" stroke-width="0.12">0</text>
<text x="379.2" y="104.9" text-anchor="end" textLength="9.0" lengthAdjust="spacingAndGlyphs" stroke="#222" stroke-width="0.12">−4</text>
<text x="379.2" y="132.9" text-anchor="end" textLength="9.0" lengthAdjust="spacingAndGlyphs" stroke="#222" stroke-width="0.12">−8</text>
<text x="386.1" y="144.4" text-anchor="middle" textLength="14.3" lengthAdjust="spacingAndGlyphs" stroke="#222" stroke-width="0.12">−7.5</text>
<text x="406.8" y="144.4" text-anchor="middle" textLength="14.3" lengthAdjust="spacingAndGlyphs" stroke="#222" stroke-width="0.12">−5.0</text>
<text x="427.3" y="144.4" text-anchor="middle" textLength="14.3" lengthAdjust="spacingAndGlyphs" stroke="#222" stroke-width="0.12">−2.5</text>
<text x="447.4" y="144.4" text-anchor="middle" textLength="11.2" lengthAdjust="spacingAndGlyphs" stroke="#222" stroke-width="0.12">0.0</text>
<text x="468" y="144.4" text-anchor="middle" textLength="11.2" lengthAdjust="spacingAndGlyphs" stroke="#222" stroke-width="0.12">2.5</text>
<text x="488.4" y="144.4" text-anchor="middle" textLength="11.2" lengthAdjust="spacingAndGlyphs" stroke="#222" stroke-width="0.12">5.0</text>
</g>
<text x="447.8" y="157" font-size="8.9" fill="#222" text-anchor="middle" textLength="29.7" lengthAdjust="spacingAndGlyphs" stroke="#222" stroke-width="0.12">UMAP_2</text>
<text transform="translate(367.2 76) rotate(-90)" font-size="8.9" fill="#222" text-anchor="middle" textLength="26" lengthAdjust="spacingAndGlyphs" stroke="#222" stroke-width="0.12">UMAP_1</text>
<circle cx="495" cy="19.8" r="1.85" fill="#F8766D"/><text x="498" y="21.9" font-size="6" fill="#3d6fa8" textLength="8.5" lengthAdjust="spacingAndGlyphs" stroke="#3d6fa8" stroke-width="0.12">P-1</text><circle cx="495" cy="26.2" r="1.85" fill="#B79F00"/><text x="498" y="28.3" font-size="6" fill="#3d6fa8" textLength="8.5" lengthAdjust="spacingAndGlyphs" stroke="#3d6fa8" stroke-width="0.12">P-2</text><circle cx="495" cy="32.6" r="1.85" fill="#00BA38"/><text x="498" y="34.7" font-size="6" fill="#3d6fa8" textLength="8.5" lengthAdjust="spacingAndGlyphs" stroke="#3d6fa8" stroke-width="0.12">P-3</text><circle cx="495" cy="39" r="1.85" fill="#00BFC4"/><text x="498" y="41.1" font-size="6" fill="#d03a5e" textLength="8.5" lengthAdjust="spacingAndGlyphs" stroke="#d03a5e" stroke-width="0.12">A-1</text><circle cx="495" cy="45.4" r="1.85" fill="#619CFF"/><text x="498" y="47.5" font-size="6" fill="#d03a5e" textLength="8.5" lengthAdjust="spacingAndGlyphs" stroke="#d03a5e" stroke-width="0.12">A-2</text><circle cx="495" cy="51.8" r="1.85" fill="#F564E3"/><text x="498" y="53.9" font-size="6" fill="#d03a5e" textLength="8.5" lengthAdjust="spacingAndGlyphs" stroke="#d03a5e" stroke-width="0.12">A-3</text>
<text x="389.6" y="116.4" font-size="8" fill="#cc3a5c" textLength="19.3" lengthAdjust="spacingAndGlyphs" stroke="#cc3a5c" stroke-width="0.12">A: Air</text>
<text x="389.6" y="125.9" font-size="8" fill="#3a74ac" textLength="41.5" lengthAdjust="spacingAndGlyphs" stroke="#3a74ac" stroke-width="0.12">P: Physioxia</text>
<defs><linearGradient id="gbar" x1="0" x2="1"><stop offset="0" stop-color="#fff"/><stop offset="0.15" stop-color="#c9c9f0"/><stop offset="1" stop-color="#b8b8ee"/></linearGradient></defs>
<rect x="293.4" y="182.8" width="97" height="76" fill="#fff"/>
<path d="M293.4 238H390.4M293.4 231.5H390.4M293.4 218.5H390.4M293.4 212H390.4M293.4 205.5H390.4M293.4 199H390.4M293.4 192.5H390.4M293.4 186H390.4M300.04 182.8V243M306.69 182.8V243M313.33 182.8V243M319.98 182.8V243M326.62 182.8V243M333.26 182.8V243M339.91 182.8V243M346.55 182.8V243M353.19 182.8V243M359.84 182.8V243M366.48 182.8V243M373.13 182.8V243M379.77 182.8V243M386.41 182.8V243" stroke="#e2e2e2" stroke-width="0.6" fill="none"/>
<path d="M298.4 241H387.4" stroke="#d0d0d0" stroke-width="1.6" stroke-dasharray="3 3.6"/>
<path d="M293.4 225H390.4" stroke="#9c9c9c" stroke-width="1.4"/>
<rect x="343.84" y="243" width="3.4" height="12.5" fill="#d0d0d0"/>
<rect x="363.24" y="243" width="3.88" height="12.5" fill="#d0d0d0"/>
<path d="M306.98 243V255.5M383.09 243V255.5" stroke="#444" stroke-width="1.3"/>
<path d="M342.26 243V255.5M346.4 243V255.5" stroke="#bbb" stroke-width="2.0"/>
<path d="M298.01 243V255.5" stroke="#222" stroke-width="1.6"/>
<path d="M308.09 243V255.5" stroke="#555" stroke-width="1.0"/>
<path d="M338.12 243V255.5M351.93 243V255.5" stroke="#bbb" stroke-width="1.6"/>
<path d="M327.85 243V255.5" stroke="#444" stroke-width="1.0"/>
<path d="M327.63 243V255.5" stroke="#aaa" stroke-width="0.8"/>
<path d="M329.53 243V255.5M387.69 243V255.5" stroke="#333" stroke-width="1.0"/>
<path d="M334.05 243V255.5M384.82 243V255.5" stroke="#222" stroke-width="1.3"/>
<path d="M335.19 243V255.5" stroke="#777" stroke-width="1.6"/>
<path d="M325.54 243V255.5" stroke="#aaa" stroke-width="1.6"/>
<path d="M315.15 243V255.5" stroke="#bbb" stroke-width="1.0"/>
<path d="M340.33 243V255.5" stroke="#333" stroke-width="0.8"/>
<path d="M301.67 243V255.5" stroke="#555" stroke-width="1.3"/>
<path d="M344.83 243V255.5" stroke="#aaa" stroke-width="1.3"/>
<path d="M316.51 243V255.5M312.86 243V255.5" stroke="#aaa" stroke-width="2.0"/>
<path d="M306.69 243V255.5" stroke="#999" stroke-width="0.8"/>
<path d="M373.58 243V255.5" stroke="#777" stroke-width="1.3"/>
<path d="M350.4 243V255.5" stroke="#333" stroke-width="1.6"/>
<path d="M293.4 243H390.4" stroke="#333" stroke-width="0.9"/>
<rect x="293.4" y="255.6" width="97" height="2.6" fill="#fff"/>
<rect x="346.75" y="255.7" width="43.65" height="2.4" fill="url(#gbar)"/>
<path d="M304.1 187V225M387.2 225V231" stroke="#f06a6a" stroke-width="0.8"/>
<path d="M293.4 193.5L294.5 190.5L296 188L297.5 186.8L300 187L302 187.3L304 186.6L306.5 187L309 186.8L311 187.3L313.5 188.5L330 199L350 211.5L370.8 224.8L380 230L383 232.2L385 230.8L387.5 232.5L390.4 228.8" stroke="#3ee83e" stroke-width="1.25" fill="none" stroke-linejoin="round"/>
<rect x="293.4" y="182.8" width="97" height="76" fill="none" stroke="#353535" stroke-width="1.1"/>
<path d="M290.4 238H293.4M290.4 231.5H293.4M290.4 225H293.4M290.4 218.5H293.4M290.4 212H293.4M290.4 205.5H293.4M290.4 199H293.4M290.4 192.5H293.4M290.4 186H293.4" stroke="#333" stroke-width="0.7"/>
<g font-size="5.6" fill="#333"><text x="288.8" y="240" text-anchor="end" textLength="10.2" lengthAdjust="spacingAndGlyphs" stroke="#333" stroke-width="0.12">−0.2</text><text x="288.8" y="233.5" text-anchor="end" textLength="10.2" lengthAdjust="spacingAndGlyphs" stroke="#333" stroke-width="0.12">−0.1</text><text x="288.8" y="227" text-anchor="end" textLength="3.0" lengthAdjust="spacingAndGlyphs" stroke="#333" stroke-width="0.12">0</text><text x="288.8" y="220.5" text-anchor="end" textLength="7.9" lengthAdjust="spacingAndGlyphs" stroke="#333" stroke-width="0.12">0.1</text><text x="288.8" y="214" text-anchor="end" textLength="7.9" lengthAdjust="spacingAndGlyphs" stroke="#333" stroke-width="0.12">0.2</text><text x="288.8" y="207.5" text-anchor="end" textLength="7.9" lengthAdjust="spacingAndGlyphs" stroke="#333" stroke-width="0.12">0.3</text><text x="288.8" y="201" text-anchor="end" textLength="7.9" lengthAdjust="spacingAndGlyphs" stroke="#333" stroke-width="0.12">0.4</text><text x="288.8" y="194.5" text-anchor="end" textLength="7.9" lengthAdjust="spacingAndGlyphs" stroke="#333" stroke-width="0.12">0.5</text><text x="288.8" y="188" text-anchor="end" textLength="7.9" lengthAdjust="spacingAndGlyphs" stroke="#333" stroke-width="0.12">0.6</text></g>
<g font-size="5.25" fill="#d4446a">
<text x="315.9" y="189.7" stroke="#d4446a" stroke-width="0.12">ES high = 0.598</text>
<text x="360.3" y="189.7" stroke="#d4446a" stroke-width="0.12">Padj = 0.03</text>
<text x="360.3" y="196.1" stroke="#d4446a" stroke-width="0.12">n = 6</text>
<text x="385.4" y="238.6" text-anchor="end" stroke="#d4446a" stroke-width="0.12">ES low = −0.124</text>
</g>
<text x="340.4" y="179" font-size="7.7" font-weight="bold" fill="#111" text-anchor="middle" textLength="74.6" lengthAdjust="spacingAndGlyphs" stroke="#111" stroke-width="0.072">HSCs renewal genes</text>
<rect x="414.5" y="182.5" width="97.25" height="75.7" fill="#fff"/>
<path d="M414.5 237.79H511.75M414.5 224.71H511.75M414.5 218.17H511.75M414.5 211.63H511.75M414.5 205.09H511.75M414.5 198.55H511.75M414.5 192.01H511.75M414.5 185.47H511.75M421.16 182.5V242.5M427.82 182.5V242.5M434.48 182.5V242.5M441.14 182.5V242.5M447.8 182.5V242.5M454.47 182.5V242.5M461.13 182.5V242.5M467.79 182.5V242.5M474.45 182.5V242.5M481.11 182.5V242.5M487.77 182.5V242.5M494.43 182.5V242.5M501.09 182.5V242.5M507.75 182.5V242.5" stroke="#e2e2e2" stroke-width="0.6" fill="none"/>
<path d="M419.5 240.5H508.75" stroke="#d0d0d0" stroke-width="1.6" stroke-dasharray="3 3.6"/>
<path d="M414.5 231.25H511.75" stroke="#9c9c9c" stroke-width="1.4"/>
<path d="M435.96 242.5V254.9M478.67 242.5V254.9" stroke="#aaa" stroke-width="0.8"/>
<path d="M417.8 242.5V254.9" stroke="#222" stroke-width="1.6"/>
<path d="M449.77 242.5V254.9M432.44 242.5V254.9" stroke="#999" stroke-width="2.0"/>
<path d="M457.48 242.5V254.9M436.45 242.5V254.9" stroke="#777" stroke-width="2.0"/>
<path d="M426.89 242.5V254.9M443.65 242.5V254.9" stroke="#222" stroke-width="1.3"/>
<path d="M416.04 242.5V254.9M448 242.5V254.9" stroke="#333" stroke-width="2.0"/>
<path d="M441.1 242.5V254.9M495.13 242.5V254.9" stroke="#555" stroke-width="1.6"/>
<path d="M429.53 242.5V254.9M486.84 242.5V254.9" stroke="#777" stroke-width="1.0"/>
<path d="M448.41 242.5V254.9M480.39 242.5V254.9M467.95 242.5V254.9" stroke="#999" stroke-width="1.3"/>
<path d="M432.78 242.5V254.9" stroke="#444" stroke-width="1.6"/>
<path d="M433.57 242.5V254.9" stroke="#aaa" stroke-width="2.0"/>
<path d="M461.84 242.5V254.9" stroke="#777" stroke-width="1.6"/>
<path d="M445.78 242.5V254.9M464.73 242.5V254.9" stroke="#555" stroke-width="1.3"/>
<path d="M430.07 242.5V254.9M453.09 242.5V254.9" stroke="#999" stroke-width="0.8"/>
<path d="M433.56 242.5V254.9M501.53 242.5V254.9" stroke="#444" stroke-width="0.8"/>
<path d="M445.75 242.5V254.9" stroke="#999" stroke-width="1.6"/>
<path d="M449.23 242.5V254.9" stroke="#bbb" stroke-width="0.8"/>
<path d="M427.61 242.5V254.9" stroke="#bbb" stroke-width="1.3"/>
<path d="M491.23 242.5V254.9" stroke="#999" stroke-width="1.0"/>
<path d="M503.14 242.5V254.9" stroke="#777" stroke-width="1.3"/>
<path d="M500.46 242.5V254.9" stroke="#333" stroke-width="0.8"/>
<path d="M509.19 242.5V254.9M501.39 242.5V254.9" stroke="#444" stroke-width="1.3"/>
<path d="M479.09 242.5V254.9" stroke="#555" stroke-width="2.0"/>
<path d="M484.52 242.5V254.9" stroke="#555" stroke-width="0.8"/>
<path d="M414.5 242.5H511.75" stroke="#333" stroke-width="0.9"/>
<rect x="414.5" y="255" width="97.25" height="2.6" fill="#fff"/>
<rect x="467.99" y="255.1" width="43.76" height="2.4" fill="url(#gbar)"/>
<path d="M427.5 185.8V231.25" stroke="#f06a6a" stroke-width="0.8"/>
<path d="M414.2 203.8L415 196.3L417.5 192.5L420 188L423.8 187.5L427.5 186.3L431.3 187L433.8 185.5L438.8 188.8L443.8 191.3L450 193.8L465 202.5L490 217.5L505 227.5L511.75 233.8" stroke="#3ee83e" stroke-width="1.25" fill="none" stroke-linejoin="round"/>
<rect x="414.5" y="182.5" width="97.25" height="75.7" fill="none" stroke="#353535" stroke-width="1.1"/>
<path d="M411.5 237.79H414.5M411.5 231.25H414.5M411.5 224.71H414.5M411.5 218.17H414.5M411.5 211.63H414.5M411.5 205.09H414.5M411.5 198.55H414.5M411.5 192.01H414.5M411.5 185.47H414.5" stroke="#333" stroke-width="0.7"/>
<g font-size="5.6" fill="#333"><text x="409.9" y="239.79" text-anchor="end" textLength="10.2" lengthAdjust="spacingAndGlyphs" stroke="#333" stroke-width="0.12">−0.1</text><text x="409.9" y="233.25" text-anchor="end" textLength="3.0" lengthAdjust="spacingAndGlyphs" stroke="#333" stroke-width="0.12">0</text><text x="409.9" y="226.71" text-anchor="end" textLength="7.9" lengthAdjust="spacingAndGlyphs" stroke="#333" stroke-width="0.12">0.1</text><text x="409.9" y="220.17" text-anchor="end" textLength="7.9" lengthAdjust="spacingAndGlyphs" stroke="#333" stroke-width="0.12">0.2</text><text x="409.9" y="213.63" text-anchor="end" textLength="7.9" lengthAdjust="spacingAndGlyphs" stroke="#333" stroke-width="0.12">0.3</text><text x="409.9" y="207.09" text-anchor="end" textLength="7.9" lengthAdjust="spacingAndGlyphs" stroke="#333" stroke-width="0.12">0.4</text><text x="409.9" y="200.55" text-anchor="end" textLength="7.9" lengthAdjust="spacingAndGlyphs" stroke="#333" stroke-width="0.12">0.5</text><text x="409.9" y="194.01" text-anchor="end" textLength="7.9" lengthAdjust="spacingAndGlyphs" stroke="#333" stroke-width="0.12">0.6</text><text x="409.9" y="187.47" text-anchor="end" textLength="7.9" lengthAdjust="spacingAndGlyphs" stroke="#333" stroke-width="0.12">0.7</text></g>
<g font-size="5.25" fill="#d4446a">
<text x="434.5" y="189.5" stroke="#d4446a" stroke-width="0.12">ES high = 0.7</text>
<text x="483" y="189.5" stroke="#d4446a" stroke-width="0.12">Padj = 0.01</text>
<text x="483" y="195.9" stroke="#d4446a" stroke-width="0.12">n = 8</text>
<text x="507" y="238" text-anchor="end" stroke="#d4446a" stroke-width="0.12">ES low = −0.048</text>
</g>
<text x="462.7" y="179" font-size="7.7" font-weight="bold" fill="#111" text-anchor="middle" textLength="80.2" lengthAdjust="spacingAndGlyphs" stroke="#111" stroke-width="0.072">HSCs signature genes</text>
<rect x="293" y="274.5" width="97.5" height="75.7" fill="#fff"/>
<path d="M293 329.4H390.5M293 322.2H390.5M293 307.8H390.5M293 300.6H390.5M293 293.4H390.5M293 286.2H390.5M293 279H390.5M299.68 274.5V334.5M306.36 274.5V334.5M313.03 274.5V334.5M319.71 274.5V334.5M326.39 274.5V334.5M333.07 274.5V334.5M339.75 274.5V334.5M346.42 274.5V334.5M353.1 274.5V334.5M359.78 274.5V334.5M366.46 274.5V334.5M373.14 274.5V334.5M379.82 274.5V334.5M386.49 274.5V334.5" stroke="#e2e2e2" stroke-width="0.6" fill="none"/>
<path d="M298 332.5H387.5" stroke="#d0d0d0" stroke-width="1.6" stroke-dasharray="3 3.6"/>
<path d="M293 315H390.5" stroke="#9c9c9c" stroke-width="1.4"/>
<path d="M305.52 334.5V346.9M322.64 334.5V346.9M368.92 334.5V346.9M372.71 334.5V346.9M372.35 334.5V346.9" stroke="#333" stroke-width="2.0"/>
<path d="M305.69 334.5V346.9" stroke="#444" stroke-width="1.6"/>
<path d="M303.92 334.5V346.9" stroke="#777" stroke-width="1.6"/>
<path d="M305.73 334.5V346.9M374.69 334.5V346.9M365.24 334.5V346.9" stroke="#aaa" stroke-width="1.3"/>
<path d="M308.17 334.5V346.9M315.12 334.5V346.9M314.77 334.5V346.9M332.81 334.5V346.9M336.37 334.5V346.9M360.24 334.5V346.9" stroke="#aaa" stroke-width="0.8"/>
<path d="M324.84 334.5V346.9" stroke="#444" stroke-width="1.0"/>
<path d="M294.36 334.5V346.9" stroke="#aaa" stroke-width="2.0"/>
<path d="M325.83 334.5V346.9M305.55 334.5V346.9M305.91 334.5V346.9M389.16 334.5V346.9" stroke="#555" stroke-width="0.8"/>
<path d="M319.01 334.5V346.9" stroke="#777" stroke-width="2.0"/>
<path d="M322.76 334.5V346.9M381.35 334.5V346.9" stroke="#777" stroke-width="0.8"/>
<path d="M321.17 334.5V346.9M309.94 334.5V346.9M320 334.5V346.9" stroke="#222" stroke-width="0.8"/>
<path d="M324.28 334.5V346.9M389.24 334.5V346.9" stroke="#555" stroke-width="1.6"/>
<path d="M313.4 334.5V346.9M321.61 334.5V346.9M329.25 334.5V346.9" stroke="#222" stroke-width="1.6"/>
<path d="M319.01 334.5V346.9" stroke="#444" stroke-width="2.0"/>
<path d="M304.18 334.5V346.9M312.07 334.5V346.9" stroke="#222" stroke-width="2.0"/>
<path d="M297.98 334.5V346.9" stroke="#444" stroke-width="1.3"/>
<path d="M326.55 334.5V346.9M295.86 334.5V346.9" stroke="#bbb" stroke-width="0.8"/>
<path d="M312 334.5V346.9M358.12 334.5V346.9" stroke="#333" stroke-width="1.0"/>
<path d="M302.17 334.5V346.9" stroke="#777" stroke-width="1.0"/>
<path d="M319.38 334.5V346.9" stroke="#555" stroke-width="1.3"/>
<path d="M334.65 334.5V346.9" stroke="#999" stroke-width="1.0"/>
<path d="M331.97 334.5V346.9M331.26 334.5V346.9" stroke="#999" stroke-width="1.6"/>
<path d="M336.71 334.5V346.9" stroke="#777" stroke-width="1.3"/>
<path d="M338.83 334.5V346.9M359.8 334.5V346.9" stroke="#444" stroke-width="0.8"/>
<path d="M345.29 334.5V346.9M383.36 334.5V346.9" stroke="#bbb" stroke-width="1.3"/>
<path d="M345.75 334.5V346.9" stroke="#aaa" stroke-width="1.6"/>
<path d="M351.94 334.5V346.9" stroke="#555" stroke-width="2.0"/>
<path d="M361.53 334.5V346.9M371.31 334.5V346.9" stroke="#333" stroke-width="1.6"/>
<path d="M386.88 334.5V346.9M353.59 334.5V346.9" stroke="#999" stroke-width="2.0"/>
<path d="M381.41 334.5V346.9" stroke="#333" stroke-width="1.3"/>
<path d="M378.52 334.5V346.9" stroke="#bbb" stroke-width="1.0"/>
<path d="M358.08 334.5V346.9" stroke="#222" stroke-width="1.3"/>
<path d="M383.27 334.5V346.9M373.29 334.5V346.9" stroke="#333" stroke-width="0.8"/>
<path d="M293 334.5H390.5" stroke="#333" stroke-width="0.9"/>
<rect x="293" y="347" width="97.5" height="2.6" fill="#fff"/>
<rect x="346.62" y="347.1" width="43.88" height="2.4" fill="url(#gbar)"/>
<path d="M308 278.8V315M384.5 315V328.4" stroke="#f06a6a" stroke-width="0.8"/>
<path d="M293.3 314L294.3 301L295.3 291L296.8 285L298.5 283.8L301.3 282.5L305 280L307.7 278.8L311.3 280L320 285L332.5 292.5L345 301.3L360 315L370 321.3L380 326.3L383.8 328.8L387.5 322.5L390.5 313" stroke="#3ee83e" stroke-width="1.25" fill="none" stroke-linejoin="round"/>
<rect x="293" y="274.5" width="97.5" height="75.7" fill="none" stroke="#353535" stroke-width="1.1"/>
<path d="M290 329.4H293M290 322.2H293M290 315H293M290 307.8H293M290 300.6H293M290 293.4H293M290 286.2H293M290 279H293" stroke="#333" stroke-width="0.7"/>
<g font-size="5.6" fill="#333"><text x="288.4" y="331.4" text-anchor="end" textLength="10.2" lengthAdjust="spacingAndGlyphs" stroke="#333" stroke-width="0.12">−0.2</text><text x="288.4" y="324.2" text-anchor="end" textLength="10.2" lengthAdjust="spacingAndGlyphs" stroke="#333" stroke-width="0.12">−0.1</text><text x="288.4" y="317" text-anchor="end" textLength="3.0" lengthAdjust="spacingAndGlyphs" stroke="#333" stroke-width="0.12">0</text><text x="288.4" y="309.8" text-anchor="end" textLength="7.9" lengthAdjust="spacingAndGlyphs" stroke="#333" stroke-width="0.12">0.1</text><text x="288.4" y="302.6" text-anchor="end" textLength="7.9" lengthAdjust="spacingAndGlyphs" stroke="#333" stroke-width="0.12">0.2</text><text x="288.4" y="295.4" text-anchor="end" textLength="7.9" lengthAdjust="spacingAndGlyphs" stroke="#333" stroke-width="0.12">0.3</text><text x="288.4" y="288.2" text-anchor="end" textLength="7.9" lengthAdjust="spacingAndGlyphs" stroke="#333" stroke-width="0.12">0.4</text><text x="288.4" y="281" text-anchor="end" textLength="7.9" lengthAdjust="spacingAndGlyphs" stroke="#333" stroke-width="0.12">0.5</text></g>
<g font-size="5.25" fill="#d4446a">
<text x="315.8" y="281.3" stroke="#d4446a" stroke-width="0.12">ES high = 0.482</text>
<text x="358" y="281.3" stroke="#d4446a" stroke-width="0.12">Padj = 0.004</text>
<text x="358" y="288.3" stroke="#d4446a" stroke-width="0.12">n = 22</text>
<text x="375" y="329.8" text-anchor="end" stroke="#d4446a" stroke-width="0.12">ES low = −0.196</text>
</g>
<text x="340.7" y="271.5" font-size="7.7" font-weight="bold" fill="#111" text-anchor="middle" textLength="83.7" lengthAdjust="spacingAndGlyphs" stroke="#111" stroke-width="0.072">HIF-1α targeted genes</text>
<rect x="414.5" y="274.3" width="97.25" height="75.9" fill="#fff"/>
<path d="M414.5 329.4H511.75M414.5 321.95H511.75M414.5 307.05H511.75M414.5 299.6H511.75M414.5 292.15H511.75M414.5 284.7H511.75M414.5 277.25H511.75M421.16 274.3V334.3M427.82 274.3V334.3M434.48 274.3V334.3M441.14 274.3V334.3M447.8 274.3V334.3M454.47 274.3V334.3M461.13 274.3V334.3M467.79 274.3V334.3M474.45 274.3V334.3M481.11 274.3V334.3M487.77 274.3V334.3M494.43 274.3V334.3M501.09 274.3V334.3M507.75 274.3V334.3" stroke="#e2e2e2" stroke-width="0.6" fill="none"/>
<path d="M419.5 332.3H508.75" stroke="#d0d0d0" stroke-width="1.6" stroke-dasharray="3 3.6"/>
<path d="M414.5 314.5H511.75" stroke="#9c9c9c" stroke-width="1.4"/>
<path d="M418.34 334.3V346.9M453.4 334.3V346.9M493.56 334.3V346.9M485.32 334.3V346.9" stroke="#333" stroke-width="1.6"/>
<path d="M418.07 334.3V346.9" stroke="#aaa" stroke-width="1.0"/>
<path d="M417.67 334.3V346.9" stroke="#bbb" stroke-width="1.0"/>
<path d="M418.75 334.3V346.9M420.21 334.3V346.9M488.7 334.3V346.9" stroke="#444" stroke-width="1.0"/>
<path d="M416.15 334.3V346.9M453.35 334.3V346.9M454.33 334.3V346.9M509.77 334.3V346.9" stroke="#bbb" stroke-width="2.0"/>
<path d="M416.97 334.3V346.9M447.14 334.3V346.9" stroke="#555" stroke-width="1.0"/>
<path d="M439.88 334.3V346.9" stroke="#999" stroke-width="1.0"/>
<path d="M448.71 334.3V346.9M430.64 334.3V346.9M497.74 334.3V346.9" stroke="#777" stroke-width="1.6"/>
<path d="M440.2 334.3V346.9M452.27 334.3V346.9M449.99 334.3V346.9M503.13 334.3V346.9" stroke="#777" stroke-width="1.0"/>
<path d="M439.36 334.3V346.9" stroke="#555" stroke-width="1.3"/>
<path d="M436.46 334.3V346.9M500.6 334.3V346.9" stroke="#444" stroke-width="1.6"/>
<path d="M427.27 334.3V346.9M446.44 334.3V346.9" stroke="#222" stroke-width="1.6"/>
<path d="M450.68 334.3V346.9" stroke="#555" stroke-width="0.8"/>
<path d="M426.66 334.3V346.9M426.08 334.3V346.9M484.67 334.3V346.9" stroke="#222" stroke-width="1.3"/>
<path d="M426.53 334.3V346.9M500.17 334.3V346.9" stroke="#333" stroke-width="0.8"/>
<path d="M424.36 334.3V346.9M490.57 334.3V346.9" stroke="#777" stroke-width="1.3"/>
<path d="M467.57 334.3V346.9M475.58 334.3V346.9" stroke="#999" stroke-width="0.8"/>
<path d="M454.2 334.3V346.9" stroke="#999" stroke-width="1.6"/>
<path d="M460.84 334.3V346.9M503.41 334.3V346.9M504.35 334.3V346.9" stroke="#333" stroke-width="1.0"/>
<path d="M465.86 334.3V346.9" stroke="#bbb" stroke-width="1.6"/>
<path d="M475.28 334.3V346.9" stroke="#777" stroke-width="0.8"/>
<path d="M485.12 334.3V346.9M506.22 334.3V346.9" stroke="#999" stroke-width="1.3"/>
<path d="M475.15 334.3V346.9" stroke="#999" stroke-width="2.0"/>
<path d="M476.86 334.3V346.9" stroke="#bbb" stroke-width="0.8"/>
<path d="M475.18 334.3V346.9" stroke="#444" stroke-width="1.3"/>
<path d="M487.9 334.3V346.9" stroke="#aaa" stroke-width="2.0"/>
<path d="M503.19 334.3V346.9M497.08 334.3V346.9" stroke="#444" stroke-width="0.8"/>
<path d="M497.85 334.3V346.9" stroke="#444" stroke-width="2.0"/>
<path d="M504.05 334.3V346.9" stroke="#aaa" stroke-width="1.3"/>
<path d="M507.83 334.3V346.9" stroke="#333" stroke-width="1.3"/>
<path d="M414.5 334.3H511.75" stroke="#333" stroke-width="0.9"/>
<rect x="414.5" y="347" width="97.25" height="2.6" fill="#fff"/>
<rect x="467.99" y="347.1" width="43.76" height="2.4" fill="url(#gbar)"/>
<path d="M420.5 279.5V314.5M501.2 314.5V327.2" stroke="#f06a6a" stroke-width="0.8"/>
<path d="M414 314.5L415 302L416.5 291L418 284.5L420 280L422 279.2L425 280.5L430 283.5L436 284.8L442 286.5L450 292L465 303L478.8 314.5L490 322L501 327.5L505 326L508 322L511.75 314" stroke="#3ee83e" stroke-width="1.25" fill="none" stroke-linejoin="round"/>
<rect x="414.5" y="274.3" width="97.25" height="75.9" fill="none" stroke="#353535" stroke-width="1.1"/>
<path d="M411.5 329.4H414.5M411.5 321.95H414.5M411.5 314.5H414.5M411.5 307.05H414.5M411.5 299.6H414.5M411.5 292.15H414.5M411.5 284.7H414.5M411.5 277.25H414.5" stroke="#333" stroke-width="0.7"/>
<g font-size="5.6" fill="#333"><text x="409.9" y="331.4" text-anchor="end" textLength="10.2" lengthAdjust="spacingAndGlyphs" stroke="#333" stroke-width="0.12">−0.2</text><text x="409.9" y="323.95" text-anchor="end" textLength="10.2" lengthAdjust="spacingAndGlyphs" stroke="#333" stroke-width="0.12">−0.1</text><text x="409.9" y="316.5" text-anchor="end" textLength="3.0" lengthAdjust="spacingAndGlyphs" stroke="#333" stroke-width="0.12">0</text><text x="409.9" y="309.05" text-anchor="end" textLength="7.9" lengthAdjust="spacingAndGlyphs" stroke="#333" stroke-width="0.12">0.1</text><text x="409.9" y="301.6" text-anchor="end" textLength="7.9" lengthAdjust="spacingAndGlyphs" stroke="#333" stroke-width="0.12">0.2</text><text x="409.9" y="294.15" text-anchor="end" textLength="7.9" lengthAdjust="spacingAndGlyphs" stroke="#333" stroke-width="0.12">0.3</text><text x="409.9" y="286.7" text-anchor="end" textLength="7.9" lengthAdjust="spacingAndGlyphs" stroke="#333" stroke-width="0.12">0.4</text><text x="409.9" y="279.25" text-anchor="end" textLength="7.9" lengthAdjust="spacingAndGlyphs" stroke="#333" stroke-width="0.12">0.5</text></g>
<g font-size="5.25" fill="#d4446a">
<text x="429.5" y="281" stroke="#d4446a" stroke-width="0.12">ES high = 0.482</text>
<text x="477.5" y="281" stroke="#d4446a" stroke-width="0.12">Padj = 0.006</text>
<text x="477.5" y="287.6" stroke="#d4446a" stroke-width="0.12">n = 47</text>
<text x="491.3" y="330.5" text-anchor="end" stroke="#d4446a" stroke-width="0.12">ES low = −0.185</text>
</g>
<text x="462.5" y="271.5" font-size="7.7" font-weight="bold" fill="#111" text-anchor="middle" textLength="71.2" lengthAdjust="spacingAndGlyphs" stroke="#111" stroke-width="0.072">PID MYC activation</text>
<rect x="293" y="364.5" width="97.5" height="76" fill="#fff"/>
<path d="M293 419.43H390.5M293 406.57H390.5M293 400.14H390.5M293 393.71H390.5M293 387.28H390.5M293 380.85H390.5M293 374.42H390.5M293 367.99H390.5M299.68 364.5V424.5M306.36 364.5V424.5M313.03 364.5V424.5M319.71 364.5V424.5M326.39 364.5V424.5M333.07 364.5V424.5M339.75 364.5V424.5M346.42 364.5V424.5M353.1 364.5V424.5M359.78 364.5V424.5M366.46 364.5V424.5M373.14 364.5V424.5M379.82 364.5V424.5M386.49 364.5V424.5" stroke="#e2e2e2" stroke-width="0.6" fill="none"/>
<path d="M298 422.5H387.5" stroke="#d0d0d0" stroke-width="1.6" stroke-dasharray="3 3.6"/>
<path d="M293 413H390.5" stroke="#9c9c9c" stroke-width="1.4"/>
<path d="M310.8 424.5V437.2M363.83 424.5V437.2" stroke="#aaa" stroke-width="1.6"/>
<path d="M313.59 424.5V437.2M307.15 424.5V437.2" stroke="#444" stroke-width="2.0"/>
<path d="M308.65 424.5V437.2M367.31 424.5V437.2M366.92 424.5V437.2" stroke="#aaa" stroke-width="1.0"/>
<path d="M298.45 424.5V437.2" stroke="#777" stroke-width="1.3"/>
<path d="M312.78 424.5V437.2M325.48 424.5V437.2" stroke="#222" stroke-width="1.6"/>
<path d="M315.39 424.5V437.2" stroke="#aaa" stroke-width="1.3"/>
<path d="M307.34 424.5V437.2M317.43 424.5V437.2" stroke="#777" stroke-width="1.6"/>
<path d="M294.92 424.5V437.2M298.8 424.5V437.2" stroke="#555" stroke-width="0.8"/>
<path d="M296.76 424.5V437.2M340.13 424.5V437.2M334.59 424.5V437.2" stroke="#555" stroke-width="1.6"/>
<path d="M298.32 424.5V437.2" stroke="#bbb" stroke-width="1.0"/>
<path d="M313.52 424.5V437.2M327.28 424.5V437.2" stroke="#bbb" stroke-width="0.8"/>
<path d="M307.66 424.5V437.2M367.13 424.5V437.2" stroke="#444" stroke-width="1.0"/>
<path d="M329.08 424.5V437.2" stroke="#333" stroke-width="2.0"/>
<path d="M339.93 424.5V437.2M350.34 424.5V437.2" stroke="#222" stroke-width="1.3"/>
<path d="M332.68 424.5V437.2" stroke="#333" stroke-width="1.6"/>
<path d="M330.79 424.5V437.2" stroke="#999" stroke-width="1.3"/>
<path d="M325.78 424.5V437.2M335.56 424.5V437.2" stroke="#999" stroke-width="1.0"/>
<path d="M319.89 424.5V437.2" stroke="#222" stroke-width="0.8"/>
<path d="M319.83 424.5V437.2" stroke="#555" stroke-width="1.0"/>
<path d="M372.62 424.5V437.2" stroke="#777" stroke-width="0.8"/>
<path d="M359.2 424.5V437.2" stroke="#999" stroke-width="1.6"/>
<path d="M387.86 424.5V437.2" stroke="#555" stroke-width="1.3"/>
<path d="M378.99 424.5V437.2" stroke="#444" stroke-width="1.6"/>
<path d="M342.81 424.5V437.2" stroke="#aaa" stroke-width="2.0"/>
<path d="M293 424.5H390.5" stroke="#333" stroke-width="0.9"/>
<rect x="293" y="437.3" width="97.5" height="2.6" fill="#fff"/>
<rect x="346.62" y="437.4" width="43.88" height="2.4" fill="url(#gbar)"/>
<path d="M304.4 371.6V413" stroke="#f06a6a" stroke-width="0.8"/>
<path d="M293.5 413L294.2 400L295 391.3L296.3 385L297.5 380L298.8 375L300.5 373L302 374.5L304.5 371.3L307.5 373.3L311.3 374.5L315 374.5L320 376.3L325 377L332.5 380L345 387L357.5 393.8L370 401.3L377.5 408.8L382.5 408L384.5 410.5L389.5 413" stroke="#3ee83e" stroke-width="1.25" fill="none" stroke-linejoin="round"/>
<rect x="293" y="364.5" width="97.5" height="76" fill="none" stroke="#353535" stroke-width="1.1"/>
<path d="M290 419.43H293M290 413H293M290 406.57H293M290 400.14H293M290 393.71H293M290 387.28H293M290 380.85H293M290 374.42H293M290 367.99H293" stroke="#333" stroke-width="0.7"/>
<g font-size="5.6" fill="#333"><text x="288.4" y="421.43" text-anchor="end" textLength="10.2" lengthAdjust="spacingAndGlyphs" stroke="#333" stroke-width="0.12">−0.1</text><text x="288.4" y="415" text-anchor="end" textLength="3.0" lengthAdjust="spacingAndGlyphs" stroke="#333" stroke-width="0.12">0</text><text x="288.4" y="408.57" text-anchor="end" textLength="7.9" lengthAdjust="spacingAndGlyphs" stroke="#333" stroke-width="0.12">0.1</text><text x="288.4" y="402.14" text-anchor="end" textLength="7.9" lengthAdjust="spacingAndGlyphs" stroke="#333" stroke-width="0.12">0.2</text><text x="288.4" y="395.71" text-anchor="end" textLength="7.9" lengthAdjust="spacingAndGlyphs" stroke="#333" stroke-width="0.12">0.3</text><text x="288.4" y="389.28" text-anchor="end" textLength="7.9" lengthAdjust="spacingAndGlyphs" stroke="#333" stroke-width="0.12">0.4</text><text x="288.4" y="382.85" text-anchor="end" textLength="7.9" lengthAdjust="spacingAndGlyphs" stroke="#333" stroke-width="0.12">0.5</text><text x="288.4" y="376.42" text-anchor="end" textLength="7.9" lengthAdjust="spacingAndGlyphs" stroke="#333" stroke-width="0.12">0.6</text><text x="288.4" y="369.99" text-anchor="end" textLength="7.9" lengthAdjust="spacingAndGlyphs" stroke="#333" stroke-width="0.12">0.7</text></g>
<g font-size="5.25" fill="#d4446a">
<text x="307" y="371.3" stroke="#d4446a" stroke-width="0.12">ES high = 0.65</text>
<text x="353.8" y="371.3" stroke="#d4446a" stroke-width="0.12">Padj = 0.0009</text>
<text x="353.8" y="378.3" stroke="#d4446a" stroke-width="0.12">n = 26</text>
<text x="298" y="419.5" text-anchor="start" stroke="#d4446a" stroke-width="0.12">ES low = −0.009</text>
</g>
<text x="341.2" y="362" font-size="7.7" font-weight="bold" fill="#111" text-anchor="middle" textLength="60.2" lengthAdjust="spacingAndGlyphs" stroke="#111" stroke-width="0.072">KEGG glycolysis</text>
<rect x="414.5" y="364.5" width="97.25" height="75.7" fill="#fff"/>
<path d="M414.5 419.2H511.75M414.5 412.8H511.75M414.5 406.4H511.75M414.5 393.6H511.75M414.5 387.2H511.75M414.5 380.8H511.75M414.5 374.4H511.75M414.5 368H511.75M421.16 364.5V424.5M427.82 364.5V424.5M434.48 364.5V424.5M441.14 364.5V424.5M447.8 364.5V424.5M454.47 364.5V424.5M461.13 364.5V424.5M467.79 364.5V424.5M474.45 364.5V424.5M481.11 364.5V424.5M487.77 364.5V424.5M494.43 364.5V424.5M501.09 364.5V424.5M507.75 364.5V424.5" stroke="#e2e2e2" stroke-width="0.6" fill="none"/>
<path d="M419.5 422.5H508.75" stroke="#d0d0d0" stroke-width="1.6" stroke-dasharray="3 3.6"/>
<path d="M414.5 400H511.75" stroke="#9c9c9c" stroke-width="1.4"/>
<path d="M416.5 424.5V436.9M415.86 424.5V436.9" stroke="#222" stroke-width="1.0"/>
<path d="M416.22 424.5V436.9M466.37 424.5V436.9" stroke="#444" stroke-width="1.6"/>
<path d="M418.03 424.5V436.9M432.84 424.5V436.9M502.69 424.5V436.9M503.39 424.5V436.9" stroke="#222" stroke-width="0.8"/>
<path d="M417.61 424.5V436.9M506.02 424.5V436.9" stroke="#999" stroke-width="1.6"/>
<path d="M417.61 424.5V436.9M459.92 424.5V436.9" stroke="#aaa" stroke-width="1.6"/>
<path d="M415.83 424.5V436.9M469.79 424.5V436.9M495.94 424.5V436.9" stroke="#555" stroke-width="1.0"/>
<path d="M424.81 424.5V436.9M462.22 424.5V436.9M506.42 424.5V436.9" stroke="#bbb" stroke-width="1.0"/>
<path d="M425.94 424.5V436.9M486.53 424.5V436.9M497.26 424.5V436.9" stroke="#333" stroke-width="1.3"/>
<path d="M438 424.5V436.9" stroke="#222" stroke-width="1.3"/>
<path d="M427.72 424.5V436.9M437.8 424.5V436.9M452.06 424.5V436.9" stroke="#bbb" stroke-width="1.3"/>
<path d="M431.17 424.5V436.9M509.47 424.5V436.9" stroke="#777" stroke-width="0.8"/>
<path d="M436.42 424.5V436.9M489.14 424.5V436.9" stroke="#999" stroke-width="1.3"/>
<path d="M424.8 424.5V436.9M450.29 424.5V436.9" stroke="#aaa" stroke-width="0.8"/>
<path d="M423.78 424.5V436.9M462.83 424.5V436.9" stroke="#333" stroke-width="0.8"/>
<path d="M426.03 424.5V436.9M495.49 424.5V436.9" stroke="#222" stroke-width="1.6"/>
<path d="M424.16 424.5V436.9" stroke="#999" stroke-width="1.0"/>
<path d="M436.25 424.5V436.9" stroke="#999" stroke-width="0.8"/>
<path d="M442.68 424.5V436.9M463.24 424.5V436.9M507.72 424.5V436.9" stroke="#aaa" stroke-width="2.0"/>
<path d="M448.92 424.5V436.9M493.65 424.5V436.9" stroke="#aaa" stroke-width="1.0"/>
<path d="M449.63 424.5V436.9" stroke="#444" stroke-width="1.3"/>
<path d="M447.08 424.5V436.9" stroke="#444" stroke-width="2.0"/>
<path d="M440.63 424.5V436.9" stroke="#444" stroke-width="0.8"/>
<path d="M475.46 424.5V436.9" stroke="#222" stroke-width="2.0"/>
<path d="M488.55 424.5V436.9M497.12 424.5V436.9" stroke="#bbb" stroke-width="1.6"/>
<path d="M467.91 424.5V436.9" stroke="#555" stroke-width="1.6"/>
<path d="M481.36 424.5V436.9M507.24 424.5V436.9" stroke="#333" stroke-width="1.6"/>
<path d="M484.19 424.5V436.9" stroke="#444" stroke-width="1.0"/>
<path d="M506.4 424.5V436.9" stroke="#999" stroke-width="2.0"/>
<path d="M502.93 424.5V436.9" stroke="#333" stroke-width="1.0"/>
<path d="M503.02 424.5V436.9M498.15 424.5V436.9" stroke="#bbb" stroke-width="0.8"/>
<path d="M414.5 424.5H511.75" stroke="#333" stroke-width="0.9"/>
<rect x="414.5" y="437" width="97.25" height="2.6" fill="#fff"/>
<rect x="467.99" y="437.1" width="43.76" height="2.4" fill="url(#gbar)"/>
<path d="M425.5 370.8V400M507.5 400V414.6" stroke="#f06a6a" stroke-width="0.8"/>
<path d="M414.2 399L415 389L417 380L419.5 373.8L422.5 371.3L426.3 370L430 371.3L433.8 373L436.3 373.8L444 378.5L452.5 385L464 392.5L476.3 400L487 405.5L497.5 410L506.3 413.8L509.5 412.5L511.75 405" stroke="#3ee83e" stroke-width="1.25" fill="none" stroke-linejoin="round"/>
<rect x="414.5" y="364.5" width="97.25" height="75.7" fill="none" stroke="#353535" stroke-width="1.1"/>
<path d="M411.5 419.2H414.5M411.5 412.8H414.5M411.5 406.4H414.5M411.5 400H414.5M411.5 393.6H414.5M411.5 387.2H414.5M411.5 380.8H414.5M411.5 374.4H414.5M411.5 368H414.5" stroke="#333" stroke-width="0.7"/>
<g font-size="5.6" fill="#333"><text x="409.9" y="421.2" text-anchor="end" textLength="10.2" lengthAdjust="spacingAndGlyphs" stroke="#333" stroke-width="0.12">−0.3</text><text x="409.9" y="414.8" text-anchor="end" textLength="10.2" lengthAdjust="spacingAndGlyphs" stroke="#333" stroke-width="0.12">−0.2</text><text x="409.9" y="408.4" text-anchor="end" textLength="10.2" lengthAdjust="spacingAndGlyphs" stroke="#333" stroke-width="0.12">−0.1</text><text x="409.9" y="402" text-anchor="end" textLength="3.0" lengthAdjust="spacingAndGlyphs" stroke="#333" stroke-width="0.12">0</text><text x="409.9" y="395.6" text-anchor="end" textLength="7.9" lengthAdjust="spacingAndGlyphs" stroke="#333" stroke-width="0.12">0.1</text><text x="409.9" y="389.2" text-anchor="end" textLength="7.9" lengthAdjust="spacingAndGlyphs" stroke="#333" stroke-width="0.12">0.2</text><text x="409.9" y="382.8" text-anchor="end" textLength="7.9" lengthAdjust="spacingAndGlyphs" stroke="#333" stroke-width="0.12">0.3</text><text x="409.9" y="376.4" text-anchor="end" textLength="7.9" lengthAdjust="spacingAndGlyphs" stroke="#333" stroke-width="0.12">0.4</text><text x="409.9" y="370" text-anchor="end" textLength="7.9" lengthAdjust="spacingAndGlyphs" stroke="#333" stroke-width="0.12">0.5</text></g>
<g font-size="5.25" fill="#d4446a">
<text x="430.5" y="371.3" stroke="#d4446a" stroke-width="0.12">ES high = 0.46</text>
<text x="470.5" y="371.3" stroke="#d4446a" stroke-width="0.12">Padj = 4.03E-16</text>
<text x="470.5" y="378.3" stroke="#d4446a" stroke-width="0.12">n = 90</text>
<text x="507" y="419.5" text-anchor="end" stroke="#d4446a" stroke-width="0.12">ES low = −0.232</text>
</g>
<text x="463" y="362" font-size="7.7" font-weight="bold" fill="#111" text-anchor="middle" textLength="52.0" lengthAdjust="spacingAndGlyphs" stroke="#111" stroke-width="0.072">KEGG oxphos</text>
<rect x="292" y="463.8" width="97.5" height="75.7" fill="#fff"/>
<path d="M292 518.25H389.5M292 503.75H389.5M292 496.5H389.5M292 489.25H389.5M292 482H389.5M292 474.75H389.5M292 467.5H389.5M298.68 463.8V523M305.36 463.8V523M312.03 463.8V523M318.71 463.8V523M325.39 463.8V523M332.07 463.8V523M338.75 463.8V523M345.42 463.8V523M352.1 463.8V523M358.78 463.8V523M365.46 463.8V523M372.14 463.8V523M378.82 463.8V523M385.49 463.8V523" stroke="#e2e2e2" stroke-width="0.6" fill="none"/>
<path d="M297 521H386.5" stroke="#d0d0d0" stroke-width="1.6" stroke-dasharray="3 3.6"/>
<path d="M292 511H389.5" stroke="#9c9c9c" stroke-width="1.4"/>
<path d="M306.38 523V536.2M352.67 523V536.2" stroke="#999" stroke-width="1.6"/>
<path d="M304.39 523V536.2" stroke="#333" stroke-width="2.0"/>
<path d="M300.6 523V536.2M293.78 523V536.2M318.6 523V536.2M319.97 523V536.2" stroke="#555" stroke-width="1.3"/>
<path d="M305.15 523V536.2M307.43 523V536.2M319.16 523V536.2" stroke="#222" stroke-width="1.3"/>
<path d="M296.57 523V536.2M329.06 523V536.2M351.34 523V536.2" stroke="#bbb" stroke-width="0.8"/>
<path d="M296.78 523V536.2M305.36 523V536.2M330.68 523V536.2M376.82 523V536.2" stroke="#999" stroke-width="1.0"/>
<path d="M303.89 523V536.2" stroke="#555" stroke-width="1.0"/>
<path d="M305.68 523V536.2" stroke="#bbb" stroke-width="2.0"/>
<path d="M306.08 523V536.2M305.95 523V536.2" stroke="#aaa" stroke-width="1.6"/>
<path d="M306.86 523V536.2M305.93 523V536.2M353.44 523V536.2" stroke="#222" stroke-width="1.0"/>
<path d="M297.4 523V536.2M357.75 523V536.2" stroke="#222" stroke-width="1.6"/>
<path d="M310.86 523V536.2M312.35 523V536.2M335.12 523V536.2" stroke="#bbb" stroke-width="1.3"/>
<path d="M317.72 523V536.2M371.59 523V536.2M374.52 523V536.2" stroke="#bbb" stroke-width="1.6"/>
<path d="M330.21 523V536.2M360.2 523V536.2" stroke="#777" stroke-width="1.3"/>
<path d="M308.16 523V536.2" stroke="#999" stroke-width="1.3"/>
<path d="M326.65 523V536.2" stroke="#777" stroke-width="1.0"/>
<path d="M329.58 523V536.2M331.64 523V536.2" stroke="#222" stroke-width="0.8"/>
<path d="M333.74 523V536.2M365.18 523V536.2M354.61 523V536.2M356.99 523V536.2" stroke="#444" stroke-width="2.0"/>
<path d="M349.87 523V536.2M362.36 523V536.2" stroke="#999" stroke-width="2.0"/>
<path d="M331.91 523V536.2" stroke="#444" stroke-width="1.0"/>
<path d="M331.49 523V536.2M362.65 523V536.2" stroke="#aaa" stroke-width="1.3"/>
<path d="M370.12 523V536.2M378.55 523V536.2" stroke="#333" stroke-width="1.6"/>
<path d="M357.67 523V536.2M361.8 523V536.2" stroke="#555" stroke-width="1.6"/>
<path d="M351.31 523V536.2" stroke="#aaa" stroke-width="0.8"/>
<path d="M356.14 523V536.2" stroke="#444" stroke-width="1.6"/>
<path d="M362.59 523V536.2" stroke="#444" stroke-width="1.3"/>
<path d="M361.08 523V536.2" stroke="#777" stroke-width="1.6"/>
<path d="M387.32 523V536.2M375.82 523V536.2" stroke="#777" stroke-width="0.8"/>
<path d="M380.24 523V536.2" stroke="#333" stroke-width="1.3"/>
<path d="M292 523H389.5" stroke="#333" stroke-width="0.9"/>
<rect x="292" y="536.3" width="97.5" height="2.6" fill="#fff"/>
<rect x="345.62" y="536.4" width="43.88" height="2.4" fill="url(#gbar)"/>
<path d="M308 472.2V511M385.2 511V515" stroke="#f06a6a" stroke-width="0.8"/>
<path d="M292 503L293 494L294 487L295.2 482.5L297 478.5L298.8 476.3L302.5 473.8L307.5 472.5L313.8 472.5L320 475L326.3 478.8L335 484L345 491.3L357 501L368.8 511.2L375 515L380 515.3L385 515L387.5 513L389.5 510.8" stroke="#3ee83e" stroke-width="1.25" fill="none" stroke-linejoin="round"/>
<rect x="292" y="463.8" width="97.5" height="75.7" fill="none" stroke="#353535" stroke-width="1.1"/>
<path d="M289 518.25H292M289 511H292M289 503.75H292M289 496.5H292M289 489.25H292M289 482H292M289 474.75H292M289 467.5H292" stroke="#333" stroke-width="0.7"/>
<g font-size="5.6" fill="#333"><text x="287.4" y="520.25" text-anchor="end" textLength="10.2" lengthAdjust="spacingAndGlyphs" stroke="#333" stroke-width="0.12">−0.1</text><text x="287.4" y="513" text-anchor="end" textLength="3.0" lengthAdjust="spacingAndGlyphs" stroke="#333" stroke-width="0.12">0</text><text x="287.4" y="505.75" text-anchor="end" textLength="7.9" lengthAdjust="spacingAndGlyphs" stroke="#333" stroke-width="0.12">0.1</text><text x="287.4" y="498.5" text-anchor="end" textLength="7.9" lengthAdjust="spacingAndGlyphs" stroke="#333" stroke-width="0.12">0.2</text><text x="287.4" y="491.25" text-anchor="end" textLength="7.9" lengthAdjust="spacingAndGlyphs" stroke="#333" stroke-width="0.12">0.3</text><text x="287.4" y="484" text-anchor="end" textLength="7.9" lengthAdjust="spacingAndGlyphs" stroke="#333" stroke-width="0.12">0.4</text><text x="287.4" y="476.75" text-anchor="end" textLength="7.9" lengthAdjust="spacingAndGlyphs" stroke="#333" stroke-width="0.12">0.5</text><text x="287.4" y="469.5" text-anchor="end" textLength="7.9" lengthAdjust="spacingAndGlyphs" stroke="#333" stroke-width="0.12">0.6</text></g>
<g font-size="5.25" fill="#d4446a">
<text x="307" y="472" stroke="#d4446a" stroke-width="0.12">ES high = 0.54</text>
<text x="351.3" y="472" stroke="#d4446a" stroke-width="0.12">Padj = 1.6E-16</text>
<text x="351.3" y="478.8" stroke="#d4446a" stroke-width="0.12">n = 87</text>
<text x="329.3" y="517.5" text-anchor="start" stroke="#d4446a" stroke-width="0.12">ES low = −0.058</text>
</g>
<text x="340.4" y="451.9" font-size="7.7" font-weight="bold" fill="#111" text-anchor="middle" textLength="53.0" lengthAdjust="spacingAndGlyphs" stroke="#111" stroke-width="0.072">Reactome cell</text>
<text x="340.4" y="460.3" font-size="7.7" font-weight="bold" fill="#111" text-anchor="middle" textLength="67.0" lengthAdjust="spacingAndGlyphs" stroke="#111" stroke-width="0.072">cycle checkpoints</text>
<rect x="414.5" y="463.8" width="97.25" height="75.7" fill="#fff"/>
<path d="M414.5 518.75H511.75M414.5 507.25H511.75M414.5 501.5H511.75M414.5 495.75H511.75M414.5 490H511.75M414.5 484.25H511.75M414.5 478.5H511.75M414.5 472.75H511.75M414.5 467H511.75M421.16 463.8V523M427.82 463.8V523M434.48 463.8V523M441.14 463.8V523M447.8 463.8V523M454.47 463.8V523M461.13 463.8V523M467.79 463.8V523M474.45 463.8V523M481.11 463.8V523M487.77 463.8V523M494.43 463.8V523M501.09 463.8V523M507.75 463.8V523" stroke="#e2e2e2" stroke-width="0.6" fill="none"/>
<path d="M419.5 521H508.75" stroke="#d0d0d0" stroke-width="1.6" stroke-dasharray="3 3.6"/>
<path d="M414.5 513H511.75" stroke="#9c9c9c" stroke-width="1.4"/>
<path d="M421.9 523V536.2M434.98 523V536.2" stroke="#aaa" stroke-width="1.3"/>
<path d="M416.17 523V536.2M417.88 523V536.2M486.27 523V536.2" stroke="#555" stroke-width="0.8"/>
<path d="M424.65 523V536.2M487.14 523V536.2" stroke="#999" stroke-width="2.0"/>
<path d="M419.42 523V536.2" stroke="#777" stroke-width="0.8"/>
<path d="M416.95 523V536.2M492.63 523V536.2" stroke="#777" stroke-width="1.6"/>
<path d="M425 523V536.2M424.94 523V536.2M432.3 523V536.2" stroke="#333" stroke-width="1.6"/>
<path d="M422.32 523V536.2" stroke="#333" stroke-width="0.8"/>
<path d="M421.69 523V536.2M438.13 523V536.2" stroke="#222" stroke-width="1.3"/>
<path d="M418.24 523V536.2M488.96 523V536.2" stroke="#bbb" stroke-width="1.6"/>
<path d="M418.24 523V536.2M447.58 523V536.2" stroke="#222" stroke-width="1.0"/>
<path d="M417.94 523V536.2M438.19 523V536.2M435.51 523V536.2" stroke="#444" stroke-width="1.0"/>
<path d="M430.16 523V536.2" stroke="#444" stroke-width="1.6"/>
<path d="M426.81 523V536.2" stroke="#444" stroke-width="2.0"/>
<path d="M428.65 523V536.2M456.32 523V536.2" stroke="#333" stroke-width="1.0"/>
<path d="M458.59 523V536.2" stroke="#999" stroke-width="1.0"/>
<path d="M468.47 523V536.2" stroke="#bbb" stroke-width="0.8"/>
<path d="M496.85 523V536.2" stroke="#999" stroke-width="1.6"/>
<path d="M497.48 523V536.2" stroke="#bbb" stroke-width="2.0"/>
<path d="M502.97 523V536.2" stroke="#777" stroke-width="1.0"/>
<path d="M503.92 523V536.2" stroke="#444" stroke-width="1.3"/>
<path d="M414.5 523H511.75" stroke="#333" stroke-width="0.9"/>
<rect x="414.5" y="536.3" width="97.25" height="2.6" fill="#fff"/>
<rect x="467.99" y="536.4" width="43.76" height="2.4" fill="url(#gbar)"/>
<path d="M426.3 472V513" stroke="#f06a6a" stroke-width="0.8"/>
<path d="M414 513L414.8 503L416 494L417.5 486L419.5 478L421.5 474L424 473L426.2 471.8L430 473.5L434 472.2L440 476L455 482L470 489L485 497.5L495 504.5L498 505.6L502 506.5L506 509.5L511.75 513" stroke="#3ee83e" stroke-width="1.25" fill="none" stroke-linejoin="round"/>
<rect x="414.5" y="463.8" width="97.25" height="75.7" fill="none" stroke="#353535" stroke-width="1.1"/>
<path d="M411.5 518.75H414.5M411.5 513H414.5M411.5 507.25H414.5M411.5 501.5H414.5M411.5 495.75H414.5M411.5 490H414.5M411.5 484.25H414.5M411.5 478.5H414.5M411.5 472.75H414.5M411.5 467H414.5" stroke="#333" stroke-width="0.7"/>
<g font-size="5.6" fill="#333"><text x="409.9" y="520.75" text-anchor="end" textLength="10.2" lengthAdjust="spacingAndGlyphs" stroke="#333" stroke-width="0.12">−0.1</text><text x="409.9" y="515" text-anchor="end" textLength="3.0" lengthAdjust="spacingAndGlyphs" stroke="#333" stroke-width="0.12">0</text><text x="409.9" y="509.25" text-anchor="end" textLength="7.9" lengthAdjust="spacingAndGlyphs" stroke="#333" stroke-width="0.12">0.1</text><text x="409.9" y="503.5" text-anchor="end" textLength="7.9" lengthAdjust="spacingAndGlyphs" stroke="#333" stroke-width="0.12">0.2</text><text x="409.9" y="497.75" text-anchor="end" textLength="7.9" lengthAdjust="spacingAndGlyphs" stroke="#333" stroke-width="0.12">0.3</text><text x="409.9" y="492" text-anchor="end" textLength="7.9" lengthAdjust="spacingAndGlyphs" stroke="#333" stroke-width="0.12">0.4</text><text x="409.9" y="486.25" text-anchor="end" textLength="7.9" lengthAdjust="spacingAndGlyphs" stroke="#333" stroke-width="0.12">0.5</text><text x="409.9" y="480.5" text-anchor="end" textLength="7.9" lengthAdjust="spacingAndGlyphs" stroke="#333" stroke-width="0.12">0.6</text><text x="409.9" y="474.75" text-anchor="end" textLength="7.9" lengthAdjust="spacingAndGlyphs" stroke="#333" stroke-width="0.12">0.7</text><text x="409.9" y="469" text-anchor="end" textLength="7.9" lengthAdjust="spacingAndGlyphs" stroke="#333" stroke-width="0.12">0.8</text></g>
<g font-size="5.25" fill="#d4446a">
<text x="430.5" y="472" stroke="#d4446a" stroke-width="0.12">ES high = 0.716</text>
<text x="477.5" y="472" stroke="#d4446a" stroke-width="0.12">Padj = 0.0003</text>
<text x="477.5" y="478.8" stroke="#d4446a" stroke-width="0.12">n = 19</text>
<text x="422" y="517.5" text-anchor="start" stroke="#d4446a" stroke-width="0.12">ES low = −0.012</text>
</g>
<text x="463" y="451.9" font-size="7.7" font-weight="bold" fill="#111" text-anchor="middle" textLength="58.0" lengthAdjust="spacingAndGlyphs" stroke="#111" stroke-width="0.072">Reactome ATF4</text>
<text x="463" y="460.3" font-size="7.7" font-weight="bold" fill="#111" text-anchor="middle" textLength="29.6" lengthAdjust="spacingAndGlyphs" stroke="#111" stroke-width="0.072">pathway</text>
<path d="M274.5 183.6V539" stroke="#3a3a3a" stroke-width="1.15"/>
<text transform="translate(271.2 361) rotate(-90)" font-size="7.9" fill="#1e1e1e" text-anchor="middle" textLength="61.6" lengthAdjust="spacingAndGlyphs" stroke="#1e1e1e" stroke-width="0.12">Enrichment score</text>
<path d="M292.5 542.5H328.8M354.5 542.5H389.5M415.8 542.5H451.8M476.3 542.5H511.8M291 555.5H511.3" stroke="#3a3a3a" stroke-width="1.2"/>
<g font-size="7.9" fill="#1e1e1e">
<text x="310.8" y="550.8" text-anchor="middle" textLength="33.5" lengthAdjust="spacingAndGlyphs" stroke="#1e1e1e" stroke-width="0.12">Physioxia</text>
<text x="372" y="550.8" text-anchor="middle" textLength="11" lengthAdjust="spacingAndGlyphs" stroke="#1e1e1e" stroke-width="0.12">Air</text>
<text x="434" y="550.8" text-anchor="middle" textLength="33.5" lengthAdjust="spacingAndGlyphs" stroke="#1e1e1e" stroke-width="0.12">Physioxia</text>
<text x="494" y="550.8" text-anchor="middle" textLength="11" lengthAdjust="spacingAndGlyphs" stroke="#1e1e1e" stroke-width="0.12">Air</text>
<text x="401.5" y="564.8" text-anchor="middle" textLength="85" lengthAdjust="spacingAndGlyphs" stroke="#1e1e1e" stroke-width="0.12">Rank in ordered dataset</text>
</g>
<text x="278.6" y="584.5" font-size="8.6" font-style="italic" fill="#111" textLength="14.2" lengthAdjust="spacingAndGlyphs" stroke="#111" stroke-width="0.12">Tet2</text>
<text x="293.2" y="586.6" font-size="6.2" fill="#222" textLength="56.3" lengthAdjust="spacingAndGlyphs" stroke="#222" stroke-width="0.12">(WT-LSK-CD150 high)</text>
<text x="312.6" y="595.6" font-size="8.6" font-weight="bold" fill="#222" text-anchor="middle" textLength="13.2" lengthAdjust="spacingAndGlyphs" stroke="#222" stroke-width="0.072">****</text>
<path d="M289.2 593.2V698.8H338" stroke="#111" stroke-width="1.3" fill="none"/>
<path d="M285.3 600.5H289.2M285.3 629.4H289.2M285.3 658.5H289.2M285.3 687.6H289.2M302 699V702.6M323.5 699V702.6" stroke="#111" stroke-width="0.9"/>
<g font-size="8.2" fill="#333" text-anchor="middle">
<text x="280.6" y="603.4" stroke="#333" stroke-width="0.12">3</text>
<text x="280.6" y="632.3" stroke="#333" stroke-width="0.12">2</text>
<text x="280.6" y="661.4" stroke="#333" stroke-width="0.12">1</text>
<text x="280.6" y="690.5" stroke="#333" stroke-width="0.12">0</text>
</g>
<text transform="translate(272.8 646.3) rotate(-90)" font-size="8.8" fill="#2a2a2a" text-anchor="middle" textLength="75.3" lengthAdjust="spacingAndGlyphs" stroke="#2a2a2a" stroke-width="0.12">Normalized expression</text>
<path d="M302 608V684" stroke="#17508f" stroke-width="1.5"/>
<path d="M302 608V620" stroke="#3d4b5e" stroke-width="1.3"/>
<path d="M302 683.3C300.2 685 296.5 686.3 294.3 687.8C296.5 689.3 300 690.2 302 693.2C304 690.2 307.5 689.3 310 687.8C307.5 686.3 303.8 685 302 683.3Z" fill="#17508f"/>
<path d="M300.4 687.9H303.6" stroke="#111" stroke-width="0.9"/>
<path d="M323.5 595V684" stroke="#c9122f" stroke-width="1.4"/><path d="M323.5 645V684" stroke="#c9122f" stroke-width="1.9"/>
<path d="M323.5 595V606" stroke="#3a2a2e" stroke-width="1.2"/>
<g fill="#c9122f"><circle cx="323.5" cy="599.6" r="0.9"/><circle cx="323.5" cy="609" r="0.9"/><circle cx="323.5" cy="619.5" r="0.9"/><circle cx="323.5" cy="628.5" r="0.9"/></g>
<path d="M323.5 684.2C321.5 686 317 687.2 313.8 688C317 688.8 321.5 689.8 323.5 692.4C325.5 689.8 330 688.8 333 688C330 687.2 325.5 686 323.5 684.2Z" fill="#c9122f"/>
<rect x="338.3" y="594.5" width="5.2" height="5.2" fill="#c9122f"/><rect x="338.3" y="605" width="5.2" height="5.3" fill="#17508f"/>
<text x="346.4" y="599.6" font-size="7.3" fill="#c9122f" textLength="23.6" lengthAdjust="spacingAndGlyphs" stroke="#c9122f" stroke-width="0.12">WT- air</text>
<text x="346.4" y="610" font-size="7.3" fill="#1f5596" textLength="46.1" lengthAdjust="spacingAndGlyphs" stroke="#1f5596" stroke-width="0.12">WT- physioxia</text>
<circle cx="440.8" cy="587.3" r="2.6" fill="#c9122f"/>
<rect x="438.9" y="595.8" width="4.9" height="4.8" fill="#1f5596"/>
<text x="447" y="589.9" font-size="7.3" fill="#c9122f" textLength="23.6" lengthAdjust="spacingAndGlyphs" stroke="#c9122f" stroke-width="0.12">WT- air</text>
<text x="447" y="600.4" font-size="7.3" fill="#3a78b5" textLength="46.1" lengthAdjust="spacingAndGlyphs" stroke="#3a78b5" stroke-width="0.12">WT- physioxia</text>
<path d="M431.2 593.4V698.8H491.6" stroke="#111" stroke-width="1.3" fill="none"/>
<path d="M427.8 601.2H431.2M427.8 625.7H431.2M427.8 650.4H431.2M427.8 674.7H431.2M448.6 699V702.5M474.4 699V702.5" stroke="#111" stroke-width="0.9"/>
<g font-size="8.2" fill="#333" text-anchor="end">
<text x="425.3" y="604.1" textLength="11.2" lengthAdjust="spacingAndGlyphs" stroke="#333" stroke-width="0.12">0.8</text>
<text x="425.3" y="628.6" textLength="11.2" lengthAdjust="spacingAndGlyphs" stroke="#333" stroke-width="0.12">0.6</text>
<text x="425.3" y="653.3" textLength="11.2" lengthAdjust="spacingAndGlyphs" stroke="#333" stroke-width="0.12">0.4</text>
<text x="425.3" y="677.6" textLength="11.2" lengthAdjust="spacingAndGlyphs" stroke="#333" stroke-width="0.12">0.2</text>
<text x="425.3" y="701.9" textLength="11.2" lengthAdjust="spacingAndGlyphs" stroke="#333" stroke-width="0.12">0.0</text>
</g>
<text transform="translate(408.4 647.5) rotate(-90)" font-size="8.2" fill="#222" text-anchor="middle" textLength="72.5" lengthAdjust="spacingAndGlyphs" stroke="#222" stroke-width="0.12">5-hm-C level -BM-Lin-</text>
<rect x="441" y="657.4" width="15.2" height="41.4" fill="#7fa3c6" stroke="#a8c2dc" stroke-width="0.8"/>
<rect x="466.6" y="630.8" width="15.4" height="68" fill="#e08093" stroke="#eca8b5" stroke-width="0.8"/>
<path d="M448.6 653.6V659M444.7 653.6H452.5M444.7 659H452.5" stroke="#222" stroke-width="1.25"/>
<path d="M474.4 626V632.8M470.5 626H478.3M470.5 632.8H478.3" stroke="#222" stroke-width="1.25"/>
<g fill="#1a4f90">
<rect x="447.1" y="646.1" width="2.8" height="2.8"/>
<rect x="444.2" y="650" width="2.8" height="2.8"/>
<rect x="449.9" y="651.2" width="2.8" height="2.8"/>
<rect x="441.6" y="660.7" width="2.8" height="2.8"/>
<rect x="447.1" y="660.7" width="2.8" height="2.8"/>
<rect x="452.6" y="660.7" width="2.8" height="2.8"/>
</g><g fill="#d0103a">
<circle cx="474.3" cy="620.3" r="1.75"/>
<circle cx="468.9" cy="627.4" r="1.75"/>
<circle cx="479.8" cy="625.4" r="1.75"/>
<circle cx="474.3" cy="630" r="1.75"/>
<circle cx="479.8" cy="629.6" r="1.75"/>
<circle cx="474.3" cy="644.9" r="1.75"/>
</g>
<path d="M448.2 613.9V609.2H476.4V613.9" stroke="#222" stroke-width="1.0" fill="none"/>
<text x="462.2" y="609.8" font-size="8.6" font-weight="bold" fill="#222" text-anchor="middle" textLength="13.9" lengthAdjust="spacingAndGlyphs" stroke="#222" stroke-width="0.072">****</text>
<g font-weight="bold" font-size="10.8">
<text x="6.3" y="15.2" stroke="#000" stroke-width="0.12">A</text>
<text x="194.3" y="15.2" stroke="#000" stroke-width="0.12">B</text>
<text x="359" y="15" stroke="#000" stroke-width="0.12">C</text>
<text x="7.3" y="205.4" stroke="#000" stroke-width="0.12">D</text>
<text x="263.3" y="180.3" stroke="#000" stroke-width="0.12">E</text>
<text x="7.4" y="466.9" stroke="#000" stroke-width="0.12">F</text>
<text x="263.5" y="584.1" stroke="#000" stroke-width="0.12">G</text>
<text x="400.2" y="584.7" stroke="#000" stroke-width="0.12">H</text>
</g>
<rect x="0.5" y="0.5" width="519" height="709" fill="none" stroke="#000" stroke-width="1"/>
</svg>
</body></html>
